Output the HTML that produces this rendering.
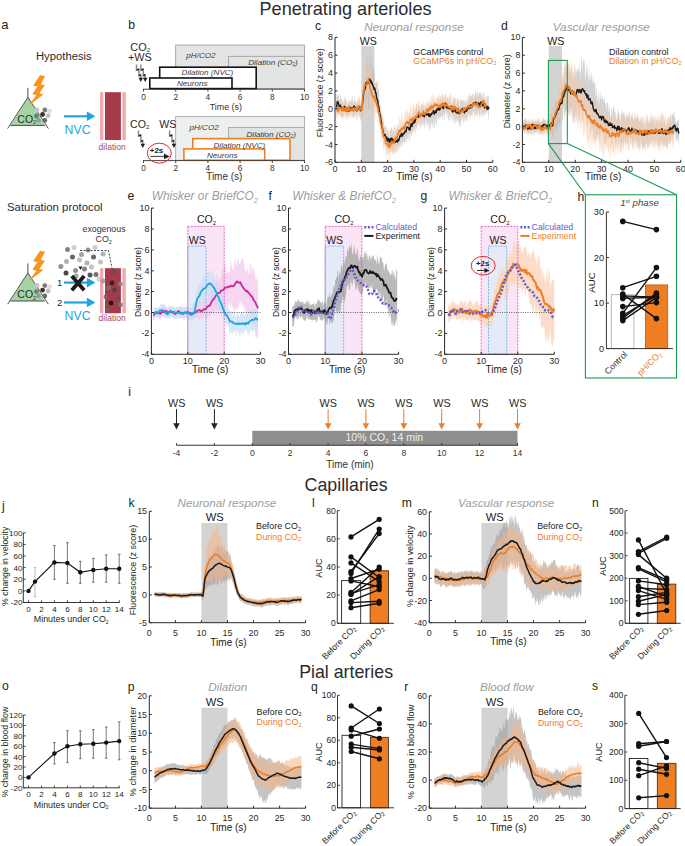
<!DOCTYPE html>
<html><head><meta charset="utf-8"><title>Figure</title>
<style>
html,body{margin:0;padding:0;background:#fff;width:685px;height:846px;overflow:hidden}
svg{display:block}
text{font-family:"Liberation Sans", sans-serif}
</style></head><body>
<svg width="685" height="846" viewBox="0 0 685 846">
<rect width="685" height="846" fill="#fff"/>
<text x="345.5" y="14.6" font-size="18.1" fill="#2b2b2b" text-anchor="middle" >Penetrating arterioles</text>
<text x="346.1" y="491.2" font-size="17.8" fill="#2b2b2b" text-anchor="middle" >Capillaries</text>
<text x="346.1" y="677.5" font-size="17.8" fill="#2b2b2b" text-anchor="middle" >Pial arteries</text>
<text x="1.2" y="29.2" font-size="13" fill="#231f20" text-anchor="start" >a</text>
<text x="36.0" y="59.5" font-size="11.25" fill="#2b2b2b" text-anchor="start" >Hypothesis</text>
<polygon points="27.9,97.3 10.4,125.4 44.9,125.4" fill="#a5d4a6" stroke="none"/>
<path d="M7.6,128.6 L27.9,97.3 L48.4,128.6 M10.4,125.4 H44.9 M27.9,97.3 V87.8" fill="none" stroke="#3d3d3d" stroke-width="0.9"/>
<circle cx="37.1" cy="109.8" r="2.4" fill="#c4c4c4"/>
<circle cx="44.8" cy="110" r="2.4" fill="#7a7a7a"/>
<circle cx="49.5" cy="111.2" r="2.4" fill="#e0e0e0"/>
<circle cx="42.6" cy="114.5" r="2.4" fill="#333"/>
<circle cx="48.1" cy="115.6" r="2.4" fill="#c0c0c0"/>
<circle cx="36.4" cy="116" r="2.4" fill="#6d7f6d"/>
<circle cx="38.6" cy="120.4" r="2.4" fill="#8fa28f"/>
<circle cx="44.8" cy="120.4" r="2.4" fill="#6a6a6a"/>
<text x="17.3" y="122.8" font-size="10.5" fill="#2a2a2a" text-anchor="start" >CO<tspan font-size="5.5" dy="1.5">2</tspan></text>
<polygon points="40.04,75.11 45.00,76.20 40.77,84.23 44.78,85.33 39.31,93.36 43.32,94.45 27.99,106.13 36.39,95.18 32.37,94.09 37.48,86.42 33.10,85.69" fill="#f7941d"/>
<line x1="64" y1="116.3" x2="87.9" y2="116.3" stroke="#1ea4df" stroke-width="2.2"/>
<polygon points="95.4,116.3 86.9,111.5 86.9,121.1" fill="#1ea4df"/>
<text x="64.6" y="133.6" font-size="12.3" fill="#1ea4df" text-anchor="start" >NVC</text>
<rect x="100" y="92.2" width="25.8" height="47.8" fill="#f1a9ae"/>
<rect x="103.4" y="92.2" width="19" height="47.8" fill="#ffffff"/>
<rect x="105" y="92.2" width="15.9" height="47.8" fill="#a53b4a"/>
<text x="98.6" y="149.7" font-size="8.6" fill="#b0485a" text-anchor="start" >dilation</text>
<text x="7.0" y="210.9" font-size="11.4" fill="#2b2b2b" text-anchor="start" >Saturation protocol</text>
<polygon points="27.9,272.9 10.4,301.0 44.9,301.0" fill="#a5d4a6" stroke="none"/>
<path d="M7.6,304.2 L27.9,272.9 L48.4,304.2 M10.4,301.0 H44.9 M27.9,272.9 V263.4" fill="none" stroke="#3d3d3d" stroke-width="0.9"/>
<circle cx="37.1" cy="285.4" r="2.4" fill="#c4c4c4"/>
<circle cx="44.8" cy="285.6" r="2.4" fill="#7a7a7a"/>
<circle cx="49.5" cy="286.8" r="2.4" fill="#e0e0e0"/>
<circle cx="42.6" cy="290.1" r="2.4" fill="#333"/>
<circle cx="48.1" cy="291.2" r="2.4" fill="#c0c0c0"/>
<circle cx="36.4" cy="291.6" r="2.4" fill="#6d7f6d"/>
<circle cx="38.6" cy="296.0" r="2.4" fill="#8fa28f"/>
<circle cx="44.8" cy="296.0" r="2.4" fill="#6a6a6a"/>
<text x="17.3" y="298.4" font-size="10.5" fill="#2a2a2a" text-anchor="start" >CO<tspan font-size="5.5" dy="1.5">2</tspan></text>
<polygon points="40.04,250.71 45.00,251.80 40.77,259.83 44.78,260.93 39.31,268.96 43.32,270.05 27.99,281.73 36.39,270.78 32.37,269.69 37.48,262.02 33.10,261.29" fill="#f7941d"/>
<circle cx="67.5" cy="249.5" r="2.5" fill="#777" fill-opacity="0.9"/>
<circle cx="74" cy="247.5" r="2.5" fill="#c8c8c8" fill-opacity="0.9"/>
<circle cx="88" cy="250" r="2.5" fill="#888" fill-opacity="0.9"/>
<circle cx="95" cy="247.5" r="2.5" fill="#c8c8c8" fill-opacity="0.9"/>
<circle cx="103" cy="254" r="2.5" fill="#aaa" fill-opacity="0.9"/>
<circle cx="72.5" cy="257" r="2.5" fill="#555" fill-opacity="0.9"/>
<circle cx="81.5" cy="254.5" r="2.5" fill="#999" fill-opacity="0.9"/>
<circle cx="93.5" cy="257" r="2.5" fill="#555" fill-opacity="0.9"/>
<circle cx="60.8" cy="266.5" r="2.5" fill="#888" fill-opacity="0.9"/>
<circle cx="66.5" cy="261.5" r="2.5" fill="#aaa" fill-opacity="0.9"/>
<circle cx="79.5" cy="260" r="2.5" fill="#bbb" fill-opacity="0.9"/>
<circle cx="87" cy="263" r="2.5" fill="#aaa" fill-opacity="0.9"/>
<circle cx="91.5" cy="267" r="2.5" fill="#bbb" fill-opacity="0.9"/>
<circle cx="100.5" cy="262" r="2.5" fill="#bbb" fill-opacity="0.9"/>
<circle cx="66" cy="273" r="2.5" fill="#333" fill-opacity="0.9"/>
<circle cx="75.5" cy="270.5" r="2.5" fill="#888" fill-opacity="0.9"/>
<circle cx="84.5" cy="269" r="2.5" fill="#777" fill-opacity="0.9"/>
<circle cx="96" cy="274.5" r="2.5" fill="#666" fill-opacity="0.9"/>
<circle cx="99" cy="279" r="2.5" fill="#ccc" fill-opacity="0.9"/>
<circle cx="90" cy="275" r="2.5" fill="#444" fill-opacity="0.9"/>
<circle cx="76" cy="276" r="2.5" fill="#999" fill-opacity="0.9"/>
<path d="M80,250.5 H108.5 L112,268" fill="none" stroke="#333" stroke-width="0.9" stroke-dasharray="2,1.5"/>
<polygon points="78.5,266.5 82.5,266.5 80.5,270" fill="#222"/>
<text x="82.5" y="232.3" font-size="8.8" fill="#333" text-anchor="start" >exogenous</text>
<text x="95.6" y="242.4" font-size="8.8" fill="#333" text-anchor="start" >CO<tspan font-size="5.5" dy="1.5">2</tspan></text>
<rect x="100" y="268.2" width="25.8" height="45.0" fill="#f1a9ae"/>
<rect x="103.4" y="268.2" width="19" height="45.0" fill="#ffffff"/>
<rect x="105" y="268.2" width="15.9" height="45.0" fill="#a53b4a"/>
<circle cx="113.5" cy="271.5" r="2.4" fill="#555" fill-opacity="0.85"/>
<circle cx="112" cy="283" r="2.4" fill="#222" fill-opacity="0.85"/>
<circle cx="120.5" cy="284" r="2.4" fill="#888" fill-opacity="0.85"/>
<circle cx="108.5" cy="288" r="2.4" fill="#777" fill-opacity="0.85"/>
<circle cx="114.5" cy="290" r="2.4" fill="#444" fill-opacity="0.85"/>
<circle cx="106" cy="297" r="2.4" fill="#666" fill-opacity="0.85"/>
<circle cx="118" cy="298.5" r="2.4" fill="#555" fill-opacity="0.85"/>
<circle cx="111" cy="303" r="2.4" fill="#111" fill-opacity="0.85"/>
<circle cx="120.5" cy="305" r="2.4" fill="#777" fill-opacity="0.85"/>
<circle cx="107.5" cy="310" r="2.4" fill="#666" fill-opacity="0.85"/>
<circle cx="103" cy="281" r="2.4" fill="#999" fill-opacity="0.85"/>
<line x1="64" y1="282.6" x2="87.9" y2="282.6" stroke="#1ea4df" stroke-width="2.2"/>
<polygon points="95.4,282.6 86.9,277.8 86.9,287.40000000000003" fill="#1ea4df"/>
<line x1="64" y1="302.5" x2="87.9" y2="302.5" stroke="#1ea4df" stroke-width="2.2"/>
<polygon points="95.4,302.5 86.9,297.7 86.9,307.3" fill="#1ea4df"/>
<text x="57.0" y="286.2" font-size="9.5" fill="#2b2b2b" text-anchor="start" >1</text>
<text x="57.0" y="306.2" font-size="9.5" fill="#2b2b2b" text-anchor="start" >2</text>
<path d="M71.8,276 L84.2,290.2 M84.2,276 L71.8,290.2" stroke="#1a1a1a" stroke-width="3.8"/>
<text x="64.6" y="320.2" font-size="12.3" fill="#1ea4df" text-anchor="start" >NVC</text>
<text x="98.6" y="321.4" font-size="8.6" fill="#b0485a" text-anchor="start" >dilation</text>
<text x="128.3" y="29.2" font-size="12.2" fill="#231f20" text-anchor="start" >b</text>
<rect x="175.7" y="45" width="128.8" height="43.6" fill="#e3e4e4" stroke="#9a9a9a" stroke-width="0.8"/>
<rect x="228.4" y="56.3" width="76.1" height="32.3" fill="#e3e4e4" stroke="#9a9a9a" stroke-width="0.8"/>
<rect x="159.7" y="67.2" width="96.5" height="21.4" fill="#fff" stroke="#111" stroke-width="1.6"/>
<rect x="149.8" y="78" width="82.2" height="10.6" fill="#fff" stroke="#111" stroke-width="1.6"/>
<text x="186.3" y="57.7" font-size="8.1" fill="#3a3a3a" text-anchor="start" font-style="italic" >pH/CO2</text>
<text x="248.2" y="65.0" font-size="8.1" fill="#3a3a3a" text-anchor="start" font-style="italic" >Dilation (CO<tspan font-size="5" dy="1.2">2</tspan><tspan dy="-1.2">)</tspan></text>
<text x="181.6" y="75.3" font-size="8.1" fill="#3a3a3a" text-anchor="start" font-style="italic" >Dilation (NVC)</text>
<text x="177.0" y="85.9" font-size="8.1" fill="#3a3a3a" text-anchor="start" font-style="italic" >Neurons</text>
<line x1="143.0" y1="89.2" x2="305.0" y2="89.2" stroke="#333" stroke-width="0.9"/>
<line x1="143.5" y1="89.2" x2="143.5" y2="91.6" stroke="#333" stroke-width="0.9"/>
<text x="143.5" y="99.8" font-size="8.3" fill="#333" text-anchor="middle" >0</text>
<line x1="175.7" y1="89.2" x2="175.7" y2="91.6" stroke="#333" stroke-width="0.9"/>
<text x="175.7" y="99.8" font-size="8.3" fill="#333" text-anchor="middle" >2</text>
<line x1="207.9" y1="89.2" x2="207.9" y2="91.6" stroke="#333" stroke-width="0.9"/>
<text x="207.9" y="99.8" font-size="8.3" fill="#333" text-anchor="middle" >4</text>
<line x1="240.1" y1="89.2" x2="240.1" y2="91.6" stroke="#333" stroke-width="0.9"/>
<text x="240.1" y="99.8" font-size="8.3" fill="#333" text-anchor="middle" >6</text>
<line x1="272.3" y1="89.2" x2="272.3" y2="91.6" stroke="#333" stroke-width="0.9"/>
<text x="272.3" y="99.8" font-size="8.3" fill="#333" text-anchor="middle" >8</text>
<line x1="304.5" y1="89.2" x2="304.5" y2="91.6" stroke="#333" stroke-width="0.9"/>
<text x="304.5" y="99.8" font-size="8.3" fill="#333" text-anchor="middle" >10</text>
<text x="225.8" y="109.6" font-size="8.9" fill="#333" text-anchor="middle" >Time (s)</text>
<text x="130.3" y="50.6" font-size="10.9" fill="#2b2b2b" text-anchor="start" >CO<tspan font-size="6" dy="1.5">2</tspan></text>
<text x="127.9" y="60.9" font-size="10.9" fill="#2b2b2b" text-anchor="start" >+WS</text>
<path d="M136.5,64.6 L136.5,70.1 L138.9,69.2 L138.9,75.7 L140.7,74.7 L140.8,79.2" fill="none" stroke="#8a8a8a" stroke-width="1.5"/>
<line x1="136.7" y1="70.2" x2="138.9" y2="69.1" stroke="#222" stroke-width="1.4"/>
<line x1="139.1" y1="75.8" x2="140.8" y2="74.7" stroke="#222" stroke-width="1.4"/>
<polygon points="138.5,77.8 143.1,77.8 140.8,82.1" fill="#222"/>
<path d="M140.9,64.6 L140.9,70.1 L143.3,69.2 L143.3,75.7 L145.1,74.7 L145.2,79.2" fill="none" stroke="#8a8a8a" stroke-width="1.5"/>
<line x1="141.1" y1="70.2" x2="143.3" y2="69.1" stroke="#222" stroke-width="1.4"/>
<line x1="143.5" y1="75.8" x2="145.2" y2="74.7" stroke="#222" stroke-width="1.4"/>
<polygon points="142.9,77.8 147.5,77.8 145.2,82.1" fill="#222"/>
<rect x="175.7" y="116.4" width="128.8" height="43.8" fill="#eef0f0" stroke="#a0a0a0" stroke-width="0.8"/>
<rect x="228.4" y="127.6" width="76.1" height="32.6" fill="#e2e4e4" stroke="#a0a0a0" stroke-width="0.8"/>
<rect x="192.8" y="138.6" width="97.2" height="21.6" fill="#fff" stroke="#ef7d22" stroke-width="1.6"/>
<rect x="183.9" y="148.9" width="80.8" height="11.3" fill="#fff" stroke="#ef7d22" stroke-width="1.6"/>
<text x="189.5" y="129.5" font-size="8.1" fill="#3a3a3a" text-anchor="start" font-style="italic" >pH/CO2</text>
<text x="246.5" y="137.2" font-size="8.1" fill="#3a3a3a" text-anchor="start" font-style="italic" >Dilation (CO<tspan font-size="5" dy="1.2">2</tspan><tspan dy="-1.2">)</tspan></text>
<text x="213.5" y="147.7" font-size="8.1" fill="#3a3a3a" text-anchor="start" font-style="italic" >Dilation (NVC)</text>
<text x="207.0" y="157.9" font-size="8.1" fill="#3a3a3a" text-anchor="start" font-style="italic" >Neurons</text>
<line x1="143.0" y1="160.6" x2="305.0" y2="160.6" stroke="#333" stroke-width="0.9"/>
<line x1="143.5" y1="160.6" x2="143.5" y2="163.0" stroke="#333" stroke-width="0.9"/>
<text x="143.5" y="171.2" font-size="8.3" fill="#333" text-anchor="middle" >0</text>
<line x1="175.7" y1="160.6" x2="175.7" y2="163.0" stroke="#333" stroke-width="0.9"/>
<text x="175.7" y="171.2" font-size="8.3" fill="#333" text-anchor="middle" >2</text>
<line x1="207.9" y1="160.6" x2="207.9" y2="163.0" stroke="#333" stroke-width="0.9"/>
<text x="207.9" y="171.2" font-size="8.3" fill="#333" text-anchor="middle" >4</text>
<line x1="240.1" y1="160.6" x2="240.1" y2="163.0" stroke="#333" stroke-width="0.9"/>
<text x="240.1" y="171.2" font-size="8.3" fill="#333" text-anchor="middle" >6</text>
<line x1="272.3" y1="160.6" x2="272.3" y2="163.0" stroke="#333" stroke-width="0.9"/>
<text x="272.3" y="171.2" font-size="8.3" fill="#333" text-anchor="middle" >8</text>
<line x1="304.5" y1="160.6" x2="304.5" y2="163.0" stroke="#333" stroke-width="0.9"/>
<text x="304.5" y="171.2" font-size="8.3" fill="#333" text-anchor="middle" >10</text>
<text x="224.3" y="180.2" font-size="10" fill="#333" text-anchor="middle" >Time (s)</text>
<text x="130.1" y="127.8" font-size="10.6" fill="#2b2b2b" text-anchor="start" >CO<tspan font-size="6" dy="1.5">2</tspan></text>
<text x="159.3" y="127.8" font-size="10.6" fill="#2b2b2b" text-anchor="start" >WS</text>
<path d="M138.5,130.5 L138.5,136.0 L140.9,135.1 L140.9,141.6 L142.7,140.6 L142.8,145.1" fill="none" stroke="#8a8a8a" stroke-width="1.5"/>
<line x1="138.7" y1="136.1" x2="140.9" y2="135.0" stroke="#222" stroke-width="1.4"/>
<line x1="141.1" y1="141.7" x2="142.8" y2="140.6" stroke="#222" stroke-width="1.4"/>
<polygon points="140.5,143.7 145.1,143.7 142.8,148.0" fill="#222"/>
<path d="M169.6,130.5 L169.6,136.0 L172.0,135.1 L172.0,141.6 L173.8,140.6 L173.9,145.1" fill="none" stroke="#8a8a8a" stroke-width="1.5"/>
<line x1="169.8" y1="136.1" x2="172.0" y2="135.0" stroke="#222" stroke-width="1.4"/>
<line x1="172.2" y1="141.7" x2="173.9" y2="140.6" stroke="#222" stroke-width="1.4"/>
<polygon points="171.6,143.7 176.2,143.7 173.9,148.0" fill="#222"/>
<ellipse cx="159.3" cy="153.2" rx="12" ry="10" fill="none" stroke="#e0282e" stroke-width="1"/>
<text x="149.8" y="153.4" font-size="7.9" fill="#222" text-anchor="start" font-weight="bold" >+2s</text>
<line x1="150.3" y1="156.4" x2="165" y2="156.4" stroke="#222" stroke-width="0.9"/>
<polygon points="169.6,156.4 164,153.6 164,159.2" fill="#222"/>
<text x="315.0" y="29.5" font-size="12.2" fill="#231f20" text-anchor="start" >c</text>
<text x="414.0" y="30.7" font-size="11.8" fill="#9d9d9d" text-anchor="middle" font-style="italic" >Neuronal response</text>
<rect x="361.3" y="46" width="13.1" height="116.3" fill="#d3d3d3"/>
<text x="368.2" y="44.6" font-size="10.6" fill="#1a1a1a" text-anchor="middle" >WS</text>
<polygon points="336.31,97.80 336.79,93.68 337.27,94.62 337.75,96.69 338.23,95.82 338.71,94.45 339.18,99.76 339.66,100.84 340.14,93.91 340.62,94.34 341.10,97.96 341.57,100.15 342.05,98.58 342.53,103.49 343.01,100.07 343.49,104.95 343.97,94.89 344.44,102.83 344.92,95.00 345.40,97.95 345.88,102.12 346.36,99.79 346.83,99.61 347.31,106.17 347.79,105.92 348.27,99.92 348.75,102.50 349.23,102.95 349.70,99.45 350.18,102.72 350.66,101.33 351.14,100.20 351.62,99.78 352.10,95.50 352.57,96.47 353.05,105.13 353.53,101.05 354.01,102.27 354.49,94.83 354.96,98.32 355.44,102.39 355.92,101.12 356.40,102.23 356.88,103.98 357.36,103.91 357.83,104.71 358.31,102.85 358.79,98.21 359.27,103.09 359.75,94.43 360.22,99.68 360.70,107.14 361.18,101.42 361.66,99.07 362.14,96.62 362.62,93.67 363.09,87.11 363.57,78.46 364.05,79.55 364.53,82.73 365.01,73.97 365.48,70.00 365.96,58.75 366.44,71.02 366.92,56.57 367.40,55.67 367.88,62.94 368.35,69.49 368.83,62.68 369.31,71.58 369.79,50.30 370.27,54.36 370.74,63.01 371.22,65.30 371.70,69.63 372.18,75.07 372.66,64.40 373.13,68.17 373.61,65.28 374.09,73.61 374.57,67.43 375.05,82.80 375.53,83.58 376.00,82.62 376.48,82.48 376.96,80.72 377.44,80.06 377.92,86.44 378.39,89.68 378.87,88.78 379.35,99.69 379.83,102.93 380.31,106.48 380.79,111.87 381.26,106.77 381.74,116.70 382.22,116.25 382.70,119.41 383.18,122.47 383.65,117.95 384.13,127.88 384.61,126.74 385.09,126.78 385.57,126.79 386.05,122.80 386.52,130.26 387.00,136.07 387.48,127.93 387.96,132.67 388.44,129.94 388.92,136.66 389.39,137.14 389.87,127.51 390.35,130.83 390.83,127.75 391.31,127.37 391.78,127.85 392.26,134.92 392.74,128.74 393.22,130.44 393.70,130.12 394.18,127.65 394.65,137.33 395.13,133.90 395.61,130.66 396.09,127.55 396.57,131.09 397.04,127.32 397.52,130.08 398.00,125.38 398.48,126.31 398.96,129.75 399.44,132.58 399.91,131.17 400.39,129.53 400.87,126.32 401.35,128.93 401.83,121.84 402.30,123.85 402.78,130.68 403.26,123.25 403.74,129.71 404.22,120.63 404.69,122.98 405.17,122.98 405.65,127.60 406.13,124.40 406.61,118.20 407.09,114.10 407.56,120.11 408.04,123.21 408.52,117.19 409.00,114.91 409.48,117.37 409.95,116.46 410.43,117.67 410.91,117.09 411.39,114.97 411.87,117.06 412.35,119.41 412.82,112.20 413.30,115.98 413.78,110.56 414.26,112.82 414.74,112.33 415.22,108.54 415.69,112.23 416.17,103.23 416.65,104.01 417.13,110.22 417.61,111.03 418.08,104.26 418.56,105.55 419.04,112.15 419.52,105.00 420.00,108.01 420.48,111.59 420.95,101.29 421.43,105.81 421.91,102.11 422.39,106.29 422.87,105.08 423.34,108.46 423.82,104.80 424.30,104.91 424.78,108.46 425.26,108.62 425.74,107.92 426.21,102.78 426.69,109.43 427.17,103.33 427.65,106.89 428.13,105.59 428.60,100.99 429.08,104.82 429.56,107.15 430.04,103.78 430.52,104.11 431.00,100.20 431.47,104.49 431.95,102.22 432.43,107.46 432.91,99.98 433.39,105.20 433.86,99.88 434.34,106.71 434.82,100.13 435.30,101.96 435.78,107.59 436.25,106.99 436.73,97.85 437.21,101.71 437.69,101.87 438.17,93.58 438.65,99.24 439.12,93.89 439.60,101.46 440.08,100.72 440.56,95.06 441.04,100.51 441.51,99.59 441.99,93.18 442.47,96.40 442.95,99.89 443.43,97.23 443.91,100.92 444.38,100.43 444.86,96.05 445.34,96.81 445.82,92.11 446.30,101.84 446.78,98.03 447.25,94.99 447.73,100.91 448.21,97.35 448.69,102.34 449.17,101.07 449.64,95.75 450.12,93.74 450.60,94.28 451.08,101.42 451.56,104.43 452.04,102.81 452.51,108.18 452.99,95.02 453.47,99.07 453.95,99.30 454.43,99.34 454.90,96.89 455.38,97.94 455.86,106.97 456.34,105.36 456.82,96.91 457.30,99.59 457.77,96.84 458.25,102.83 458.73,98.40 459.21,109.98 459.69,100.33 460.16,98.70 460.64,98.63 461.12,100.45 461.60,101.31 462.08,99.82 462.56,100.17 463.03,99.88 463.51,98.21 463.99,108.05 464.47,102.81 464.95,97.66 465.42,103.22 465.90,103.58 466.38,105.14 466.86,101.52 467.34,98.38 467.81,103.67 468.29,102.57 468.77,95.28 469.25,95.83 469.73,91.59 470.21,100.13 470.68,93.79 471.16,95.75 471.64,96.23 472.12,94.73 472.60,91.80 473.07,100.71 473.55,92.89 474.03,98.56 474.51,97.60 474.99,94.00 475.47,89.95 475.94,91.84 476.42,94.36 476.90,96.92 477.38,92.85 477.86,90.16 478.34,97.30 478.81,92.17 479.29,93.84 479.77,91.47 480.25,94.76 480.73,91.34 481.20,97.59 481.68,89.84 482.16,97.23 482.64,98.18 483.12,97.99 483.60,92.26 484.07,91.66 484.55,100.29 485.03,99.02 485.51,99.80 485.99,94.87 486.46,97.96 486.94,101.89 487.42,95.04 487.90,95.74 488.38,94.65 488.86,95.64 488.86,123.17 488.38,117.42 487.90,114.34 487.42,110.53 486.94,113.50 486.46,111.99 485.99,111.57 485.51,115.95 485.03,114.32 484.55,113.63 484.07,112.50 483.60,115.59 483.12,117.50 482.64,113.36 482.16,117.98 481.68,115.85 481.20,107.23 480.73,108.35 480.25,116.38 479.77,118.57 479.29,114.61 478.81,113.06 478.34,111.36 477.86,110.26 477.38,116.35 476.90,117.54 476.42,114.11 475.94,115.74 475.47,114.64 474.99,106.82 474.51,117.58 474.03,117.54 473.55,112.12 473.07,110.67 472.60,112.45 472.12,117.13 471.64,113.00 471.16,116.20 470.68,115.68 470.21,118.55 469.73,113.17 469.25,121.52 468.77,113.95 468.29,112.07 467.81,122.62 467.34,115.38 466.86,119.25 466.38,120.80 465.90,122.14 465.42,118.54 464.95,116.37 464.47,122.49 463.99,117.84 463.51,125.87 463.03,119.64 462.56,117.18 462.08,114.40 461.60,118.17 461.12,123.38 460.64,122.58 460.16,126.49 459.69,126.33 459.21,125.83 458.73,119.92 458.25,124.06 457.77,121.13 457.30,119.52 456.82,117.52 456.34,122.48 455.86,119.43 455.38,123.77 454.90,125.31 454.43,115.67 453.95,123.70 453.47,119.86 452.99,113.74 452.51,123.47 452.04,119.01 451.56,113.36 451.08,111.15 450.60,116.24 450.12,120.75 449.64,119.04 449.17,111.41 448.69,121.71 448.21,120.64 447.73,116.80 447.25,111.91 446.78,119.24 446.30,110.20 445.82,111.29 445.34,110.18 444.86,114.63 444.38,117.42 443.91,122.21 443.43,114.28 442.95,112.79 442.47,121.93 441.99,115.77 441.51,115.38 441.04,117.97 440.56,116.01 440.08,120.65 439.60,117.28 439.12,119.89 438.65,117.91 438.17,116.21 437.69,114.81 437.21,120.58 436.73,124.30 436.25,127.85 435.78,116.90 435.30,122.70 434.82,126.78 434.34,129.54 433.86,127.03 433.39,119.84 432.91,127.31 432.43,127.59 431.95,120.47 431.47,122.74 431.00,126.12 430.52,129.47 430.04,131.61 429.56,128.56 429.08,123.01 428.60,127.75 428.13,119.10 427.65,129.06 427.17,122.38 426.69,128.77 426.21,118.94 425.74,119.45 425.26,123.31 424.78,124.68 424.30,129.88 423.82,126.04 423.34,119.06 422.87,125.98 422.39,126.07 421.91,123.27 421.43,125.07 420.95,120.15 420.48,131.26 420.00,120.09 419.52,127.49 419.04,125.48 418.56,124.57 418.08,122.43 417.61,122.95 417.13,128.50 416.65,130.28 416.17,125.22 415.69,127.58 415.22,135.86 414.74,126.92 414.26,130.15 413.78,134.46 413.30,129.24 412.82,131.92 412.35,132.31 411.87,136.16 411.39,131.32 410.91,139.01 410.43,131.38 409.95,134.13 409.48,141.50 409.00,142.80 408.52,135.54 408.04,133.23 407.56,139.13 407.09,139.34 406.61,140.98 406.13,144.61 405.65,136.14 405.17,143.24 404.69,145.30 404.22,142.96 403.74,141.89 403.26,141.48 402.78,142.30 402.30,148.05 401.83,142.29 401.35,145.49 400.87,143.80 400.39,149.95 399.91,143.59 399.44,150.44 398.96,149.16 398.48,146.12 398.00,147.10 397.52,153.45 397.04,152.13 396.57,149.93 396.09,145.01 395.61,147.68 395.13,154.67 394.65,151.14 394.18,151.60 393.70,147.68 393.22,153.00 392.74,151.90 392.26,151.20 391.78,152.08 391.31,150.49 390.83,153.63 390.35,147.42 389.87,149.28 389.39,151.51 388.92,148.56 388.44,151.90 387.96,152.42 387.48,148.33 387.00,146.95 386.52,151.79 386.05,148.31 385.57,146.14 385.09,143.24 384.61,144.58 384.13,146.54 383.65,142.63 383.18,138.89 382.70,140.29 382.22,136.06 381.74,139.60 381.26,130.40 380.79,133.82 380.31,120.05 379.83,120.03 379.35,124.54 378.87,114.73 378.39,120.80 377.92,108.69 377.44,114.19 376.96,106.70 376.48,106.36 376.00,102.09 375.53,101.14 375.05,105.66 374.57,96.43 374.09,101.17 373.61,110.53 373.13,107.87 372.66,110.28 372.18,106.42 371.70,112.12 371.22,105.49 370.74,92.45 370.27,98.10 369.79,96.49 369.31,108.29 368.83,109.11 368.35,112.14 367.88,100.18 367.40,105.67 366.92,97.88 366.44,100.11 365.96,109.60 365.48,110.15 365.01,102.76 364.53,98.45 364.05,101.62 363.57,98.39 363.09,112.10 362.62,116.43 362.14,118.62 361.66,117.12 361.18,118.87 360.70,120.19 360.22,122.07 359.75,115.52 359.27,117.69 358.79,117.16 358.31,112.09 357.83,112.84 357.36,118.66 356.88,121.84 356.40,113.47 355.92,115.56 355.44,115.02 354.96,111.60 354.49,118.61 354.01,115.39 353.53,119.27 353.05,117.01 352.57,114.26 352.10,119.60 351.62,112.08 351.14,111.70 350.66,114.51 350.18,112.92 349.70,113.45 349.23,120.58 348.75,114.81 348.27,118.95 347.79,114.28 347.31,116.31 346.83,115.31 346.36,123.07 345.88,118.12 345.40,113.56 344.92,111.63 344.44,113.07 343.97,119.85 343.49,114.14 343.01,118.49 342.53,119.63 342.05,115.69 341.57,117.77 341.10,119.04 340.62,115.12 340.14,115.29 339.66,112.12 339.18,116.84 338.71,112.96 338.23,113.73 337.75,112.52 337.27,108.57 336.79,114.07 336.31,119.78" fill="#b4b4b4" fill-opacity="0.55" stroke="none"/>
<polygon points="335.79,102.79 336.26,100.88 336.73,98.46 337.20,106.52 337.68,105.75 338.15,100.55 338.62,104.34 339.09,103.49 339.56,98.07 340.03,101.99 340.50,101.15 340.98,104.81 341.45,105.45 341.92,100.22 342.39,101.35 342.86,104.34 343.33,103.08 343.81,105.18 344.28,103.21 344.75,101.97 345.22,102.85 345.69,101.98 346.16,103.15 346.64,103.91 347.11,107.79 347.58,100.50 348.05,105.34 348.52,103.53 348.99,100.33 349.46,99.88 349.94,103.52 350.41,106.48 350.88,103.10 351.35,100.80 351.82,103.20 352.29,104.13 352.77,99.31 353.24,104.06 353.71,102.93 354.18,104.84 354.65,102.03 355.12,105.12 355.60,103.18 356.07,99.00 356.54,103.55 357.01,102.93 357.48,98.85 357.95,99.59 358.43,96.80 358.90,99.50 359.37,99.93 359.84,100.04 360.31,100.36 360.78,101.88 361.25,102.27 361.73,106.39 362.20,99.14 362.67,90.35 363.14,76.29 363.61,80.26 364.08,75.38 364.56,76.44 365.03,68.83 365.50,61.91 365.97,75.74 366.44,61.54 366.91,56.31 367.39,68.87 367.86,55.63 368.33,60.16 368.80,71.77 369.27,69.39 369.74,63.40 370.21,64.45 370.69,77.37 371.16,61.77 371.63,84.42 372.10,85.94 372.57,79.39 373.04,77.46 373.52,76.60 373.99,86.04 374.46,79.08 374.93,85.97 375.40,95.62 375.87,80.65 376.35,85.45 376.82,100.60 377.29,91.94 377.76,90.02 378.23,107.26 378.70,101.85 379.17,105.92 379.65,110.06 380.12,106.84 380.59,111.14 381.06,116.54 381.53,120.20 382.00,120.74 382.48,113.52 382.95,116.94 383.42,129.48 383.89,128.45 384.36,122.10 384.83,127.30 385.31,127.32 385.78,131.12 386.25,126.55 386.72,138.57 387.19,131.59 387.66,129.41 388.14,127.19 388.61,134.15 389.08,134.05 389.55,141.21 390.02,129.40 390.49,132.33 390.96,138.25 391.44,134.25 391.91,132.58 392.38,137.21 392.85,130.06 393.32,128.15 393.79,131.90 394.27,126.47 394.74,124.21 395.21,128.59 395.68,123.24 396.15,131.77 396.62,128.19 397.10,123.87 397.57,125.67 398.04,122.00 398.51,128.61 398.98,123.77 399.45,116.94 399.92,116.66 400.40,123.75 400.87,121.12 401.34,115.09 401.81,112.12 402.28,116.20 402.75,122.36 403.23,123.16 403.70,120.33 404.17,111.82 404.64,113.76 405.11,117.98 405.58,110.45 406.06,108.38 406.53,113.12 407.00,107.29 407.47,112.91 407.94,110.06 408.41,115.84 408.88,110.45 409.36,109.17 409.83,113.52 410.30,105.70 410.77,105.66 411.24,108.24 411.71,111.74 412.19,111.71 412.66,105.86 413.13,105.16 413.60,104.24 414.07,105.22 414.54,109.95 415.02,108.30 415.49,107.95 415.96,104.15 416.43,104.06 416.90,102.65 417.37,106.27 417.85,104.65 418.32,100.24 418.79,101.50 419.26,101.07 419.73,109.48 420.20,107.45 420.67,108.04 421.15,102.22 421.62,108.27 422.09,103.27 422.56,106.34 423.03,103.74 423.50,98.61 423.98,109.00 424.45,104.86 424.92,102.50 425.39,107.85 425.86,101.12 426.33,100.23 426.81,101.93 427.28,101.22 427.75,103.21 428.22,105.81 428.69,103.23 429.16,98.46 429.63,96.83 430.11,102.13 430.58,105.33 431.05,94.74 431.52,97.05 431.99,101.04 432.46,96.30 432.94,92.77 433.41,98.25 433.88,93.28 434.35,101.98 434.82,92.58 435.29,101.21 435.77,95.89 436.24,102.45 436.71,96.98 437.18,94.92 437.65,99.80 438.12,94.67 438.59,99.37 439.07,95.77 439.54,100.18 440.01,97.77 440.48,96.48 440.95,97.73 441.42,97.53 441.90,95.02 442.37,91.48 442.84,94.85 443.31,96.15 443.78,96.48 444.25,92.71 444.73,95.30 445.20,94.93 445.67,93.34 446.14,100.70 446.61,95.23 447.08,97.43 447.55,97.51 448.03,96.92 448.50,97.24 448.97,104.28 449.44,104.48 449.91,100.46 450.38,97.94 450.86,96.67 451.33,104.36 451.80,102.27 452.27,101.65 452.74,95.08 453.21,99.08 453.69,106.26 454.16,102.72 454.63,94.55 455.10,103.24 455.57,97.42 456.04,104.35 456.52,102.29 456.99,107.38 457.46,103.24 457.93,99.49 458.40,100.26 458.87,105.56 459.34,108.48 459.82,105.44 460.29,109.33 460.76,109.79 461.23,105.92 461.70,105.12 462.17,106.72 462.65,104.53 463.12,100.44 463.59,107.34 464.06,103.19 464.53,98.98 465.00,102.86 465.48,99.89 465.95,101.93 466.42,101.31 466.89,99.40 467.36,99.88 467.83,94.82 468.30,96.00 468.78,100.35 469.25,103.02 469.72,97.70 470.19,96.69 470.66,98.36 471.13,101.97 471.61,101.27 472.08,97.19 472.55,99.64 473.02,100.92 473.49,95.87 473.96,94.09 474.44,95.62 474.91,99.22 475.38,95.09 475.85,100.66 476.32,94.95 476.79,100.89 477.26,93.80 477.74,102.70 478.21,96.76 478.68,98.11 479.15,101.98 479.62,104.68 480.09,103.69 480.57,100.23 481.04,98.91 481.51,96.50 481.98,96.08 482.45,93.75 482.92,94.30 483.40,98.52 483.87,96.50 484.34,98.07 484.81,103.55 485.28,97.82 485.75,95.44 486.23,103.18 486.23,111.36 485.75,112.80 485.28,110.30 484.81,110.48 484.34,110.09 483.87,109.73 483.40,104.54 482.92,105.96 482.45,109.36 481.98,111.77 481.51,112.87 481.04,112.53 480.57,114.34 480.09,115.28 479.62,111.86 479.15,117.69 478.68,110.10 478.21,114.49 477.74,114.91 477.26,111.33 476.79,107.25 476.32,110.99 475.85,109.14 475.38,114.76 474.91,106.66 474.44,106.38 473.96,112.12 473.49,110.33 473.02,109.85 472.55,112.79 472.08,114.58 471.61,111.48 471.13,115.48 470.66,110.58 470.19,113.21 469.72,116.56 469.25,112.85 468.78,115.23 468.30,111.96 467.83,111.01 467.36,110.61 466.89,115.95 466.42,111.34 465.95,114.00 465.48,112.71 465.00,118.13 464.53,115.39 464.06,118.98 463.59,121.75 463.12,115.79 462.65,117.62 462.17,117.72 461.70,119.04 461.23,120.29 460.76,123.36 460.29,121.19 459.82,120.84 459.34,120.40 458.87,114.58 458.40,115.59 457.93,116.59 457.46,115.57 456.99,122.51 456.52,120.24 456.04,111.98 455.57,116.29 455.10,111.73 454.63,116.18 454.16,113.26 453.69,119.89 453.21,113.51 452.74,115.07 452.27,113.25 451.80,121.13 451.33,112.73 450.86,109.35 450.38,120.01 449.91,116.89 449.44,118.18 448.97,116.25 448.50,118.04 448.03,113.17 447.55,112.93 447.08,111.23 446.61,114.17 446.14,111.37 445.67,112.87 445.20,113.89 444.73,109.77 444.25,114.25 443.78,109.92 443.31,112.88 442.84,109.47 442.37,106.98 441.90,113.52 441.42,113.64 440.95,114.47 440.48,116.42 440.01,116.87 439.54,114.92 439.07,112.32 438.59,112.92 438.12,111.34 437.65,117.01 437.18,115.77 436.71,112.38 436.24,113.14 435.77,110.63 435.29,112.66 434.82,110.74 434.35,113.58 433.88,119.05 433.41,114.67 432.94,110.44 432.46,111.23 431.99,121.05 431.52,115.00 431.05,118.29 430.58,118.04 430.11,114.38 429.63,112.11 429.16,116.86 428.69,115.22 428.22,122.42 427.75,113.39 427.28,121.95 426.81,113.11 426.33,119.73 425.86,121.20 425.39,124.49 424.92,119.56 424.45,120.46 423.98,123.79 423.50,122.72 423.03,118.26 422.56,124.74 422.09,127.15 421.62,123.82 421.15,119.15 420.67,125.72 420.20,128.93 419.73,125.73 419.26,119.56 418.79,120.32 418.32,121.27 417.85,122.57 417.37,127.55 416.90,130.03 416.43,126.07 415.96,125.18 415.49,127.55 415.02,130.88 414.54,123.25 414.07,131.75 413.60,129.93 413.13,122.52 412.66,130.00 412.19,131.27 411.71,133.30 411.24,134.15 410.77,134.10 410.30,134.73 409.83,134.40 409.36,128.13 408.88,129.94 408.41,133.93 407.94,131.30 407.47,130.98 407.00,127.59 406.53,135.93 406.06,127.91 405.58,132.71 405.11,137.59 404.64,135.40 404.17,131.97 403.70,138.60 403.23,136.49 402.75,139.26 402.28,141.71 401.81,139.03 401.34,139.73 400.87,138.22 400.40,136.09 399.92,138.54 399.45,134.85 398.98,146.94 398.51,138.08 398.04,143.87 397.57,140.87 397.10,142.81 396.62,153.30 396.15,154.13 395.68,148.50 395.21,152.68 394.74,153.52 394.27,149.25 393.79,153.68 393.32,155.40 392.85,152.59 392.38,158.00 391.91,150.53 391.44,148.54 390.96,151.68 390.49,161.12 390.02,148.68 389.55,163.82 389.08,158.56 388.61,156.96 388.14,149.44 387.66,155.76 387.19,154.51 386.72,159.29 386.25,156.74 385.78,152.26 385.31,149.18 384.83,146.76 384.36,144.10 383.89,152.55 383.42,148.48 382.95,145.90 382.48,131.61 382.00,133.08 381.53,141.59 381.06,141.86 380.59,129.57 380.12,124.70 379.65,123.27 379.17,124.82 378.70,117.95 378.23,117.64 377.76,111.74 377.29,111.29 376.82,110.54 376.35,119.31 375.87,105.81 375.40,119.86 374.93,115.74 374.46,104.22 373.99,116.35 373.52,120.48 373.04,114.46 372.57,116.71 372.10,119.24 371.63,101.34 371.16,118.08 370.69,105.28 370.21,112.10 369.74,104.87 369.27,99.83 368.80,91.51 368.33,91.48 367.86,105.83 367.39,110.65 366.91,95.32 366.44,95.27 365.97,116.88 365.50,108.53 365.03,101.23 364.56,101.81 364.08,107.97 363.61,100.75 363.14,107.96 362.67,114.25 362.20,117.98 361.73,115.15 361.25,117.07 360.78,113.13 360.31,111.32 359.84,113.39 359.37,114.02 358.90,114.61 358.43,108.75 357.95,113.00 357.48,112.20 357.01,119.22 356.54,112.08 356.07,116.14 355.60,118.04 355.12,116.80 354.65,113.16 354.18,115.45 353.71,117.81 353.24,115.11 352.77,117.58 352.29,115.38 351.82,116.14 351.35,117.53 350.88,115.80 350.41,115.61 349.94,118.64 349.46,112.32 348.99,116.13 348.52,116.33 348.05,112.74 347.58,116.29 347.11,118.61 346.64,114.15 346.16,115.27 345.69,112.39 345.22,118.40 344.75,117.09 344.28,117.31 343.81,111.54 343.33,116.95 342.86,115.47 342.39,114.66 341.92,115.15 341.45,115.39 340.98,112.72 340.50,116.30 340.03,115.29 339.56,116.23 339.09,113.17 338.62,117.71 338.15,114.79 337.68,118.72 337.20,118.58 336.73,112.07 336.26,112.77 335.79,113.90" fill="#f7c9a8" fill-opacity="0.55" stroke="none"/>
<path d="M336.31,108.98 L336.79,105.98 L337.27,101.67 L337.75,101.53 L338.23,103.09 L338.71,104.12 L339.18,106.67 L339.66,106.17 L340.14,105.81 L340.62,105.29 L341.10,108.50 L341.57,108.85 L342.05,110.18 L342.53,107.74 L343.01,107.71 L343.49,110.46 L343.97,107.17 L344.44,106.26 L344.92,107.34 L345.40,107.84 L345.88,109.99 L346.36,111.26 L346.83,109.39 L347.31,110.88 L347.79,110.76 L348.27,110.50 L348.75,111.34 L349.23,109.70 L349.70,109.31 L350.18,107.44 L350.66,108.29 L351.14,108.01 L351.62,108.54 L352.10,107.99 L352.57,108.72 L353.05,109.73 L353.53,106.88 L354.01,106.04 L354.49,106.46 L354.96,107.17 L355.44,109.10 L355.92,110.05 L356.40,110.08 L356.88,111.04 L357.36,108.29 L357.83,109.06 L358.31,107.34 L358.79,108.84 L359.27,106.79 L359.75,106.66 L360.22,110.42 L360.70,110.81 L361.18,108.00 L361.66,109.23 L362.14,106.90 L362.62,103.04 L363.09,99.21 L363.57,92.94 L364.05,89.92 L364.53,89.96 L365.01,89.49 L365.48,87.00 L365.96,83.07 L366.44,82.15 L366.92,84.03 L367.40,83.39 L367.88,83.30 L368.35,82.88 L368.83,78.97 L369.31,79.93 L369.79,79.12 L370.27,80.08 L370.74,82.06 L371.22,80.86 L371.70,83.69 L372.18,82.86 L372.66,85.49 L373.13,85.52 L373.61,87.81 L374.09,89.39 L374.57,87.93 L375.05,89.36 L375.53,93.11 L376.00,92.83 L376.48,96.83 L376.96,99.05 L377.44,99.44 L377.92,102.19 L378.39,107.09 L378.87,106.38 L379.35,111.26 L379.83,114.23 L380.31,114.60 L380.79,118.53 L381.26,121.69 L381.74,125.45 L382.22,128.34 L382.70,128.88 L383.18,132.37 L383.65,133.68 L384.13,135.19 L384.61,135.92 L385.09,134.56 L385.57,136.86 L386.05,137.76 L386.52,136.86 L387.00,139.84 L387.48,141.12 L387.96,138.47 L388.44,138.34 L388.92,141.04 L389.39,142.38 L389.87,140.19 L390.35,138.55 L390.83,141.22 L391.31,138.64 L391.78,138.08 L392.26,139.04 L392.74,140.04 L393.22,141.90 L393.70,142.94 L394.18,139.37 L394.65,141.63 L395.13,140.43 L395.61,142.19 L396.09,140.40 L396.57,140.98 L397.04,141.76 L397.52,142.05 L398.00,139.29 L398.48,140.85 L398.96,140.15 L399.44,138.04 L399.91,135.66 L400.39,135.52 L400.87,136.48 L401.35,133.52 L401.83,135.29 L402.30,136.17 L402.78,134.87 L403.26,133.25 L403.74,134.04 L404.22,133.59 L404.69,132.37 L405.17,130.86 L405.65,132.08 L406.13,131.18 L406.61,128.35 L407.09,126.86 L407.56,127.57 L408.04,127.38 L408.52,127.54 L409.00,129.28 L409.48,130.01 L409.95,130.05 L410.43,125.91 L410.91,125.23 L411.39,123.40 L411.87,126.53 L412.35,124.34 L412.82,123.92 L413.30,122.28 L413.78,123.14 L414.26,119.99 L414.74,122.65 L415.22,120.95 L415.69,119.17 L416.17,117.49 L416.65,117.26 L417.13,116.90 L417.61,115.99 L418.08,115.18 L418.56,117.27 L419.04,116.32 L419.52,114.96 L420.00,114.56 L420.48,116.30 L420.95,115.06 L421.43,114.24 L421.91,115.14 L422.39,115.06 L422.87,115.97 L423.34,115.24 L423.82,114.78 L424.30,116.83 L424.78,114.91 L425.26,112.83 L425.74,112.70 L426.21,113.32 L426.69,115.00 L427.17,113.98 L427.65,114.35 L428.13,115.08 L428.60,113.56 L429.08,116.40 L429.56,114.25 L430.04,116.48 L430.52,114.44 L431.00,114.14 L431.47,114.94 L431.95,112.92 L432.43,112.99 L432.91,112.28 L433.39,110.52 L433.86,112.69 L434.34,114.20 L434.82,113.17 L435.30,111.01 L435.78,112.23 L436.25,112.53 L436.73,109.21 L437.21,109.12 L437.69,109.86 L438.17,107.94 L438.65,109.66 L439.12,108.51 L439.60,110.03 L440.08,109.30 L440.56,107.26 L441.04,105.99 L441.51,105.58 L441.99,107.45 L442.47,106.96 L442.95,107.80 L443.43,108.67 L443.91,107.17 L444.38,105.06 L444.86,104.19 L445.34,104.35 L445.82,103.29 L446.30,106.22 L446.78,107.77 L447.25,107.19 L447.73,107.97 L448.21,108.66 L448.69,108.18 L449.17,107.30 L449.64,107.80 L450.12,108.92 L450.60,107.16 L451.08,106.20 L451.56,108.41 L452.04,110.92 L452.51,112.05 L452.99,108.84 L453.47,111.57 L453.95,109.56 L454.43,109.64 L454.90,110.89 L455.38,109.24 L455.86,112.21 L456.34,112.67 L456.82,111.50 L457.30,113.12 L457.77,110.16 L458.25,111.95 L458.73,112.99 L459.21,113.80 L459.69,111.58 L460.16,111.68 L460.64,110.79 L461.12,110.33 L461.60,109.44 L462.08,108.43 L462.56,109.24 L463.03,111.52 L463.51,110.91 L463.99,111.94 L464.47,112.90 L464.95,111.09 L465.42,109.40 L465.90,111.15 L466.38,111.18 L466.86,110.79 L467.34,108.89 L467.81,108.82 L468.29,108.13 L468.77,107.06 L469.25,108.07 L469.73,106.37 L470.21,105.11 L470.68,108.07 L471.16,105.00 L471.64,104.75 L472.12,107.01 L472.60,106.02 L473.07,104.72 L473.55,102.84 L474.03,104.35 L474.51,104.02 L474.99,102.61 L475.47,102.57 L475.94,101.94 L476.42,103.87 L476.90,103.65 L477.38,105.55 L477.86,103.89 L478.34,102.99 L478.81,103.51 L479.29,103.35 L479.77,105.53 L480.25,103.21 L480.73,102.18 L481.20,101.90 L481.68,103.93 L482.16,103.56 L482.64,105.65 L483.12,103.83 L483.60,103.66 L484.07,105.96 L484.55,107.95 L485.03,107.12 L485.51,106.53 L485.99,105.54 L486.46,106.61 L486.94,109.07 L487.42,106.53 L487.90,109.17 L488.38,106.88 L488.86,109.07" fill="none" stroke="#1a1a1a" stroke-width="1.4" stroke-linejoin="round" />
<path d="M335.79,108.90 L336.26,108.02 L336.73,107.72 L337.20,110.24 L337.68,111.66 L338.15,110.26 L338.62,110.35 L339.09,107.69 L339.56,107.50 L340.03,107.88 L340.50,108.21 L340.98,107.80 L341.45,110.25 L341.92,109.51 L342.39,110.68 L342.86,107.32 L343.33,110.54 L343.81,107.71 L344.28,110.58 L344.75,108.38 L345.22,109.47 L345.69,109.46 L346.16,107.27 L346.64,110.72 L347.11,111.55 L347.58,107.53 L348.05,108.36 L348.52,110.69 L348.99,106.91 L349.46,105.98 L349.94,109.87 L350.41,109.48 L350.88,110.81 L351.35,110.32 L351.82,108.63 L352.29,110.41 L352.77,108.28 L353.24,110.87 L353.71,111.04 L354.18,107.88 L354.65,109.00 L355.12,109.25 L355.60,108.43 L356.07,108.79 L356.54,109.35 L357.01,111.29 L357.48,108.40 L357.95,106.32 L358.43,105.66 L358.90,107.02 L359.37,108.96 L359.84,109.51 L360.31,108.04 L360.78,107.69 L361.25,110.37 L361.73,110.58 L362.20,108.52 L362.67,101.21 L363.14,93.04 L363.61,89.50 L364.08,89.92 L364.56,84.52 L365.03,84.63 L365.50,84.31 L365.97,85.58 L366.44,84.81 L366.91,84.65 L367.39,81.45 L367.86,82.30 L368.33,78.98 L368.80,81.93 L369.27,81.90 L369.74,86.68 L370.21,88.41 L370.69,90.08 L371.16,90.03 L371.63,93.89 L372.10,94.01 L372.57,96.30 L373.04,97.61 L373.52,97.68 L373.99,95.95 L374.46,98.51 L374.93,97.59 L375.40,101.94 L375.87,100.16 L376.35,103.11 L376.82,106.03 L377.29,105.50 L377.76,105.81 L378.23,111.70 L378.70,113.44 L379.17,112.73 L379.65,115.94 L380.12,118.69 L380.59,122.58 L381.06,125.52 L381.53,125.38 L382.00,125.38 L382.48,127.17 L382.95,131.32 L383.42,136.04 L383.89,137.12 L384.36,136.29 L384.83,136.98 L385.31,139.31 L385.78,143.22 L386.25,143.48 L386.72,143.92 L387.19,143.60 L387.66,145.63 L388.14,143.12 L388.61,142.93 L389.08,146.83 L389.55,147.45 L390.02,144.17 L390.49,145.81 L390.96,142.63 L391.44,143.48 L391.91,142.48 L392.38,141.80 L392.85,143.70 L393.32,143.38 L393.79,142.95 L394.27,140.20 L394.74,138.85 L395.21,140.77 L395.68,137.10 L396.15,137.84 L396.62,138.49 L397.10,137.26 L397.57,133.72 L398.04,134.30 L398.51,133.69 L398.98,131.58 L399.45,130.28 L399.92,130.44 L400.40,131.74 L400.87,130.82 L401.34,128.53 L401.81,127.95 L402.28,128.36 L402.75,129.19 L403.23,128.88 L403.70,126.51 L404.17,126.41 L404.64,128.80 L405.11,125.74 L405.58,123.55 L406.06,123.11 L406.53,122.17 L407.00,121.51 L407.47,122.87 L407.94,121.70 L408.41,123.09 L408.88,124.60 L409.36,123.47 L409.83,123.02 L410.30,119.47 L410.77,119.32 L411.24,119.74 L411.71,119.19 L412.19,121.23 L412.66,119.51 L413.13,117.89 L413.60,118.65 L414.07,119.34 L414.54,118.46 L415.02,118.34 L415.49,116.21 L415.96,118.01 L416.43,118.52 L416.90,117.29 L417.37,114.72 L417.85,113.48 L418.32,113.51 L418.79,112.02 L419.26,114.29 L419.73,116.53 L420.20,114.79 L420.67,114.36 L421.15,115.43 L421.62,113.19 L422.09,114.02 L422.56,114.66 L423.03,114.28 L423.50,110.96 L423.98,114.52 L424.45,113.70 L424.92,113.67 L425.39,113.83 L425.86,112.52 L426.33,112.98 L426.81,109.42 L427.28,110.23 L427.75,109.28 L428.22,111.46 L428.69,110.40 L429.16,109.17 L429.63,107.41 L430.11,109.64 L430.58,109.05 L431.05,106.69 L431.52,105.89 L431.99,108.49 L432.46,107.56 L432.94,106.00 L433.41,107.20 L433.88,106.00 L434.35,105.53 L434.82,103.67 L435.29,105.04 L435.77,104.65 L436.24,106.02 L436.71,104.36 L437.18,105.74 L437.65,105.10 L438.12,105.44 L438.59,105.64 L439.07,106.52 L439.54,106.46 L440.01,104.92 L440.48,105.98 L440.95,107.39 L441.42,104.09 L441.90,105.76 L442.37,103.07 L442.84,104.01 L443.31,105.41 L443.78,103.48 L444.25,102.84 L444.73,105.59 L445.20,107.46 L445.67,105.51 L446.14,104.03 L446.61,104.86 L447.08,104.34 L447.55,106.14 L448.03,105.76 L448.50,107.52 L448.97,107.43 L449.44,107.65 L449.91,107.79 L450.38,107.86 L450.86,105.95 L451.33,108.67 L451.80,109.41 L452.27,109.49 L452.74,106.03 L453.21,107.37 L453.69,110.24 L454.16,107.32 L454.63,106.37 L455.10,106.48 L455.57,108.94 L456.04,107.93 L456.52,109.89 L456.99,111.45 L457.46,108.40 L457.93,107.77 L458.40,110.81 L458.87,108.51 L459.34,112.22 L459.82,112.04 L460.29,113.31 L460.76,112.75 L461.23,112.50 L461.70,109.54 L462.17,110.62 L462.65,111.35 L463.12,111.48 L463.59,110.75 L464.06,107.66 L464.53,107.88 L465.00,110.35 L465.48,108.05 L465.95,107.98 L466.42,108.27 L466.89,107.84 L467.36,106.99 L467.83,105.89 L468.30,106.93 L468.78,106.49 L469.25,107.09 L469.72,106.34 L470.19,107.23 L470.66,107.27 L471.13,106.66 L471.61,105.39 L472.08,107.08 L472.55,104.26 L473.02,105.47 L473.49,103.92 L473.96,104.17 L474.44,102.84 L474.91,103.73 L475.38,105.20 L475.85,105.67 L476.32,104.72 L476.79,103.63 L477.26,102.80 L477.74,106.02 L478.21,107.24 L478.68,107.30 L479.15,107.36 L479.62,107.44 L480.09,107.62 L480.57,106.40 L481.04,106.63 L481.51,103.77 L481.98,103.18 L482.45,101.17 L482.92,100.52 L483.40,101.32 L483.87,100.80 L484.34,105.67 L484.81,106.46 L485.28,103.55 L485.75,105.26 L486.23,107.45" fill="none" stroke="#ef7d22" stroke-width="1.5" stroke-linejoin="round" />
<path d="M335.0,37.4 V162.3 H492.8" fill="none" stroke="#2a2a2a" stroke-width="1.0"/>
<line x1="335.0" y1="162.3" x2="337.5" y2="162.3" stroke="#2a2a2a" stroke-width="1.0"/>
<text x="333.0" y="165.3" font-size="8.9" fill="#2a2a2a" text-anchor="end" >-6</text>
<line x1="335.0" y1="144.5" x2="337.5" y2="144.5" stroke="#2a2a2a" stroke-width="1.0"/>
<text x="333.0" y="147.5" font-size="8.9" fill="#2a2a2a" text-anchor="end" >-4</text>
<line x1="335.0" y1="126.6" x2="337.5" y2="126.6" stroke="#2a2a2a" stroke-width="1.0"/>
<text x="333.0" y="129.6" font-size="8.9" fill="#2a2a2a" text-anchor="end" >-2</text>
<line x1="335.0" y1="108.8" x2="337.5" y2="108.8" stroke="#2a2a2a" stroke-width="1.0"/>
<text x="333.0" y="111.8" font-size="8.9" fill="#2a2a2a" text-anchor="end" >0</text>
<line x1="335.0" y1="90.9" x2="337.5" y2="90.9" stroke="#2a2a2a" stroke-width="1.0"/>
<text x="333.0" y="93.9" font-size="8.9" fill="#2a2a2a" text-anchor="end" >2</text>
<line x1="335.0" y1="73.1" x2="337.5" y2="73.1" stroke="#2a2a2a" stroke-width="1.0"/>
<text x="333.0" y="76.1" font-size="8.9" fill="#2a2a2a" text-anchor="end" >4</text>
<line x1="335.0" y1="55.2" x2="337.5" y2="55.2" stroke="#2a2a2a" stroke-width="1.0"/>
<text x="333.0" y="58.2" font-size="8.9" fill="#2a2a2a" text-anchor="end" >6</text>
<line x1="335.0" y1="37.4" x2="337.5" y2="37.4" stroke="#2a2a2a" stroke-width="1.0"/>
<text x="333.0" y="40.4" font-size="8.9" fill="#2a2a2a" text-anchor="end" >8</text>
<line x1="335.0" y1="162.3" x2="335.0" y2="159.8" stroke="#2a2a2a" stroke-width="1.0"/>
<text x="335.0" y="171.5" font-size="8.9" fill="#2a2a2a" text-anchor="middle" >0</text>
<line x1="361.3" y1="162.3" x2="361.3" y2="159.8" stroke="#2a2a2a" stroke-width="1.0"/>
<text x="361.3" y="171.5" font-size="8.9" fill="#2a2a2a" text-anchor="middle" >10</text>
<line x1="387.6" y1="162.3" x2="387.6" y2="159.8" stroke="#2a2a2a" stroke-width="1.0"/>
<text x="387.6" y="171.5" font-size="8.9" fill="#2a2a2a" text-anchor="middle" >20</text>
<line x1="413.9" y1="162.3" x2="413.9" y2="159.8" stroke="#2a2a2a" stroke-width="1.0"/>
<text x="413.9" y="171.5" font-size="8.9" fill="#2a2a2a" text-anchor="middle" >30</text>
<line x1="440.2" y1="162.3" x2="440.2" y2="159.8" stroke="#2a2a2a" stroke-width="1.0"/>
<text x="440.2" y="171.5" font-size="8.9" fill="#2a2a2a" text-anchor="middle" >40</text>
<line x1="466.5" y1="162.3" x2="466.5" y2="159.8" stroke="#2a2a2a" stroke-width="1.0"/>
<text x="466.5" y="171.5" font-size="8.9" fill="#2a2a2a" text-anchor="middle" >50</text>
<line x1="492.8" y1="162.3" x2="492.8" y2="159.8" stroke="#2a2a2a" stroke-width="1.0"/>
<text x="492.8" y="171.5" font-size="8.9" fill="#2a2a2a" text-anchor="middle" >60</text>
<text x="414.4" y="179.5" font-size="10" fill="#1a1a1a" text-anchor="middle" >Time (s)</text>
<text x="323.4" y="92.7" font-size="8.75" fill="#231f20" text-anchor="middle" transform="rotate(-90 323.4 92.7)">Fluorescence (z score)</text>
<text x="413.3" y="54.9" font-size="8.9" fill="#1a1a1a" text-anchor="start" >GCaMP6s control</text>
<text x="413.3" y="63.6" font-size="8.9" fill="#ef7d22" text-anchor="start" >GCaMP6s in pH/CO<tspan font-size="5.5" dy="1.5">2</tspan></text>
<text x="501.0" y="29.5" font-size="12.2" fill="#231f20" text-anchor="start" >d</text>
<text x="601.3" y="30.7" font-size="11.8" fill="#9d9d9d" text-anchor="middle" font-style="italic" >Vascular response</text>
<rect x="548.8" y="46" width="13.2" height="116.3" fill="#d3d3d3"/>
<text x="555.7" y="44.6" font-size="10.6" fill="#1a1a1a" text-anchor="middle" >WS</text>
<polygon points="522.93,125.06 523.42,121.39 523.91,119.88 524.40,118.78 524.88,120.70 525.37,119.32 525.86,117.86 526.35,119.04 526.84,121.44 527.33,121.10 527.82,125.43 528.31,123.06 528.80,118.95 529.29,123.15 529.78,121.43 530.26,124.20 530.75,123.56 531.24,121.73 531.73,121.64 532.22,122.28 532.71,118.66 533.20,121.55 533.69,121.97 534.18,121.49 534.67,121.72 535.16,122.40 535.64,121.41 536.13,123.00 536.62,121.40 537.11,120.99 537.60,121.18 538.09,118.23 538.58,119.41 539.07,120.43 539.56,122.42 540.05,121.54 540.54,123.16 541.02,121.74 541.51,122.19 542.00,120.87 542.49,118.28 542.98,121.40 543.47,116.91 543.96,119.84 544.45,120.51 544.94,119.01 545.43,122.04 545.92,122.20 546.40,123.94 546.89,120.53 547.38,118.42 547.87,120.87 548.36,118.01 548.85,121.30 549.34,121.94 549.83,122.98 550.32,118.12 550.81,117.27 551.30,113.23 551.79,114.52 552.27,114.19 552.76,119.61 553.25,112.08 553.74,104.80 554.23,108.85 554.72,110.88 555.21,99.66 555.70,101.05 556.19,98.65 556.68,100.30 557.17,102.41 557.65,94.80 558.14,97.25 558.63,101.87 559.12,100.25 559.61,85.72 560.10,94.93 560.59,93.29 561.08,83.57 561.57,86.83 562.06,87.84 562.55,74.04 563.03,72.43 563.52,80.65 564.01,78.32 564.50,72.48 564.99,64.49 565.48,67.66 565.97,63.74 566.46,75.15 566.95,64.00 567.44,66.65 567.93,63.18 568.41,73.61 568.90,70.57 569.39,67.09 569.88,67.98 570.37,74.66 570.86,71.28 571.35,70.03 571.84,63.34 572.33,79.85 572.82,76.25 573.31,76.34 573.79,70.80 574.28,79.38 574.77,68.63 575.26,64.75 575.75,77.27 576.24,68.01 576.73,74.94 577.22,69.63 577.71,68.99 578.20,69.43 578.69,73.40 579.17,59.42 579.66,70.22 580.15,72.69 580.64,80.65 581.13,60.89 581.62,56.86 582.11,62.76 582.60,72.38 583.09,62.03 583.58,59.32 584.07,60.88 584.56,59.91 585.04,74.74 585.53,81.20 586.02,71.07 586.51,62.55 587.00,77.34 587.49,70.86 587.98,63.50 588.47,87.52 588.96,75.42 589.45,79.86 589.94,66.21 590.42,81.85 590.91,79.61 591.40,76.18 591.89,71.20 592.38,85.55 592.87,76.87 593.36,81.94 593.85,82.92 594.34,85.22 594.83,78.71 595.32,87.94 595.80,98.30 596.29,80.22 596.78,96.51 597.27,101.87 597.76,97.09 598.25,90.93 598.74,105.79 599.23,103.68 599.72,95.57 600.21,90.73 600.70,98.08 601.18,99.65 601.67,98.42 602.16,95.38 602.65,95.41 603.14,104.34 603.63,98.89 604.12,98.57 604.61,98.00 605.10,105.70 605.59,102.18 606.08,104.78 606.56,110.83 607.05,101.27 607.54,103.10 608.03,103.15 608.52,110.65 609.01,112.43 609.50,104.45 609.99,114.35 610.48,117.70 610.97,116.07 611.46,108.42 611.94,108.86 612.43,119.07 612.92,107.90 613.41,106.19 613.90,106.13 614.39,112.60 614.88,109.22 615.37,115.85 615.86,118.82 616.35,119.85 616.84,120.41 617.32,115.87 617.81,106.15 618.30,112.66 618.79,111.40 619.28,117.91 619.77,115.39 620.26,122.16 620.75,123.63 621.24,110.13 621.73,111.54 622.22,116.29 622.71,113.41 623.19,113.55 623.68,112.75 624.17,118.83 624.66,113.66 625.15,111.83 625.64,122.49 626.13,118.20 626.62,116.01 627.11,112.82 627.60,116.81 628.09,114.62 628.57,117.46 629.06,110.71 629.55,111.45 630.04,123.75 630.53,117.21 631.02,117.32 631.51,114.87 632.00,114.84 632.49,115.85 632.98,118.86 633.47,122.14 633.95,119.43 634.44,119.39 634.93,113.93 635.42,118.49 635.91,117.74 636.40,117.64 636.89,120.47 637.38,113.55 637.87,116.15 638.36,122.73 638.85,116.77 639.33,122.44 639.82,120.23 640.31,121.05 640.80,116.30 641.29,121.84 641.78,123.97 642.27,118.07 642.76,118.28 643.25,123.11 643.74,123.58 644.23,125.41 644.71,123.56 645.20,127.84 645.69,123.10 646.18,116.33 646.67,119.89 647.16,122.06 647.65,115.10 648.14,118.02 648.63,122.78 649.12,123.69 649.61,123.98 650.09,118.71 650.58,119.17 651.07,114.54 651.56,120.92 652.05,121.93 652.54,118.36 653.03,123.66 653.52,117.16 654.01,123.55 654.50,120.08 654.99,125.28 655.48,126.16 655.96,116.90 656.45,121.40 656.94,120.29 657.43,124.15 657.92,119.44 658.41,121.30 658.90,120.13 659.39,119.96 659.88,127.07 660.37,114.09 660.86,123.10 661.34,123.22 661.83,112.12 662.32,116.07 662.81,120.68 663.30,123.90 663.79,124.18 664.28,116.67 664.77,122.02 665.26,123.63 665.75,128.09 666.24,125.86 666.72,124.21 667.21,127.07 667.70,115.94 668.19,119.54 668.68,118.21 669.17,124.26 669.66,119.17 670.15,114.24 670.64,115.07 671.13,117.23 671.62,123.94 672.10,113.60 672.59,114.74 673.08,112.06 673.57,118.34 674.06,109.37 674.55,117.73 675.04,115.53 675.53,122.05 676.02,121.54 676.51,124.37 677.00,122.40 677.48,120.02 677.97,120.49 678.46,118.80 678.95,122.55 678.95,140.47 678.46,146.30 677.97,137.17 677.48,138.49 677.00,140.10 676.51,140.04 676.02,143.06 675.53,135.78 675.04,131.68 674.55,135.24 674.06,131.82 673.57,141.36 673.08,140.89 672.59,132.52 672.10,144.17 671.62,136.58 671.13,138.34 670.64,142.59 670.15,143.95 669.66,140.77 669.17,144.99 668.68,142.51 668.19,139.38 667.70,148.50 667.21,145.93 666.72,149.95 666.24,142.96 665.75,148.04 665.26,141.39 664.77,144.19 664.28,146.91 663.79,144.69 663.30,141.41 662.81,144.74 662.32,146.26 661.83,138.14 661.34,141.79 660.86,144.88 660.37,141.72 659.88,146.97 659.39,140.19 658.90,143.17 658.41,150.37 657.92,147.87 657.43,140.76 656.94,146.98 656.45,139.85 655.96,137.20 655.48,149.99 654.99,139.22 654.50,140.89 654.01,141.30 653.52,147.04 653.03,140.76 652.54,136.91 652.05,146.76 651.56,145.93 651.07,138.04 650.58,145.03 650.09,141.79 649.61,144.54 649.12,143.88 648.63,144.93 648.14,147.11 647.65,145.91 647.16,150.84 646.67,138.27 646.18,144.98 645.69,143.28 645.20,144.28 644.71,151.59 644.23,145.62 643.74,145.78 643.25,147.74 642.76,150.72 642.27,142.77 641.78,148.39 641.29,140.43 640.80,137.38 640.31,146.78 639.82,145.94 639.33,147.39 638.85,140.45 638.36,150.89 637.87,147.29 637.38,148.46 636.89,140.67 636.40,143.54 635.91,136.50 635.42,139.24 634.93,142.34 634.44,142.41 633.95,142.03 633.47,137.48 632.98,147.29 632.49,148.41 632.00,139.73 631.51,136.48 631.02,143.45 630.53,143.61 630.04,137.41 629.55,140.58 629.06,134.78 628.57,139.72 628.09,145.32 627.60,143.32 627.11,144.95 626.62,138.32 626.13,141.87 625.64,147.50 625.15,138.59 624.66,144.22 624.17,136.72 623.68,140.88 623.19,150.19 622.71,146.53 622.22,141.24 621.73,141.82 621.24,146.08 620.75,150.05 620.26,142.01 619.77,145.16 619.28,135.49 618.79,142.37 618.30,146.50 617.81,136.66 617.32,135.00 616.84,146.09 616.35,142.43 615.86,145.24 615.37,147.02 614.88,136.49 614.39,132.75 613.90,147.21 613.41,134.82 612.92,134.92 612.43,147.17 611.94,139.68 611.46,144.87 610.97,146.72 610.48,134.75 609.99,133.47 609.50,136.36 609.01,139.00 608.52,142.21 608.03,137.06 607.54,131.36 607.05,142.68 606.56,139.35 606.08,144.62 605.59,143.56 605.10,137.73 604.61,142.42 604.12,145.30 603.63,136.80 603.14,128.62 602.65,137.07 602.16,130.20 601.67,130.48 601.18,129.89 600.70,141.29 600.21,127.53 599.72,145.49 599.23,136.93 598.74,132.61 598.25,135.36 597.76,136.01 597.27,134.95 596.78,136.55 596.29,140.48 595.80,123.12 595.32,141.95 594.83,139.50 594.34,140.29 593.85,138.62 593.36,132.04 592.87,129.67 592.38,130.30 591.89,125.81 591.40,131.56 590.91,134.63 590.42,132.63 589.94,129.90 589.45,111.03 588.96,112.89 588.47,113.59 587.98,128.40 587.49,128.78 587.00,121.20 586.51,126.43 586.02,109.26 585.53,109.57 585.04,107.26 584.56,114.45 584.07,115.04 583.58,110.22 583.09,123.05 582.60,121.48 582.11,118.34 581.62,103.96 581.13,114.11 580.64,106.48 580.15,121.83 579.66,113.27 579.17,119.37 578.69,123.62 578.20,115.20 577.71,102.43 577.22,122.04 576.73,108.02 576.24,121.90 575.75,110.20 575.26,123.12 574.77,114.94 574.28,124.92 573.79,116.85 573.31,125.67 572.82,105.03 572.33,121.01 571.84,108.15 571.35,110.89 570.86,117.31 570.37,105.70 569.88,114.74 569.39,110.06 568.90,115.53 568.41,115.45 567.93,98.98 567.44,98.53 566.95,107.09 566.46,110.77 565.97,113.49 565.48,110.61 564.99,117.40 564.50,117.32 564.01,104.83 563.52,106.53 563.03,116.64 562.55,122.88 562.06,118.79 561.57,113.44 561.08,111.73 560.59,117.48 560.10,127.44 559.61,126.35 559.12,124.05 558.63,118.89 558.14,123.23 557.65,125.51 557.17,126.14 556.68,130.44 556.19,131.87 555.70,125.29 555.21,131.90 554.72,133.11 554.23,130.96 553.74,127.48 553.25,134.65 552.76,139.21 552.27,136.94 551.79,132.01 551.30,134.65 550.81,131.51 550.32,133.17 549.83,133.18 549.34,130.93 548.85,132.25 548.36,130.16 547.87,130.46 547.38,133.20 546.89,130.06 546.40,131.93 545.92,128.16 545.43,129.07 544.94,131.32 544.45,131.00 543.96,131.24 543.47,130.76 542.98,132.69 542.49,133.35 542.00,135.17 541.51,131.60 541.02,133.51 540.54,133.55 540.05,134.90 539.56,133.26 539.07,132.87 538.58,132.65 538.09,129.94 537.60,131.51 537.11,129.96 536.62,131.73 536.13,133.82 535.64,132.06 535.16,132.30 534.67,131.98 534.18,133.99 533.69,136.46 533.20,129.38 532.71,129.53 532.22,131.66 531.73,128.50 531.24,137.24 530.75,132.28 530.26,133.89 529.78,131.66 529.29,135.72 528.80,131.20 528.31,135.45 527.82,135.50 527.33,133.42 526.84,129.84 526.35,133.93 525.86,129.65 525.37,128.46 524.88,133.69 524.40,132.98 523.91,131.08 523.42,129.32 522.93,133.11" fill="#b4b4b4" fill-opacity="0.6" stroke="none"/>
<polygon points="522.93,119.05 523.40,123.41 523.87,122.64 524.35,119.95 524.82,121.09 525.29,125.60 525.76,118.71 526.24,122.75 526.71,121.72 527.18,120.65 527.65,120.10 528.13,121.59 528.60,123.38 529.07,119.33 529.54,117.53 530.02,118.80 530.49,120.36 530.96,122.10 531.43,120.47 531.91,120.12 532.38,120.21 532.85,124.39 533.32,122.13 533.80,120.19 534.27,119.43 534.74,118.54 535.21,121.47 535.69,118.74 536.16,118.78 536.63,119.97 537.10,121.19 537.58,118.55 538.05,121.87 538.52,117.90 538.99,117.55 539.47,122.27 539.94,123.77 540.41,119.18 540.88,117.73 541.36,123.61 541.83,124.33 542.30,120.37 542.78,126.27 543.25,117.69 543.72,121.38 544.19,121.69 544.67,124.36 545.14,120.21 545.61,117.76 546.08,120.10 546.56,122.53 547.03,119.41 547.50,123.24 547.97,123.56 548.45,124.81 548.92,119.19 549.39,122.97 549.86,118.55 550.34,118.84 550.81,116.51 551.28,116.43 551.75,117.29 552.23,116.87 552.70,110.10 553.17,111.18 553.64,102.75 554.12,111.57 554.59,102.93 555.06,102.28 555.53,107.82 556.01,100.68 556.48,94.84 556.95,90.47 557.42,92.10 557.90,95.63 558.37,97.89 558.84,89.38 559.31,87.97 559.79,89.88 560.26,89.15 560.73,77.70 561.20,79.42 561.68,86.96 562.15,79.13 562.62,81.10 563.09,81.38 563.57,65.90 564.04,67.44 564.51,60.17 564.99,63.59 565.46,60.59 565.93,68.44 566.40,63.96 566.88,62.24 567.35,74.56 567.82,64.64 568.29,61.30 568.77,64.49 569.24,56.22 569.71,65.93 570.18,76.12 570.66,58.40 571.13,75.25 571.60,59.69 572.07,62.86 572.55,73.25 573.02,69.82 573.49,74.98 573.96,68.05 574.44,60.74 574.91,80.73 575.38,81.32 575.85,82.56 576.33,83.70 576.80,69.58 577.27,78.33 577.74,78.81 578.22,79.43 578.69,74.17 579.16,89.62 579.63,84.37 580.11,68.23 580.58,83.02 581.05,77.11 581.52,87.95 582.00,84.96 582.47,90.18 582.94,80.30 583.41,89.95 583.89,77.81 584.36,90.05 584.83,94.97 585.30,96.44 585.78,86.62 586.25,96.37 586.72,90.93 587.20,89.58 587.67,92.00 588.14,102.85 588.61,99.91 589.09,84.03 589.56,95.11 590.03,87.49 590.50,106.40 590.98,97.97 591.45,110.08 591.92,99.87 592.39,110.51 592.87,105.41 593.34,98.43 593.81,107.15 594.28,108.97 594.76,95.05 595.23,95.24 595.70,99.92 596.17,110.04 596.65,101.55 597.12,112.97 597.59,96.68 598.06,100.21 598.54,117.08 599.01,110.10 599.48,116.92 599.95,114.75 600.43,114.68 600.90,101.32 601.37,110.01 601.84,109.78 602.32,114.42 602.79,117.58 603.26,113.14 603.73,120.77 604.21,117.92 604.68,108.34 605.15,120.57 605.62,102.40 606.10,118.23 606.57,106.23 607.04,123.13 607.51,104.49 607.99,111.23 608.46,120.33 608.93,109.34 609.40,110.86 609.88,117.81 610.35,120.49 610.82,113.68 611.30,113.61 611.77,119.52 612.24,113.35 612.71,124.26 613.19,111.17 613.66,118.22 614.13,120.04 614.60,120.15 615.08,111.72 615.55,115.16 616.02,111.30 616.49,120.41 616.97,116.86 617.44,123.69 617.91,112.11 618.38,119.04 618.86,121.48 619.33,120.70 619.80,112.46 620.27,113.50 620.75,121.86 621.22,117.27 621.69,108.24 622.16,116.88 622.64,114.34 623.11,111.41 623.58,113.13 624.05,108.00 624.53,115.13 625.00,121.93 625.47,121.51 625.94,114.83 626.42,119.61 626.89,126.90 627.36,121.23 627.83,122.26 628.31,119.79 628.78,116.62 629.25,123.24 629.72,112.86 630.20,112.23 630.67,120.38 631.14,123.07 631.61,123.92 632.09,116.97 632.56,110.86 633.03,115.65 633.51,122.60 633.98,119.59 634.45,113.62 634.92,112.12 635.40,125.03 635.87,113.76 636.34,113.16 636.81,123.64 637.29,119.16 637.76,119.16 638.23,119.82 638.70,113.20 639.18,120.86 639.65,122.16 640.12,114.89 640.59,126.02 641.07,114.64 641.54,121.38 642.01,110.93 642.48,126.16 642.96,116.60 643.43,112.29 643.90,122.49 644.37,115.91 644.85,121.32 645.32,123.55 645.79,113.88 646.26,123.72 646.74,114.01 647.21,115.35 647.68,113.13 648.15,124.82 648.63,124.09 649.10,116.46 649.57,126.39 650.04,115.84 650.52,110.35 650.99,125.20 651.46,123.45 651.93,113.29 652.41,116.03 652.88,116.19 653.35,114.32 653.82,119.14 654.30,115.84 654.77,119.53 655.24,118.40 655.72,114.99 656.19,120.69 656.66,116.35 657.13,121.59 657.61,113.47 658.08,116.09 658.55,119.61 659.02,118.25 659.50,114.39 659.97,123.69 660.44,116.86 660.91,112.33 661.39,114.83 661.86,113.05 662.33,120.40 662.80,114.41 663.28,115.19 663.75,112.43 664.22,122.11 664.69,116.32 665.17,112.73 665.64,122.11 666.11,118.29 666.58,120.28 667.06,117.85 667.53,125.40 668.00,120.81 668.47,112.60 668.95,121.59 669.42,116.18 669.89,120.26 670.36,113.39 670.84,121.19 671.31,112.54 671.78,123.14 672.25,120.65 672.73,125.54 673.20,116.39 673.67,114.30 673.67,139.90 673.20,145.71 672.73,147.60 672.25,144.09 671.78,139.72 671.31,138.73 670.84,142.65 670.36,148.33 669.89,141.83 669.42,143.82 668.95,143.89 668.47,144.03 668.00,145.28 667.53,148.24 667.06,149.26 666.58,149.12 666.11,138.08 665.64,144.54 665.17,143.18 664.69,145.77 664.22,146.97 663.75,151.61 663.28,146.94 662.80,143.02 662.33,138.58 661.86,144.55 661.39,150.73 660.91,138.71 660.44,148.93 659.97,151.76 659.50,149.05 659.02,144.75 658.55,147.55 658.08,144.36 657.61,144.00 657.13,151.07 656.66,141.80 656.19,140.94 655.72,139.60 655.24,145.57 654.77,153.07 654.30,141.59 653.82,145.71 653.35,145.55 652.88,147.80 652.41,142.77 651.93,140.44 651.46,140.78 650.99,142.56 650.52,140.50 650.04,149.71 649.57,147.54 649.10,144.07 648.63,148.68 648.15,147.62 647.68,147.93 647.21,142.79 646.74,138.43 646.26,147.01 645.79,151.36 645.32,148.19 644.85,150.36 644.37,146.95 643.90,142.33 643.43,146.52 642.96,153.64 642.48,146.12 642.01,144.35 641.54,138.04 641.07,147.61 640.59,151.26 640.12,140.26 639.65,149.24 639.18,153.31 638.70,149.34 638.23,146.67 637.76,141.08 637.29,144.87 636.81,140.66 636.34,143.48 635.87,151.36 635.40,147.34 634.92,143.38 634.45,146.88 633.98,146.17 633.51,151.09 633.03,152.95 632.56,139.18 632.09,142.95 631.61,143.42 631.14,145.72 630.67,146.12 630.20,142.42 629.72,146.30 629.25,149.88 628.78,150.57 628.31,149.76 627.83,150.02 627.36,142.45 626.89,146.17 626.42,141.05 625.94,144.04 625.47,152.05 625.00,142.85 624.53,141.93 624.05,143.90 623.58,144.13 623.11,151.03 622.64,139.68 622.16,152.33 621.69,153.11 621.22,150.88 620.75,154.04 620.27,153.67 619.80,145.98 619.33,147.30 618.86,155.92 618.38,144.34 617.91,155.43 617.44,145.35 616.97,156.38 616.49,146.45 616.02,149.20 615.55,155.63 615.08,143.66 614.60,148.76 614.13,159.09 613.66,152.85 613.19,151.53 612.71,149.04 612.24,156.59 611.77,143.62 611.30,148.77 610.82,157.24 610.35,160.74 609.88,147.57 609.40,146.97 608.93,151.99 608.46,156.25 607.99,150.25 607.51,148.43 607.04,149.90 606.57,144.91 606.10,147.21 605.62,151.98 605.15,142.00 604.68,146.96 604.21,151.23 603.73,156.71 603.26,154.40 602.79,157.57 602.32,141.99 601.84,151.65 601.37,151.69 600.90,144.55 600.43,146.28 599.95,153.26 599.48,148.22 599.01,145.32 598.54,136.58 598.06,137.62 597.59,140.04 597.12,141.63 596.65,137.52 596.17,145.99 595.70,151.75 595.23,137.76 594.76,144.32 594.28,138.05 593.81,133.58 593.34,150.10 592.87,137.40 592.39,152.01 591.92,131.48 591.45,145.11 590.98,150.53 590.50,138.28 590.03,142.83 589.56,135.29 589.09,148.22 588.61,144.50 588.14,142.32 587.67,137.61 587.20,144.84 586.72,137.75 586.25,132.81 585.78,127.28 585.30,122.80 584.83,136.51 584.36,129.15 583.89,137.55 583.41,138.09 582.94,121.78 582.47,123.73 582.00,136.17 581.52,123.35 581.05,122.35 580.58,130.31 580.11,125.31 579.63,116.51 579.16,134.04 578.69,124.90 578.22,113.90 577.74,118.76 577.27,132.70 576.80,116.45 576.33,123.28 575.85,111.17 575.38,111.97 574.91,117.36 574.44,114.55 573.96,109.95 573.49,120.82 573.02,111.03 572.55,122.98 572.07,123.06 571.60,111.67 571.13,106.46 570.66,103.94 570.18,118.20 569.71,106.70 569.24,118.82 568.77,112.53 568.29,99.28 567.82,108.82 567.35,100.52 566.88,111.71 566.40,111.68 565.93,110.71 565.46,107.36 564.99,104.15 564.51,101.01 564.04,117.98 563.57,100.94 563.09,103.43 562.62,105.86 562.15,104.23 561.68,116.97 561.20,122.72 560.73,118.65 560.26,110.72 559.79,123.57 559.31,116.12 558.84,123.67 558.37,116.17 557.90,114.72 557.42,119.12 556.95,121.94 556.48,121.75 556.01,122.63 555.53,131.15 555.06,127.62 554.59,132.63 554.12,130.22 553.64,132.70 553.17,125.80 552.70,133.83 552.23,128.15 551.75,129.65 551.28,131.90 550.81,132.88 550.34,136.46 549.86,132.96 549.39,135.86 548.92,137.74 548.45,132.77 547.97,132.21 547.50,136.65 547.03,133.95 546.56,133.99 546.08,137.19 545.61,129.20 545.14,132.89 544.67,133.43 544.19,134.79 543.72,136.01 543.25,133.25 542.78,139.08 542.30,133.70 541.83,135.33 541.36,132.73 540.88,135.30 540.41,133.17 539.94,135.90 539.47,134.04 538.99,132.59 538.52,130.49 538.05,135.36 537.58,130.85 537.10,135.74 536.63,130.42 536.16,129.40 535.69,129.27 535.21,129.68 534.74,129.26 534.27,131.79 533.80,132.57 533.32,130.93 532.85,134.75 532.38,134.09 531.91,134.84 531.43,128.88 530.96,135.09 530.49,128.35 530.02,128.22 529.54,130.45 529.07,131.67 528.60,131.64 528.13,133.07 527.65,127.92 527.18,133.38 526.71,131.70 526.24,132.35 525.76,131.89 525.29,134.63 524.82,132.72 524.35,128.75 523.87,133.28 523.40,130.80 522.93,129.32" fill="#f7c9a8" fill-opacity="0.55" stroke="none"/>
<path d="M522.93,128.20 L523.42,126.19 L523.91,125.85 L524.40,126.48 L524.88,127.92 L525.37,125.62 L525.86,124.85 L526.35,126.03 L526.84,126.41 L527.33,127.81 L527.82,129.33 L528.31,128.04 L528.80,126.64 L529.29,128.67 L529.78,125.84 L530.26,127.65 L530.75,128.19 L531.24,129.26 L531.73,125.05 L532.22,125.01 L532.71,124.35 L533.20,125.39 L533.69,128.46 L534.18,127.98 L534.67,127.04 L535.16,128.56 L535.64,125.05 L536.13,126.77 L536.62,128.30 L537.11,125.61 L537.60,128.09 L538.09,125.03 L538.58,126.36 L539.07,126.29 L539.56,127.26 L540.05,126.88 L540.54,128.18 L541.02,129.28 L541.51,125.68 L542.00,127.59 L542.49,125.58 L542.98,127.69 L543.47,124.71 L543.96,124.17 L544.45,124.67 L544.94,124.78 L545.43,125.68 L545.92,125.24 L546.40,128.00 L546.89,127.14 L547.38,125.22 L547.87,127.61 L548.36,124.91 L548.85,124.26 L549.34,126.34 L549.83,127.17 L550.32,126.74 L550.81,126.35 L551.30,122.87 L551.79,124.26 L552.27,125.92 L552.76,125.63 L553.25,121.46 L553.74,117.98 L554.23,118.36 L554.72,117.58 L555.21,116.13 L555.70,113.84 L556.19,114.72 L556.68,112.22 L557.17,110.80 L557.65,109.13 L558.14,109.87 L558.63,109.53 L559.12,107.89 L559.61,103.95 L560.10,104.83 L560.59,103.21 L561.08,103.28 L561.57,103.44 L562.06,102.86 L562.55,98.33 L563.03,96.33 L563.52,96.83 L564.01,94.71 L564.50,93.29 L564.99,91.00 L565.48,89.22 L565.97,90.50 L566.46,87.76 L566.95,86.58 L567.44,87.48 L567.93,86.19 L568.41,88.40 L568.90,90.05 L569.39,91.58 L569.88,89.49 L570.37,92.42 L570.86,93.96 L571.35,91.17 L571.84,90.71 L572.33,92.18 L572.82,91.09 L573.31,94.58 L573.79,94.76 L574.28,94.78 L574.77,94.29 L575.26,95.37 L575.75,95.82 L576.24,94.45 L576.73,91.14 L577.22,89.52 L577.71,89.93 L578.20,91.20 L578.69,92.56 L579.17,89.50 L579.66,90.52 L580.15,89.75 L580.64,92.78 L581.13,92.85 L581.62,89.90 L582.11,89.22 L582.60,88.61 L583.09,89.75 L583.58,91.39 L584.07,91.50 L584.56,90.61 L585.04,93.26 L585.53,93.33 L586.02,95.10 L586.51,93.92 L587.00,97.74 L587.49,96.26 L587.98,95.12 L588.47,99.77 L588.96,99.04 L589.45,99.16 L589.94,98.79 L590.42,100.52 L590.91,103.18 L591.40,103.85 L591.89,102.00 L592.38,102.28 L592.87,106.60 L593.36,108.66 L593.85,109.86 L594.34,111.13 L594.83,110.09 L595.32,111.80 L595.80,109.45 L596.29,110.33 L596.78,113.52 L597.27,112.99 L597.76,114.30 L598.25,114.36 L598.74,116.14 L599.23,117.30 L599.72,117.89 L600.21,117.49 L600.70,116.14 L601.18,116.84 L601.67,119.77 L602.16,117.68 L602.65,116.51 L603.14,116.86 L603.63,117.12 L604.12,121.15 L604.61,120.49 L605.10,122.48 L605.59,120.05 L606.08,122.40 L606.56,120.85 L607.05,122.85 L607.54,121.63 L608.03,123.37 L608.52,125.48 L609.01,124.75 L609.50,125.20 L609.99,122.81 L610.48,125.26 L610.97,125.30 L611.46,125.38 L611.94,123.80 L612.43,127.65 L612.92,126.71 L613.41,127.16 L613.90,126.50 L614.39,125.50 L614.88,128.54 L615.37,127.56 L615.86,128.12 L616.35,128.17 L616.84,130.58 L617.32,127.77 L617.81,126.20 L618.30,128.72 L618.79,129.69 L619.28,126.81 L619.77,130.19 L620.26,131.40 L620.75,131.81 L621.24,128.45 L621.73,127.74 L622.22,129.05 L622.71,128.66 L623.19,131.38 L623.68,129.23 L624.17,129.55 L624.66,129.28 L625.15,129.81 L625.64,129.92 L626.13,130.78 L626.62,131.88 L627.11,130.38 L627.60,130.82 L628.09,128.81 L628.57,127.83 L629.06,128.09 L629.55,129.56 L630.04,131.15 L630.53,131.04 L631.02,130.64 L631.51,129.95 L632.00,128.29 L632.49,132.07 L632.98,131.45 L633.47,131.32 L633.95,130.33 L634.44,129.32 L634.93,129.66 L635.42,130.61 L635.91,130.38 L636.40,130.86 L636.89,130.21 L637.38,130.89 L637.87,131.29 L638.36,133.60 L638.85,131.22 L639.33,133.14 L639.82,132.75 L640.31,131.75 L640.80,130.91 L641.29,130.60 L641.78,135.02 L642.27,134.82 L642.76,134.69 L643.25,134.19 L643.74,135.13 L644.23,133.40 L644.71,135.06 L645.20,134.42 L645.69,131.10 L646.18,130.99 L646.67,132.21 L647.16,134.17 L647.65,130.66 L648.14,130.73 L648.63,133.04 L649.12,133.04 L649.61,131.62 L650.09,131.00 L650.58,132.81 L651.07,130.08 L651.56,132.24 L652.05,133.22 L652.54,130.70 L653.03,133.23 L653.52,131.49 L654.01,133.25 L654.50,131.88 L654.99,132.93 L655.48,132.73 L655.96,129.96 L656.45,131.34 L656.94,131.86 L657.43,131.12 L657.92,132.46 L658.41,133.33 L658.90,132.55 L659.39,132.81 L659.88,133.25 L660.37,129.68 L660.86,132.96 L661.34,130.23 L661.83,128.78 L662.32,129.40 L662.81,132.94 L663.30,131.77 L663.79,133.67 L664.28,131.60 L664.77,130.59 L665.26,132.54 L665.75,134.28 L666.24,132.31 L666.72,133.92 L667.21,133.44 L667.70,132.54 L668.19,129.70 L668.68,130.99 L669.17,132.14 L669.66,129.03 L670.15,127.60 L670.64,128.21 L671.13,130.33 L671.62,129.96 L672.10,128.48 L672.59,126.98 L673.08,128.08 L673.57,126.05 L674.06,125.47 L674.55,125.14 L675.04,125.47 L675.53,129.91 L676.02,128.85 L676.51,131.18 L677.00,128.26 L677.48,128.37 L677.97,128.61 L678.46,131.66 L678.95,133.46" fill="none" stroke="#1a1a1a" stroke-width="1.4" stroke-linejoin="round" />
<path d="M522.93,124.47 L523.40,127.73 L523.87,129.29 L524.35,125.15 L524.82,127.79 L525.29,128.91 L525.76,126.74 L526.24,127.57 L526.71,125.25 L527.18,127.70 L527.65,125.01 L528.13,127.26 L528.60,126.62 L529.07,124.87 L529.54,125.54 L530.02,124.63 L530.49,125.41 L530.96,128.79 L531.43,125.87 L531.91,126.40 L532.38,127.91 L532.85,128.95 L533.32,126.16 L533.80,126.61 L534.27,125.08 L534.74,125.42 L535.21,124.65 L535.69,126.32 L536.16,126.21 L536.63,126.61 L537.10,128.43 L537.58,125.68 L538.05,127.94 L538.52,126.41 L538.99,125.15 L539.47,126.24 L539.94,129.00 L540.41,126.61 L540.88,126.66 L541.36,128.99 L541.83,130.35 L542.30,128.49 L542.78,130.32 L543.25,126.66 L543.72,127.57 L544.19,127.81 L544.67,128.41 L545.14,127.42 L545.61,125.94 L546.08,128.40 L546.56,128.85 L547.03,128.01 L547.50,129.14 L547.97,128.08 L548.45,128.03 L548.92,128.56 L549.39,127.60 L549.86,128.02 L550.34,129.66 L550.81,124.73 L551.28,125.40 L551.75,124.35 L552.23,123.28 L552.70,119.56 L553.17,117.30 L553.64,117.70 L554.12,117.35 L554.59,117.68 L555.06,112.98 L555.53,114.00 L556.01,111.52 L556.48,110.71 L556.95,109.55 L557.42,108.07 L557.90,107.40 L558.37,107.26 L558.84,104.23 L559.31,101.41 L559.79,100.60 L560.26,101.80 L560.73,99.12 L561.20,100.38 L561.68,98.16 L562.15,94.62 L562.62,92.22 L563.09,92.80 L563.57,90.33 L564.04,90.48 L564.51,89.62 L564.99,88.29 L565.46,85.18 L565.93,84.64 L566.40,86.42 L566.88,86.08 L567.35,86.68 L567.82,88.53 L568.29,87.34 L568.77,87.11 L569.24,88.34 L569.71,87.42 L570.18,91.77 L570.66,91.00 L571.13,90.35 L571.60,91.78 L572.07,93.23 L572.55,91.42 L573.02,92.33 L573.49,93.60 L573.96,95.29 L574.44,91.63 L574.91,93.67 L575.38,95.80 L575.85,96.62 L576.33,97.25 L576.80,95.09 L577.27,98.26 L577.74,99.31 L578.22,101.03 L578.69,100.34 L579.16,101.94 L579.63,102.33 L580.11,101.15 L580.58,100.47 L581.05,101.33 L581.52,105.98 L582.00,106.38 L582.47,104.88 L582.94,108.92 L583.41,109.93 L583.89,109.49 L584.36,110.49 L584.83,109.65 L585.30,110.17 L585.78,112.13 L586.25,114.12 L586.72,115.26 L587.20,115.87 L587.67,117.46 L588.14,115.53 L588.61,117.81 L589.09,115.47 L589.56,116.37 L590.03,119.89 L590.50,119.29 L590.98,119.06 L591.45,121.90 L591.92,120.91 L592.39,123.06 L592.87,120.49 L593.34,123.61 L593.81,121.85 L594.28,119.92 L594.76,120.28 L595.23,123.58 L595.70,123.42 L596.17,125.53 L596.65,125.48 L597.12,123.26 L597.59,123.10 L598.06,127.17 L598.54,126.91 L599.01,125.87 L599.48,128.05 L599.95,126.00 L600.43,125.24 L600.90,126.91 L601.37,128.59 L601.84,127.03 L602.32,128.36 L602.79,130.52 L603.26,130.97 L603.73,131.89 L604.21,129.17 L604.68,130.14 L605.15,129.76 L605.62,129.30 L606.10,128.64 L606.57,132.39 L607.04,132.71 L607.51,130.81 L607.99,131.00 L608.46,133.06 L608.93,132.62 L609.40,134.90 L609.88,135.85 L610.35,136.76 L610.82,135.58 L611.30,136.02 L611.77,134.93 L612.24,132.57 L612.71,135.85 L613.19,135.02 L613.66,133.43 L614.13,134.33 L614.60,135.05 L615.08,134.01 L615.55,137.05 L616.02,133.41 L616.49,133.42 L616.97,132.70 L617.44,132.24 L617.91,135.41 L618.38,136.36 L618.86,135.97 L619.33,134.15 L619.80,131.40 L620.27,130.56 L620.75,132.52 L621.22,131.96 L621.69,131.09 L622.16,132.61 L622.64,129.89 L623.11,129.24 L623.58,130.07 L624.05,129.49 L624.53,129.80 L625.00,130.59 L625.47,132.40 L625.94,133.14 L626.42,133.56 L626.89,134.55 L627.36,130.72 L627.83,132.55 L628.31,134.40 L628.78,133.57 L629.25,134.33 L629.72,132.94 L630.20,133.05 L630.67,133.83 L631.14,132.64 L631.61,132.57 L632.09,132.84 L632.56,130.74 L633.03,132.52 L633.51,131.94 L633.98,130.16 L634.45,129.25 L634.92,131.75 L635.40,134.08 L635.87,130.46 L636.34,131.45 L636.81,133.15 L637.29,134.09 L637.76,133.84 L638.23,133.43 L638.70,134.12 L639.18,134.75 L639.65,130.46 L640.12,129.99 L640.59,133.21 L641.07,132.43 L641.54,130.68 L642.01,131.56 L642.48,133.89 L642.96,133.30 L643.43,132.93 L643.90,130.28 L644.37,131.03 L644.85,131.81 L645.32,131.20 L645.79,133.75 L646.26,131.46 L646.74,130.17 L647.21,130.41 L647.68,131.92 L648.15,132.70 L648.63,134.22 L649.10,134.30 L649.57,133.96 L650.04,132.41 L650.52,130.37 L650.99,132.40 L651.46,131.76 L651.93,130.77 L652.41,130.48 L652.88,133.25 L653.35,129.78 L653.82,130.30 L654.30,131.77 L654.77,132.54 L655.24,130.67 L655.72,128.97 L656.19,131.31 L656.66,131.75 L657.13,131.14 L657.61,132.80 L658.08,132.22 L658.55,129.64 L659.02,130.61 L659.50,129.65 L659.97,132.05 L660.44,129.91 L660.91,129.70 L661.39,132.31 L661.86,131.66 L662.33,130.77 L662.80,131.05 L663.28,131.01 L663.75,132.74 L664.22,131.79 L664.69,132.48 L665.17,130.60 L665.64,132.08 L666.11,129.66 L666.58,130.86 L667.06,132.91 L667.53,132.66 L668.00,133.88 L668.47,131.31 L668.95,133.77 L669.42,131.80 L669.89,132.57 L670.36,130.53 L670.84,132.95 L671.31,131.00 L671.78,130.21 L672.25,132.21 L672.73,133.25 L673.20,132.36 L673.67,130.73" fill="none" stroke="#ef7d22" stroke-width="1.5" stroke-linejoin="round" />
<path d="M522.4,37.4 V162.3 H680.8" fill="none" stroke="#2a2a2a" stroke-width="1.0"/>
<line x1="522.4" y1="162.3" x2="524.9" y2="162.3" stroke="#2a2a2a" stroke-width="1.0"/>
<text x="520.4" y="165.3" font-size="8.9" fill="#2a2a2a" text-anchor="end" >-4</text>
<line x1="522.4" y1="144.5" x2="524.9" y2="144.5" stroke="#2a2a2a" stroke-width="1.0"/>
<text x="520.4" y="147.5" font-size="8.9" fill="#2a2a2a" text-anchor="end" >-2</text>
<line x1="522.4" y1="126.6" x2="524.9" y2="126.6" stroke="#2a2a2a" stroke-width="1.0"/>
<text x="520.4" y="129.6" font-size="8.9" fill="#2a2a2a" text-anchor="end" >0</text>
<line x1="522.4" y1="108.8" x2="524.9" y2="108.8" stroke="#2a2a2a" stroke-width="1.0"/>
<text x="520.4" y="111.8" font-size="8.9" fill="#2a2a2a" text-anchor="end" >2</text>
<line x1="522.4" y1="90.9" x2="524.9" y2="90.9" stroke="#2a2a2a" stroke-width="1.0"/>
<text x="520.4" y="93.9" font-size="8.9" fill="#2a2a2a" text-anchor="end" >4</text>
<line x1="522.4" y1="73.1" x2="524.9" y2="73.1" stroke="#2a2a2a" stroke-width="1.0"/>
<text x="520.4" y="76.1" font-size="8.9" fill="#2a2a2a" text-anchor="end" >6</text>
<line x1="522.4" y1="55.2" x2="524.9" y2="55.2" stroke="#2a2a2a" stroke-width="1.0"/>
<text x="520.4" y="58.2" font-size="8.9" fill="#2a2a2a" text-anchor="end" >8</text>
<line x1="522.4" y1="37.4" x2="524.9" y2="37.4" stroke="#2a2a2a" stroke-width="1.0"/>
<text x="520.4" y="40.4" font-size="8.9" fill="#2a2a2a" text-anchor="end" >10</text>
<line x1="522.4" y1="162.3" x2="522.4" y2="159.8" stroke="#2a2a2a" stroke-width="1.0"/>
<text x="522.4" y="171.5" font-size="8.9" fill="#2a2a2a" text-anchor="middle" >0</text>
<line x1="548.8" y1="162.3" x2="548.8" y2="159.8" stroke="#2a2a2a" stroke-width="1.0"/>
<text x="548.8" y="171.5" font-size="8.9" fill="#2a2a2a" text-anchor="middle" >10</text>
<line x1="575.2" y1="162.3" x2="575.2" y2="159.8" stroke="#2a2a2a" stroke-width="1.0"/>
<text x="575.2" y="171.5" font-size="8.9" fill="#2a2a2a" text-anchor="middle" >20</text>
<line x1="601.6" y1="162.3" x2="601.6" y2="159.8" stroke="#2a2a2a" stroke-width="1.0"/>
<text x="601.6" y="171.5" font-size="8.9" fill="#2a2a2a" text-anchor="middle" >30</text>
<line x1="628.0" y1="162.3" x2="628.0" y2="159.8" stroke="#2a2a2a" stroke-width="1.0"/>
<text x="628.0" y="171.5" font-size="8.9" fill="#2a2a2a" text-anchor="middle" >40</text>
<line x1="654.4" y1="162.3" x2="654.4" y2="159.8" stroke="#2a2a2a" stroke-width="1.0"/>
<text x="654.4" y="171.5" font-size="8.9" fill="#2a2a2a" text-anchor="middle" >50</text>
<line x1="680.8" y1="162.3" x2="680.8" y2="159.8" stroke="#2a2a2a" stroke-width="1.0"/>
<text x="680.8" y="171.5" font-size="8.9" fill="#2a2a2a" text-anchor="middle" >60</text>
<text x="603.1" y="179.5" font-size="10" fill="#1a1a1a" text-anchor="middle" >Time (s)</text>
<text x="509.6" y="91.3" font-size="9" fill="#231f20" text-anchor="middle" transform="rotate(-90 509.6 91.3)">Diameter (z score)</text>
<text x="609.0" y="54.9" font-size="9" fill="#1a1a1a" text-anchor="start" >Dilation control</text>
<text x="609.0" y="63.6" font-size="9" fill="#ef7d22" text-anchor="start" >Dilation in pH/CO<tspan font-size="5.5" dy="1.5">2</tspan></text>
<rect x="548.4" y="60.4" width="18.9" height="83.2" fill="none" stroke="#1d9a52" stroke-width="1.1"/>
<line x1="548.4" y1="143.6" x2="585.4" y2="194.8" stroke="#1d9a52" stroke-width="1.1"/>
<line x1="567.3" y1="143.6" x2="676.5" y2="194.8" stroke="#1d9a52" stroke-width="1.1"/>
<text x="127.5" y="200.3" font-size="12.2" fill="#231f20" text-anchor="start" >e</text>
<text x="151.8" y="200.3" font-size="11.85" fill="#9d9d9d" text-anchor="start" font-style="italic" >Whisker or BriefCO<tspan font-size="7.5" dy="2.5">2</tspan></text>
<rect x="187.8" y="226.4" width="36.4" height="127.9" fill="#fae4f5"/>
<rect x="187.8" y="246.1" width="18.2" height="108.2" fill="#e6eaf7"/>
<text x="206.5" y="222.8" font-size="10.6" fill="#1a1a1a" text-anchor="middle" >CO<tspan font-size="6" dy="2">2</tspan></text>
<text x="188.8" y="244.4" font-size="10.5" fill="#1a1a1a" text-anchor="start" >WS</text>
<polygon points="153.22,310.93 154.10,311.08 154.98,308.75 155.86,307.49 156.74,308.40 157.62,306.83 158.51,307.13 159.39,307.52 160.27,309.78 161.15,308.75 162.03,306.34 162.91,306.28 163.79,304.75 164.67,304.23 165.55,306.45 166.43,306.99 167.32,309.00 168.20,308.63 169.08,304.69 169.96,307.79 170.84,305.27 171.72,307.49 172.60,308.52 173.48,308.55 174.36,308.85 175.24,309.03 176.12,306.80 177.01,306.23 177.89,307.90 178.77,306.31 179.65,306.03 180.53,306.31 181.41,306.97 182.29,306.31 183.17,307.39 184.05,306.71 184.93,307.30 185.81,308.07 186.70,306.04 187.58,306.39 188.46,307.35 189.34,308.84 190.22,306.66 191.10,309.24 191.98,307.19 192.86,306.53 193.74,304.83 194.62,304.86 195.51,306.94 196.39,303.99 197.27,302.73 198.15,304.84 199.03,303.34 199.91,301.34 200.79,302.28 201.67,301.59 202.55,301.68 203.43,298.35 204.31,299.64 205.20,297.49 206.08,299.57 206.96,299.66 207.84,299.04 208.72,297.00 209.60,295.71 210.48,287.94 211.36,292.85 212.24,286.26 213.12,282.64 214.00,283.93 214.89,284.40 215.77,283.31 216.65,276.40 217.53,274.18 218.41,280.19 219.29,280.75 220.17,277.91 221.05,278.41 221.93,268.71 222.81,268.55 223.70,276.61 224.58,264.45 225.46,266.83 226.34,271.87 227.22,272.81 228.10,272.65 228.98,271.14 229.86,272.28 230.74,259.10 231.62,266.34 232.50,269.63 233.39,270.08 234.27,264.10 235.15,256.42 236.03,267.42 236.91,263.24 237.79,256.80 238.67,260.88 239.55,264.38 240.43,262.24 241.31,261.20 242.20,256.85 243.08,259.87 243.96,261.60 244.84,269.41 245.72,270.87 246.60,271.60 247.48,266.59 248.36,274.53 249.24,272.55 250.12,261.87 251.00,263.92 251.89,273.69 252.77,267.29 253.65,268.49 254.53,272.06 255.41,276.73 256.29,281.50 257.17,275.59 258.05,282.99 258.05,338.02 257.17,336.22 256.29,337.24 255.41,337.94 254.53,319.63 253.65,330.31 252.77,325.17 251.89,323.63 251.00,317.34 250.12,311.52 249.24,317.57 248.36,310.07 247.48,318.04 246.60,321.65 245.72,314.64 244.84,304.60 243.96,312.40 243.08,305.04 242.20,304.83 241.31,304.31 240.43,301.44 239.55,302.52 238.67,304.89 237.79,307.97 236.91,309.61 236.03,310.28 235.15,306.09 234.27,313.57 233.39,309.06 232.50,307.20 231.62,302.43 230.74,310.24 229.86,304.14 228.98,302.53 228.10,306.00 227.22,310.64 226.34,303.67 225.46,312.36 224.58,303.26 223.70,310.10 222.81,304.34 221.93,311.42 221.05,307.84 220.17,314.46 219.29,306.96 218.41,311.81 217.53,310.40 216.65,311.84 215.77,307.17 214.89,312.35 214.00,316.42 213.12,314.08 212.24,310.18 211.36,313.67 210.48,317.94 209.60,320.37 208.72,315.54 207.84,316.16 206.96,321.06 206.08,321.32 205.20,318.58 204.31,315.91 203.43,317.84 202.55,320.61 201.67,317.76 200.79,318.32 199.91,320.03 199.03,319.78 198.15,319.62 197.27,316.77 196.39,318.60 195.51,316.98 194.62,319.07 193.74,318.53 192.86,320.85 191.98,319.55 191.10,320.39 190.22,317.23 189.34,320.67 188.46,317.78 187.58,319.19 186.70,319.57 185.81,316.02 184.93,318.90 184.05,319.30 183.17,319.88 182.29,317.03 181.41,318.84 180.53,317.40 179.65,318.95 178.77,316.81 177.89,318.08 177.01,316.72 176.12,317.90 175.24,319.06 174.36,316.97 173.48,317.43 172.60,316.38 171.72,315.67 170.84,317.44 169.96,318.40 169.08,316.45 168.20,317.59 167.32,316.90 166.43,317.75 165.55,318.17 164.67,316.10 163.79,317.85 162.91,316.10 162.03,316.25 161.15,318.16 160.27,320.85 159.39,319.02 158.51,318.59 157.62,317.80 156.74,318.58 155.86,317.04 154.98,317.34 154.10,320.80 153.22,319.71" fill="#f4c6ea" fill-opacity="0.7" stroke="none"/>
<polygon points="153.22,308.37 154.10,306.83 154.98,309.08 155.86,305.86 156.74,309.90 157.62,308.14 158.51,308.71 159.39,306.69 160.27,303.88 161.15,303.99 162.03,304.38 162.91,303.96 163.79,305.03 164.67,305.76 165.55,308.00 166.43,308.00 167.32,308.02 168.20,307.40 169.08,308.25 169.96,307.10 170.84,306.91 171.72,306.63 172.60,306.39 173.48,306.40 174.36,306.25 175.24,308.43 176.12,309.28 177.01,307.46 177.89,308.44 178.77,307.81 179.65,308.66 180.53,307.03 181.41,309.81 182.29,306.75 183.17,307.70 184.05,308.02 184.93,308.17 185.81,306.49 186.70,306.43 187.58,308.23 188.46,307.50 189.34,309.62 190.22,307.98 191.10,306.94 191.98,306.17 192.86,302.81 193.74,302.37 194.62,304.67 195.51,296.18 196.39,289.97 197.27,289.64 198.15,286.86 199.03,283.37 199.91,285.93 200.79,282.57 201.67,279.85 202.55,278.64 203.43,276.15 204.31,275.11 205.20,278.00 206.08,275.86 206.96,271.36 207.84,272.82 208.72,270.80 209.60,271.55 210.48,274.95 211.36,268.23 212.24,275.16 213.12,271.39 214.00,276.20 214.89,274.31 215.77,282.51 216.65,278.39 217.53,287.98 218.41,288.12 219.29,284.60 220.17,291.48 221.05,289.17 221.93,293.80 222.81,294.45 223.70,298.36 224.58,302.23 225.46,306.78 226.34,307.57 227.22,304.10 228.10,307.10 228.98,309.76 229.86,309.69 230.74,312.82 231.62,310.27 232.50,315.63 233.39,312.96 234.27,310.06 235.15,316.34 236.03,316.81 236.91,312.60 237.79,312.10 238.67,316.23 239.55,317.09 240.43,311.85 241.31,313.87 242.20,311.63 243.08,310.75 243.96,316.57 244.84,314.26 245.72,313.98 246.60,315.01 247.48,314.87 248.36,312.22 249.24,310.19 250.12,309.70 251.00,313.61 251.89,307.63 252.77,310.41 253.65,309.25 254.53,313.03 255.41,308.98 256.29,307.52 257.17,307.01 258.05,309.79 258.05,330.30 257.17,326.40 256.29,329.54 255.41,328.77 254.53,328.89 253.65,332.11 252.77,332.11 251.89,329.63 251.00,331.11 250.12,330.80 249.24,334.13 248.36,335.08 247.48,333.62 246.60,329.29 245.72,330.89 244.84,330.13 243.96,332.14 243.08,335.95 242.20,332.81 241.31,331.79 240.43,335.32 239.55,336.70 238.67,332.13 237.79,330.29 236.91,331.82 236.03,336.77 235.15,331.22 234.27,329.97 233.39,333.09 232.50,334.08 231.62,332.23 230.74,332.35 229.86,334.89 228.98,328.61 228.10,324.45 227.22,326.39 226.34,323.05 225.46,325.34 224.58,320.11 223.70,318.93 222.81,316.59 221.93,313.51 221.05,317.66 220.17,310.01 219.29,309.06 218.41,312.10 217.53,303.81 216.65,308.02 215.77,306.18 214.89,304.87 214.00,298.25 213.12,297.65 212.24,300.05 211.36,294.91 210.48,299.38 209.60,294.53 208.72,300.05 207.84,295.17 206.96,294.37 206.08,297.65 205.20,302.54 204.31,301.00 203.43,303.29 202.55,303.14 201.67,298.75 200.79,300.50 199.91,304.29 199.03,309.71 198.15,306.35 197.27,305.76 196.39,311.14 195.51,314.76 194.62,319.07 193.74,318.59 192.86,322.26 191.98,321.99 191.10,321.76 190.22,318.63 189.34,319.36 188.46,316.71 187.58,315.77 186.70,317.07 185.81,316.56 184.93,317.59 184.05,317.63 183.17,317.96 182.29,317.24 181.41,318.38 180.53,317.57 179.65,318.93 178.77,317.33 177.89,317.05 177.01,319.78 176.12,318.69 175.24,318.64 174.36,318.59 173.48,317.88 172.60,318.00 171.72,315.69 170.84,317.68 169.96,317.28 169.08,319.00 168.20,317.07 167.32,318.93 166.43,318.24 165.55,316.25 164.67,316.44 163.79,316.99 162.91,314.99 162.03,315.14 161.15,314.28 160.27,314.05 159.39,316.08 158.51,317.67 157.62,316.61 156.74,316.85 155.86,316.75 154.98,317.54 154.10,317.27 153.22,318.83" fill="#c7def4" fill-opacity="0.7" stroke="none"/>
<rect x="187.8" y="226.4" width="36.4" height="127.9" fill="none" stroke="#dd4aae" stroke-width="0.8" stroke-dasharray="2,1.2"/>
<rect x="187.8" y="246.1" width="18.2" height="108.2" fill="none" stroke="#52b4e6" stroke-width="0.8" stroke-dasharray="2,1.2"/>
<line x1="151.4" y1="312.5" x2="260.6" y2="312.5" stroke="#333" stroke-width="0.8" stroke-dasharray="0.9,1.4"/>
<path d="M153.22,315.47 L154.10,314.80 L154.98,313.57 L155.86,312.16 L156.74,312.16 L157.62,312.78 L158.51,313.16 L159.39,312.70 L160.27,313.99 L161.15,312.76 L162.03,311.89 L162.91,312.03 L163.79,310.84 L164.67,310.87 L165.55,311.44 L166.43,310.94 L167.32,312.73 L168.20,313.39 L169.08,311.68 L169.96,311.93 L170.84,312.19 L171.72,312.12 L172.60,312.54 L173.48,311.98 L174.36,313.48 L175.24,314.08 L176.12,313.14 L177.01,312.66 L177.89,311.54 L178.77,311.20 L179.65,312.42 L180.53,313.31 L181.41,312.74 L182.29,312.56 L183.17,313.94 L184.05,312.99 L184.93,312.35 L185.81,312.43 L186.70,313.09 L187.58,312.16 L188.46,312.19 L189.34,313.35 L190.22,313.09 L191.10,313.93 L191.98,314.36 L192.86,313.73 L193.74,313.37 L194.62,312.98 L195.51,312.25 L196.39,311.52 L197.27,310.90 L198.15,310.51 L199.03,310.19 L199.91,310.27 L200.79,310.97 L201.67,311.23 L202.55,310.29 L203.43,309.73 L204.31,308.98 L205.20,309.43 L206.08,309.01 L206.96,307.01 L207.84,306.43 L208.72,305.57 L209.60,305.83 L210.48,304.36 L211.36,302.13 L212.24,301.04 L213.12,299.22 L214.00,298.98 L214.89,297.38 L215.77,295.62 L216.65,295.04 L217.53,293.56 L218.41,292.80 L219.29,292.86 L220.17,292.47 L221.05,290.33 L221.93,290.74 L222.81,290.25 L223.70,289.39 L224.58,288.14 L225.46,287.34 L226.34,287.53 L227.22,287.31 L228.10,286.50 L228.98,286.91 L229.86,286.66 L230.74,286.00 L231.62,285.59 L232.50,286.33 L233.39,286.20 L234.27,285.45 L235.15,283.66 L236.03,282.65 L236.91,281.33 L237.79,281.74 L238.67,282.95 L239.55,282.59 L240.43,282.27 L241.31,284.32 L242.20,286.46 L243.08,287.34 L243.96,288.66 L244.84,289.77 L245.72,290.82 L246.60,291.52 L247.48,290.96 L248.36,292.90 L249.24,293.23 L250.12,294.76 L251.00,295.94 L251.89,296.13 L252.77,298.25 L253.65,300.14 L254.53,301.30 L255.41,302.49 L256.29,304.79 L257.17,306.41 L258.05,308.32" fill="none" stroke="#c42a9e" stroke-width="1.8" stroke-linejoin="round" />
<path d="M153.22,313.27 L154.10,313.51 L154.98,313.60 L155.86,312.75 L156.74,313.39 L157.62,312.48 L158.51,312.73 L159.39,311.55 L160.27,310.08 L161.15,310.42 L162.03,310.04 L162.91,310.21 L163.79,311.33 L164.67,312.65 L165.55,312.11 L166.43,313.40 L167.32,314.35 L168.20,313.24 L169.08,312.20 L169.96,311.54 L170.84,310.79 L171.72,311.78 L172.60,312.62 L173.48,312.98 L174.36,311.76 L175.24,312.99 L176.12,312.97 L177.01,313.04 L177.89,312.83 L178.77,312.67 L179.65,312.63 L180.53,313.30 L181.41,313.60 L182.29,312.96 L183.17,313.82 L184.05,312.82 L184.93,312.53 L185.81,312.62 L186.70,312.52 L187.58,312.03 L188.46,312.59 L189.34,313.79 L190.22,314.33 L191.10,315.00 L191.98,314.58 L192.86,312.85 L193.74,312.87 L194.62,311.92 L195.51,307.12 L196.39,302.05 L197.27,299.20 L198.15,297.07 L199.03,296.24 L199.91,294.78 L200.79,292.03 L201.67,291.01 L202.55,289.70 L203.43,288.81 L204.31,288.39 L205.20,288.06 L206.08,287.53 L206.96,285.29 L207.84,284.64 L208.72,283.54 L209.60,283.57 L210.48,283.71 L211.36,284.50 L212.24,285.73 L213.12,286.84 L214.00,287.76 L214.89,289.34 L215.77,291.40 L216.65,292.93 L217.53,295.83 L218.41,297.06 L219.29,299.55 L220.17,301.58 L221.05,303.16 L221.93,305.33 L222.81,308.27 L223.70,310.34 L224.58,312.79 L225.46,314.65 L226.34,314.68 L227.22,316.46 L228.10,317.47 L228.98,319.24 L229.86,321.72 L230.74,321.28 L231.62,321.28 L232.50,322.22 L233.39,323.28 L234.27,323.31 L235.15,323.72 L236.03,323.69 L236.91,324.35 L237.79,323.62 L238.67,323.11 L239.55,324.26 L240.43,323.60 L241.31,323.74 L242.20,323.96 L243.08,323.29 L243.96,324.01 L244.84,323.45 L245.72,324.39 L246.60,322.80 L247.48,323.48 L248.36,323.62 L249.24,321.68 L250.12,320.97 L251.00,320.43 L251.89,319.70 L252.77,319.80 L253.65,320.09 L254.53,319.57 L255.41,318.24 L256.29,318.12 L257.17,319.60 L258.05,319.87" fill="none" stroke="#22a3dc" stroke-width="1.8" stroke-linejoin="round" />
<path d="M151.4,208.1 V354.3 H260.6" fill="none" stroke="#2a2a2a" stroke-width="1.0"/>
<line x1="151.4" y1="354.3" x2="153.9" y2="354.3" stroke="#2a2a2a" stroke-width="1.0"/>
<text x="149.4" y="357.3" font-size="9.0" fill="#2a2a2a" text-anchor="end" >-4</text>
<line x1="151.4" y1="333.4" x2="153.9" y2="333.4" stroke="#2a2a2a" stroke-width="1.0"/>
<text x="149.4" y="336.4" font-size="9.0" fill="#2a2a2a" text-anchor="end" >-2</text>
<line x1="151.4" y1="312.5" x2="153.9" y2="312.5" stroke="#2a2a2a" stroke-width="1.0"/>
<text x="149.4" y="315.5" font-size="9.0" fill="#2a2a2a" text-anchor="end" >0</text>
<line x1="151.4" y1="291.6" x2="153.9" y2="291.6" stroke="#2a2a2a" stroke-width="1.0"/>
<text x="149.4" y="294.6" font-size="9.0" fill="#2a2a2a" text-anchor="end" >2</text>
<line x1="151.4" y1="270.8" x2="153.9" y2="270.8" stroke="#2a2a2a" stroke-width="1.0"/>
<text x="149.4" y="273.8" font-size="9.0" fill="#2a2a2a" text-anchor="end" >4</text>
<line x1="151.4" y1="249.9" x2="153.9" y2="249.9" stroke="#2a2a2a" stroke-width="1.0"/>
<text x="149.4" y="252.9" font-size="9.0" fill="#2a2a2a" text-anchor="end" >6</text>
<line x1="151.4" y1="229.0" x2="153.9" y2="229.0" stroke="#2a2a2a" stroke-width="1.0"/>
<text x="149.4" y="232.0" font-size="9.0" fill="#2a2a2a" text-anchor="end" >8</text>
<line x1="151.4" y1="208.1" x2="153.9" y2="208.1" stroke="#2a2a2a" stroke-width="1.0"/>
<text x="149.4" y="211.1" font-size="9.0" fill="#2a2a2a" text-anchor="end" >10</text>
<line x1="151.4" y1="354.3" x2="151.4" y2="351.8" stroke="#2a2a2a" stroke-width="1.0"/>
<text x="151.4" y="364.1" font-size="9.0" fill="#2a2a2a" text-anchor="middle" >0</text>
<line x1="187.8" y1="354.3" x2="187.8" y2="351.8" stroke="#2a2a2a" stroke-width="1.0"/>
<text x="187.8" y="364.1" font-size="9.0" fill="#2a2a2a" text-anchor="middle" >10</text>
<line x1="224.2" y1="354.3" x2="224.2" y2="351.8" stroke="#2a2a2a" stroke-width="1.0"/>
<text x="224.2" y="364.1" font-size="9.0" fill="#2a2a2a" text-anchor="middle" >20</text>
<line x1="260.6" y1="354.3" x2="260.6" y2="351.8" stroke="#2a2a2a" stroke-width="1.0"/>
<text x="260.6" y="364.1" font-size="9.0" fill="#2a2a2a" text-anchor="middle" >30</text>
<text x="210.1" y="372.6" font-size="10" fill="#1a1a1a" text-anchor="middle" >Time (s)</text>
<text x="141.2" y="282.0" font-size="8.5" fill="#231f20" text-anchor="middle" transform="rotate(-90 141.2 282.0)">Diameter (z score)</text>
<text x="268.5" y="200.3" font-size="12.2" fill="#231f20" text-anchor="start" >f</text>
<text x="292.3" y="200.3" font-size="11.85" fill="#9d9d9d" text-anchor="start" font-style="italic" >Whisker &amp; BriefCO<tspan font-size="7.5" dy="2.5">2</tspan></text>
<rect x="325.2" y="226.4" width="36.7" height="127.9" fill="#fae4f5"/>
<rect x="325.2" y="246.1" width="18.4" height="108.2" fill="#e6eaf7"/>
<text x="344.1" y="222.8" font-size="10.6" fill="#1a1a1a" text-anchor="middle" >CO<tspan font-size="6" dy="2">2</tspan></text>
<text x="326.2" y="244.4" font-size="10.5" fill="#1a1a1a" text-anchor="start" >WS</text>
<polygon points="292.17,307.73 292.98,305.83 293.80,305.70 294.61,303.93 295.42,300.87 296.24,301.44 297.05,302.08 297.87,300.02 298.68,299.01 299.49,302.05 300.31,301.52 301.12,302.22 301.93,302.55 302.75,300.86 303.56,303.37 304.37,304.21 305.19,301.96 306.00,304.13 306.82,300.05 307.63,301.07 308.44,304.52 309.26,300.59 310.07,306.07 310.88,304.84 311.70,304.49 312.51,303.73 313.33,304.21 314.14,302.28 314.95,307.70 315.77,303.08 316.58,304.20 317.39,300.65 318.21,299.83 319.02,299.20 319.83,302.01 320.65,302.19 321.46,303.85 322.28,300.06 323.09,306.01 323.90,303.35 324.72,301.22 325.53,302.72 326.34,307.34 327.16,299.82 327.97,296.44 328.78,297.94 329.60,291.57 330.41,298.37 331.23,296.01 332.04,294.09 332.85,292.00 333.67,284.95 334.48,288.54 335.29,280.22 336.11,278.35 336.92,276.74 337.73,268.99 338.55,278.97 339.36,270.71 340.18,276.37 340.99,266.51 341.80,265.12 342.62,268.95 343.43,261.03 344.24,264.79 345.06,259.77 345.87,255.63 346.69,257.55 347.50,247.52 348.31,252.25 349.13,245.16 349.94,247.12 350.75,249.03 351.57,242.06 352.38,254.21 353.19,254.38 354.01,244.57 354.82,249.22 355.64,254.59 356.45,255.24 357.26,247.25 358.08,252.48 358.89,261.40 359.70,259.22 360.52,255.53 361.33,255.27 362.14,259.85 362.96,257.67 363.77,256.48 364.59,251.17 365.40,254.44 366.21,250.82 367.03,260.38 367.84,253.52 368.65,261.47 369.47,254.21 370.28,256.98 371.09,260.68 371.91,254.16 372.72,258.12 373.54,254.65 374.35,258.93 375.16,261.02 375.98,258.74 376.79,265.33 377.60,253.14 378.42,263.73 379.23,263.34 380.05,256.63 380.86,257.62 381.67,258.10 382.49,262.16 383.30,262.96 384.11,272.07 384.93,264.79 385.74,264.29 386.55,262.51 387.37,269.68 388.18,270.44 389.00,272.00 389.81,273.69 390.62,275.52 391.44,273.82 392.25,269.09 393.06,277.04 393.88,270.21 394.69,275.99 395.50,281.11 396.32,268.03 397.13,272.36 397.13,327.75 396.32,318.21 395.50,322.26 394.69,325.49 393.88,326.94 393.06,319.71 392.25,326.56 391.44,322.96 390.62,315.47 389.81,311.06 389.00,319.44 388.18,310.85 387.37,306.77 386.55,299.01 385.74,305.74 384.93,305.30 384.11,301.67 383.30,294.06 382.49,301.71 381.67,300.52 380.86,298.92 380.05,290.41 379.23,296.87 378.42,295.71 377.60,290.52 376.79,289.09 375.98,289.29 375.16,293.03 374.35,292.81 373.54,293.91 372.72,288.66 371.91,287.88 371.09,284.12 370.28,288.90 369.47,286.99 368.65,288.85 367.84,286.62 367.03,284.91 366.21,289.18 365.40,281.38 364.59,285.73 363.77,284.43 362.96,292.24 362.14,293.44 361.33,295.68 360.52,293.28 359.70,293.17 358.89,290.68 358.08,289.58 357.26,284.05 356.45,290.05 355.64,290.31 354.82,282.58 354.01,277.98 353.19,280.30 352.38,285.88 351.57,282.91 350.75,280.12 349.94,290.31 349.13,289.79 348.31,282.56 347.50,286.57 346.69,286.82 345.87,294.97 345.06,299.43 344.24,303.56 343.43,297.23 342.62,296.48 341.80,303.57 340.99,302.81 340.18,314.72 339.36,312.36 338.55,309.91 337.73,311.89 336.92,313.29 336.11,310.20 335.29,307.71 334.48,311.74 333.67,319.71 332.85,321.97 332.04,323.93 331.23,321.94 330.41,319.93 329.60,325.19 328.78,316.87 327.97,319.57 327.16,325.62 326.34,323.18 325.53,320.56 324.72,320.53 323.90,316.38 323.09,320.25 322.28,320.18 321.46,320.80 320.65,319.97 319.83,318.17 319.02,317.34 318.21,314.95 317.39,319.83 316.58,322.93 315.77,320.01 314.95,320.53 314.14,318.49 313.33,320.85 312.51,320.22 311.70,319.72 310.88,319.96 310.07,319.47 309.26,318.24 308.44,319.96 307.63,318.17 306.82,315.49 306.00,320.60 305.19,320.64 304.37,320.33 303.56,320.74 302.75,317.83 301.93,315.29 301.12,318.88 300.31,316.55 299.49,315.70 298.68,317.89 297.87,320.41 297.05,316.49 296.24,318.99 295.42,316.33 294.61,318.93 293.80,326.48 292.98,326.08 292.17,327.29" fill="#a0a0a0" fill-opacity="0.72" stroke="none"/>
<rect x="325.2" y="226.4" width="36.7" height="127.9" fill="none" stroke="#dd4aae" stroke-width="0.8" stroke-dasharray="2,1.2"/>
<rect x="325.2" y="246.1" width="18.4" height="108.2" fill="none" stroke="#52b4e6" stroke-width="0.8" stroke-dasharray="2,1.2"/>
<line x1="288.5" y1="312.5" x2="398.6" y2="312.5" stroke="#333" stroke-width="0.8" stroke-dasharray="0.9,1.4"/>
<path d="M292.17,316.18 L292.98,315.84 L293.80,315.21 L294.61,310.93 L295.42,310.31 L296.24,309.28 L297.05,309.55 L297.87,310.21 L298.68,308.72 L299.49,308.79 L300.31,308.43 L301.12,309.18 L301.93,308.95 L302.75,310.96 L303.56,312.70 L304.37,312.77 L305.19,309.95 L306.00,311.22 L306.82,309.14 L307.63,309.23 L308.44,312.05 L309.26,310.04 L310.07,313.06 L310.88,310.53 L311.70,310.01 L312.51,312.75 L313.33,311.50 L314.14,311.26 L314.95,313.36 L315.77,311.27 L316.58,312.71 L317.39,309.36 L318.21,309.31 L319.02,308.29 L319.83,312.22 L320.65,312.40 L321.46,311.29 L322.28,311.10 L323.09,313.02 L323.90,310.60 L324.72,310.17 L325.53,312.54 L326.34,314.04 L327.16,312.09 L327.97,311.34 L328.78,309.07 L329.60,308.21 L330.41,307.45 L331.23,307.94 L332.04,306.66 L332.85,303.62 L333.67,300.33 L334.48,299.48 L335.29,296.64 L336.11,295.51 L336.92,292.49 L337.73,291.82 L338.55,292.22 L339.36,292.28 L340.18,291.74 L340.99,290.83 L341.80,286.08 L342.62,282.80 L343.43,280.34 L344.24,280.56 L345.06,276.34 L345.87,275.74 L346.69,271.57 L347.50,270.37 L348.31,268.63 L349.13,267.75 L349.94,268.10 L350.75,266.31 L351.57,265.13 L352.38,267.79 L353.19,267.59 L354.01,266.09 L354.82,265.73 L355.64,266.66 L356.45,267.78 L357.26,266.55 L358.08,269.91 L358.89,272.41 L359.70,272.25 L360.52,275.13 L361.33,274.40 L362.14,276.84 L362.96,273.10 L363.77,273.22 L364.59,270.09 L365.40,269.99 L366.21,269.92 L367.03,272.04 L367.84,272.78 L368.65,273.46 L369.47,272.98 L370.28,270.89 L371.09,273.02 L371.91,273.02 L372.72,271.69 L373.54,273.21 L374.35,273.02 L375.16,274.39 L375.98,273.60 L376.79,276.55 L377.60,274.33 L378.42,276.16 L379.23,276.95 L380.05,278.56 L380.86,279.98 L381.67,279.03 L382.49,279.78 L383.30,281.01 L384.11,285.55 L384.93,285.35 L385.74,284.63 L386.55,286.62 L387.37,288.64 L388.18,289.52 L389.00,292.73 L389.81,292.30 L390.62,292.91 L391.44,297.20 L392.25,297.55 L393.06,298.26 L393.88,300.53 L394.69,301.06 L395.50,300.67 L396.32,298.66 L397.13,299.53" fill="none" stroke="#1a1a1a" stroke-width="1.8" stroke-linejoin="round" />
<path d="M292.17,317.34 L293.71,316.82 L295.25,314.40 L296.80,312.01 L298.34,307.91 L299.88,306.06 L301.42,307.11 L302.97,311.01 L304.51,310.53 L306.05,311.14 L307.59,311.52 L309.14,312.37 L310.68,314.93 L312.22,313.45 L313.76,310.76 L315.31,311.25 L316.85,313.48 L318.39,313.24 L319.93,311.48 L321.48,312.68 L323.02,312.21 L324.56,313.33 L326.10,313.15 L327.65,312.80 L329.19,318.75 L330.73,317.98 L332.27,313.40 L333.82,308.07 L335.36,300.82 L336.90,296.52 L338.44,291.56 L339.99,287.22 L341.53,283.42 L343.07,279.66 L344.61,279.38 L346.16,277.60 L347.70,274.80 L349.24,272.97 L350.78,270.18 L352.33,269.72 L353.87,272.37 L355.41,277.06 L356.95,279.91 L358.50,280.96 L360.04,282.54 L361.58,283.27 L363.12,284.78 L364.67,285.60 L366.21,285.68 L367.75,288.97 L369.29,293.79 L370.84,294.58 L372.38,293.72 L373.92,290.91 L375.46,292.46 L377.01,294.84 L378.55,298.38 L380.09,299.15 L381.63,302.12 L383.18,303.57 L384.72,303.10 L386.26,304.19 L387.80,305.20 L389.35,305.57 L390.89,306.98 L392.43,309.04 L393.97,312.68 L395.52,312.90 L397.06,311.08 L398.60,310.37" fill="none" stroke="#6359d0" stroke-width="2.5" stroke-linejoin="round" stroke-dasharray="2,1.7" />
<path d="M288.5,208.1 V354.3 H398.6" fill="none" stroke="#2a2a2a" stroke-width="1.0"/>
<line x1="288.5" y1="354.3" x2="291.0" y2="354.3" stroke="#2a2a2a" stroke-width="1.0"/>
<text x="286.5" y="357.3" font-size="9.0" fill="#2a2a2a" text-anchor="end" >-4</text>
<line x1="288.5" y1="333.4" x2="291.0" y2="333.4" stroke="#2a2a2a" stroke-width="1.0"/>
<text x="286.5" y="336.4" font-size="9.0" fill="#2a2a2a" text-anchor="end" >-2</text>
<line x1="288.5" y1="312.5" x2="291.0" y2="312.5" stroke="#2a2a2a" stroke-width="1.0"/>
<text x="286.5" y="315.5" font-size="9.0" fill="#2a2a2a" text-anchor="end" >0</text>
<line x1="288.5" y1="291.6" x2="291.0" y2="291.6" stroke="#2a2a2a" stroke-width="1.0"/>
<text x="286.5" y="294.6" font-size="9.0" fill="#2a2a2a" text-anchor="end" >2</text>
<line x1="288.5" y1="270.8" x2="291.0" y2="270.8" stroke="#2a2a2a" stroke-width="1.0"/>
<text x="286.5" y="273.8" font-size="9.0" fill="#2a2a2a" text-anchor="end" >4</text>
<line x1="288.5" y1="249.9" x2="291.0" y2="249.9" stroke="#2a2a2a" stroke-width="1.0"/>
<text x="286.5" y="252.9" font-size="9.0" fill="#2a2a2a" text-anchor="end" >6</text>
<line x1="288.5" y1="229.0" x2="291.0" y2="229.0" stroke="#2a2a2a" stroke-width="1.0"/>
<text x="286.5" y="232.0" font-size="9.0" fill="#2a2a2a" text-anchor="end" >8</text>
<line x1="288.5" y1="208.1" x2="291.0" y2="208.1" stroke="#2a2a2a" stroke-width="1.0"/>
<text x="286.5" y="211.1" font-size="9.0" fill="#2a2a2a" text-anchor="end" >10</text>
<line x1="288.5" y1="354.3" x2="288.5" y2="351.8" stroke="#2a2a2a" stroke-width="1.0"/>
<text x="288.5" y="364.1" font-size="9.0" fill="#2a2a2a" text-anchor="middle" >0</text>
<line x1="325.2" y1="354.3" x2="325.2" y2="351.8" stroke="#2a2a2a" stroke-width="1.0"/>
<text x="325.2" y="364.1" font-size="9.0" fill="#2a2a2a" text-anchor="middle" >10</text>
<line x1="361.9" y1="354.3" x2="361.9" y2="351.8" stroke="#2a2a2a" stroke-width="1.0"/>
<text x="361.9" y="364.1" font-size="9.0" fill="#2a2a2a" text-anchor="middle" >20</text>
<line x1="398.6" y1="354.3" x2="398.6" y2="351.8" stroke="#2a2a2a" stroke-width="1.0"/>
<text x="398.6" y="364.1" font-size="9.0" fill="#2a2a2a" text-anchor="middle" >30</text>
<text x="347.2" y="373.0" font-size="10" fill="#1a1a1a" text-anchor="middle" >Time (s)</text>
<text x="278.6" y="282.0" font-size="8.5" fill="#231f20" text-anchor="middle" transform="rotate(-90 278.6 282.0)">Diameter (z score)</text>
<line x1="364.3" y1="227.2" x2="373.5" y2="227.2" stroke="#6359d0" stroke-width="2.4" stroke-dasharray="2,1.6"/>
<text x="375.5" y="229.9" font-size="8.8" fill="#6359d0" text-anchor="start" >Calculated</text>
<line x1="364.3" y1="235.9" x2="373.5" y2="235.9" stroke="#1a1a1a" stroke-width="2"/>
<text x="375.5" y="238.6" font-size="8.8" fill="#1a1a1a" text-anchor="start" >Experiment</text>
<text x="420.5" y="200.3" font-size="12.2" fill="#231f20" text-anchor="start" >g</text>
<text x="448.5" y="200.3" font-size="11.85" fill="#9d9d9d" text-anchor="start" font-style="italic" >Whisker &amp; BriefCO<tspan font-size="7.5" dy="2.5">2</tspan></text>
<rect x="481.2" y="226.4" width="36.6" height="127.9" fill="#fae4f5"/>
<rect x="488.5" y="246.1" width="18.3" height="108.2" fill="#e6eaf7"/>
<text x="499.9" y="222.8" font-size="10.6" fill="#1a1a1a" text-anchor="middle" >CO<tspan font-size="6" dy="2">2</tspan></text>
<text x="489.5" y="244.4" font-size="10.5" fill="#1a1a1a" text-anchor="start" >WS</text>
<polygon points="448.26,306.18 449.08,303.02 449.90,307.69 450.72,300.07 451.54,303.63 452.37,302.50 453.19,299.27 454.01,302.11 454.83,302.98 455.66,303.41 456.48,304.56 457.30,303.79 458.12,304.49 458.94,306.45 459.77,298.93 460.59,304.84 461.41,299.14 462.23,300.17 463.05,302.60 463.88,304.18 464.70,302.16 465.52,299.59 466.34,307.40 467.16,301.84 467.99,303.94 468.81,301.58 469.63,299.88 470.45,299.62 471.27,302.73 472.10,301.24 472.92,306.45 473.74,302.19 474.56,306.34 475.38,302.12 476.21,301.45 477.03,300.22 477.85,302.21 478.67,303.66 479.49,305.63 480.32,306.30 481.14,302.54 481.96,304.14 482.78,310.67 483.60,303.91 484.43,305.12 485.25,309.70 486.07,304.92 486.89,306.84 487.71,306.66 488.54,301.10 489.36,308.86 490.18,305.15 491.00,301.78 491.82,304.89 492.65,298.69 493.47,299.62 494.29,289.23 495.11,288.37 495.94,288.48 496.76,279.71 497.58,284.09 498.40,275.35 499.22,275.60 500.05,272.77 500.87,273.16 501.69,265.86 502.51,267.96 503.33,270.55 504.16,272.19 504.98,266.06 505.80,260.46 506.62,257.43 507.44,259.49 508.27,258.54 509.09,254.52 509.91,258.53 510.73,253.92 511.55,254.27 512.38,253.54 513.20,243.73 514.02,241.46 514.84,244.14 515.66,249.60 516.49,240.84 517.31,247.87 518.13,241.69 518.95,242.15 519.77,247.26 520.60,245.69 521.42,253.33 522.24,249.71 523.06,254.03 523.88,244.94 524.71,247.92 525.53,247.24 526.35,247.75 527.17,257.58 527.99,249.40 528.82,254.23 529.64,253.98 530.46,258.41 531.28,252.73 532.10,251.16 532.93,253.93 533.75,247.43 534.57,255.89 535.39,260.19 536.22,258.23 537.04,268.49 537.86,252.93 538.68,259.50 539.50,253.68 540.33,269.64 541.15,265.62 541.97,276.74 542.79,267.91 543.61,276.17 544.44,275.21 545.26,284.24 546.08,277.34 546.90,269.06 547.72,282.19 548.55,271.00 549.37,267.64 550.19,286.99 551.01,282.19 551.83,282.09 552.66,279.05 553.48,280.41 554.30,279.22 554.30,341.09 553.48,339.94 552.66,347.81 551.83,344.01 551.01,339.94 550.19,329.67 549.37,337.59 548.55,342.05 547.72,334.05 546.90,345.01 546.08,333.43 545.26,342.61 544.44,325.94 543.61,328.92 542.79,325.91 541.97,325.38 541.15,329.25 540.33,310.98 539.50,322.68 538.68,311.68 537.86,310.21 537.04,307.11 536.22,319.44 535.39,311.05 534.57,299.38 533.75,311.38 532.93,312.90 532.10,308.49 531.28,305.80 530.46,304.13 529.64,303.77 528.82,296.94 527.99,289.94 527.17,290.70 526.35,286.91 525.53,298.20 524.71,291.06 523.88,289.21 523.06,288.28 522.24,295.38 521.42,290.69 520.60,287.50 519.77,287.25 518.95,288.27 518.13,280.51 517.31,277.69 516.49,285.32 515.66,281.62 514.84,286.48 514.02,281.97 513.20,284.32 512.38,284.03 511.55,287.28 510.73,280.43 509.91,283.07 509.09,291.64 508.27,292.09 507.44,293.78 506.62,294.80 505.80,298.13 504.98,299.07 504.16,301.95 503.33,292.15 502.51,293.53 501.69,293.83 500.87,303.90 500.05,300.58 499.22,301.82 498.40,309.42 497.58,310.95 496.76,310.83 495.94,310.52 495.11,316.37 494.29,315.82 493.47,318.53 492.65,320.62 491.82,328.88 491.00,328.21 490.18,323.79 489.36,330.72 488.54,323.48 487.71,328.13 486.89,326.18 486.07,326.14 485.25,326.24 484.43,326.12 483.60,322.42 482.78,322.82 481.96,322.61 481.14,320.36 480.32,325.80 479.49,319.95 478.67,322.70 477.85,320.82 477.03,319.63 476.21,321.13 475.38,318.81 474.56,320.50 473.74,320.49 472.92,320.98 472.10,318.38 471.27,323.68 470.45,317.97 469.63,319.48 468.81,319.31 467.99,322.14 467.16,319.78 466.34,319.04 465.52,320.68 464.70,317.62 463.88,322.64 463.05,318.81 462.23,317.57 461.41,317.44 460.59,322.23 459.77,317.54 458.94,319.97 458.12,318.56 457.30,319.88 456.48,319.87 455.66,316.07 454.83,318.69 454.01,318.94 453.19,316.32 452.37,317.17 451.54,319.69 450.72,318.79 449.90,319.91 449.08,321.58 448.26,322.07" fill="#fcd6bd" fill-opacity="0.85" stroke="none"/>
<rect x="481.2" y="226.4" width="36.6" height="127.9" fill="none" stroke="#dd4aae" stroke-width="0.8" stroke-dasharray="2,1.2"/>
<rect x="488.5" y="246.1" width="18.3" height="108.2" fill="none" stroke="#52b4e6" stroke-width="0.8" stroke-dasharray="2,1.2"/>
<line x1="444.6" y1="312.5" x2="554.3" y2="312.5" stroke="#333" stroke-width="0.8" stroke-dasharray="0.9,1.4"/>
<path d="M448.26,315.74 L449.08,314.01 L449.90,314.32 L450.72,310.87 L451.54,311.76 L452.37,310.61 L453.19,308.95 L454.01,310.93 L454.83,309.19 L455.66,309.87 L456.48,311.04 L457.30,311.20 L458.12,311.60 L458.94,312.88 L459.77,310.17 L460.59,311.56 L461.41,309.10 L462.23,308.61 L463.05,311.95 L463.88,312.49 L464.70,312.02 L465.52,310.73 L466.34,313.46 L467.16,312.16 L467.99,312.64 L468.81,310.79 L469.63,309.45 L470.45,309.75 L471.27,312.59 L472.10,311.13 L472.92,312.26 L473.74,311.02 L474.56,312.42 L475.38,311.09 L476.21,310.50 L477.03,311.20 L477.85,311.51 L478.67,311.68 L479.49,312.80 L480.32,315.03 L481.14,312.21 L481.96,313.75 L482.78,316.55 L483.60,315.85 L484.43,316.02 L485.25,317.31 L486.07,314.65 L486.89,317.87 L487.71,314.84 L488.54,315.07 L489.36,316.38 L490.18,315.61 L491.00,314.59 L491.82,315.25 L492.65,310.47 L493.47,307.88 L494.29,304.01 L495.11,301.87 L495.94,299.78 L496.76,296.58 L497.58,294.42 L498.40,293.52 L499.22,292.20 L500.05,290.35 L500.87,287.01 L501.69,284.03 L502.51,282.69 L503.33,281.19 L504.16,283.24 L504.98,281.08 L505.80,280.84 L506.62,277.52 L507.44,275.38 L508.27,273.67 L509.09,270.70 L509.91,271.44 L510.73,268.43 L511.55,267.33 L512.38,267.74 L513.20,263.61 L514.02,265.53 L514.84,264.37 L515.66,264.51 L516.49,264.78 L517.31,263.66 L518.13,265.71 L518.95,265.35 L519.77,268.33 L520.60,268.89 L521.42,271.03 L522.24,269.79 L523.06,270.59 L523.88,269.49 L524.71,272.36 L525.53,271.93 L526.35,269.89 L527.17,274.07 L527.99,273.09 L528.82,273.31 L529.64,273.75 L530.46,275.21 L531.28,276.48 L532.10,275.79 L532.93,279.63 L533.75,279.95 L534.57,281.22 L535.39,282.34 L536.22,284.79 L537.04,288.54 L537.86,287.34 L538.68,290.15 L539.50,289.79 L540.33,289.78 L541.15,291.70 L541.97,295.37 L542.79,296.14 L543.61,300.00 L544.44,303.01 L545.26,304.16 L546.08,304.05 L546.90,304.24 L547.72,305.23 L548.55,306.52 L549.37,305.83 L550.19,307.90 L551.01,307.72 L551.83,310.72 L552.66,311.50 L553.48,308.91 L554.30,311.41" fill="none" stroke="#ef7d22" stroke-width="2.0" stroke-linejoin="round" />
<path d="M448.26,315.31 L449.79,314.52 L451.33,310.17 L452.87,310.69 L454.40,311.64 L455.94,313.97 L457.48,310.63 L459.01,310.32 L460.55,309.27 L462.09,311.72 L463.63,312.78 L465.16,311.29 L466.70,309.41 L468.24,312.64 L469.77,313.81 L471.31,314.58 L472.85,313.81 L474.38,313.13 L475.92,313.31 L477.46,313.54 L478.99,312.45 L480.53,313.49 L482.07,312.04 L483.60,310.71 L485.14,310.08 L486.68,310.81 L488.22,312.77 L489.75,313.72 L491.29,314.04 L492.83,312.34 L494.36,309.68 L495.90,304.92 L497.44,300.62 L498.97,297.52 L500.51,294.01 L502.05,289.73 L503.58,283.65 L505.12,278.31 L506.66,273.98 L508.19,272.21 L509.73,271.25 L511.27,269.38 L512.80,266.16 L514.34,265.12 L515.88,265.22 L517.42,268.89 L518.95,272.09 L520.49,275.19 L522.03,278.71 L523.56,280.75 L525.10,284.06 L526.64,285.84 L528.17,288.39 L529.71,290.11 L531.25,290.97 L532.78,292.19 L534.32,295.73 L535.86,296.24 L537.39,298.35 L538.93,300.72 L540.47,304.17 L542.01,305.39 L543.54,307.83 L545.08,310.29 L546.62,310.07 L548.15,309.94 L549.69,311.27 L551.23,313.50 L552.76,317.09 L554.30,316.05" fill="none" stroke="#6359d0" stroke-width="2.5" stroke-linejoin="round" stroke-dasharray="2,1.7" />
<path d="M444.6,208.1 V354.3 H554.3" fill="none" stroke="#2a2a2a" stroke-width="1.0"/>
<line x1="444.6" y1="354.3" x2="447.1" y2="354.3" stroke="#2a2a2a" stroke-width="1.0"/>
<text x="442.6" y="357.3" font-size="9.0" fill="#2a2a2a" text-anchor="end" >-4</text>
<line x1="444.6" y1="333.4" x2="447.1" y2="333.4" stroke="#2a2a2a" stroke-width="1.0"/>
<text x="442.6" y="336.4" font-size="9.0" fill="#2a2a2a" text-anchor="end" >-2</text>
<line x1="444.6" y1="312.5" x2="447.1" y2="312.5" stroke="#2a2a2a" stroke-width="1.0"/>
<text x="442.6" y="315.5" font-size="9.0" fill="#2a2a2a" text-anchor="end" >0</text>
<line x1="444.6" y1="291.6" x2="447.1" y2="291.6" stroke="#2a2a2a" stroke-width="1.0"/>
<text x="442.6" y="294.6" font-size="9.0" fill="#2a2a2a" text-anchor="end" >2</text>
<line x1="444.6" y1="270.8" x2="447.1" y2="270.8" stroke="#2a2a2a" stroke-width="1.0"/>
<text x="442.6" y="273.8" font-size="9.0" fill="#2a2a2a" text-anchor="end" >4</text>
<line x1="444.6" y1="249.9" x2="447.1" y2="249.9" stroke="#2a2a2a" stroke-width="1.0"/>
<text x="442.6" y="252.9" font-size="9.0" fill="#2a2a2a" text-anchor="end" >6</text>
<line x1="444.6" y1="229.0" x2="447.1" y2="229.0" stroke="#2a2a2a" stroke-width="1.0"/>
<text x="442.6" y="232.0" font-size="9.0" fill="#2a2a2a" text-anchor="end" >8</text>
<line x1="444.6" y1="208.1" x2="447.1" y2="208.1" stroke="#2a2a2a" stroke-width="1.0"/>
<text x="442.6" y="211.1" font-size="9.0" fill="#2a2a2a" text-anchor="end" >10</text>
<line x1="444.6" y1="354.3" x2="444.6" y2="351.8" stroke="#2a2a2a" stroke-width="1.0"/>
<text x="444.6" y="364.1" font-size="9.0" fill="#2a2a2a" text-anchor="middle" >0</text>
<line x1="481.2" y1="354.3" x2="481.2" y2="351.8" stroke="#2a2a2a" stroke-width="1.0"/>
<text x="481.2" y="364.1" font-size="9.0" fill="#2a2a2a" text-anchor="middle" >10</text>
<line x1="517.7" y1="354.3" x2="517.7" y2="351.8" stroke="#2a2a2a" stroke-width="1.0"/>
<text x="517.7" y="364.1" font-size="9.0" fill="#2a2a2a" text-anchor="middle" >20</text>
<line x1="554.3" y1="354.3" x2="554.3" y2="351.8" stroke="#2a2a2a" stroke-width="1.0"/>
<text x="554.3" y="364.1" font-size="9.0" fill="#2a2a2a" text-anchor="middle" >30</text>
<text x="503.7" y="373.0" font-size="10" fill="#1a1a1a" text-anchor="middle" >Time (s)</text>
<text x="434.4" y="282.0" font-size="8.5" fill="#231f20" text-anchor="middle" transform="rotate(-90 434.4 282.0)">Diameter (z score)</text>
<line x1="520.4" y1="227.2" x2="529.6" y2="227.2" stroke="#6359d0" stroke-width="2.4" stroke-dasharray="2,1.6"/>
<text x="531.6" y="229.9" font-size="8.8" fill="#6359d0" text-anchor="start" >Calculated</text>
<line x1="520.4" y1="235.9" x2="529.6" y2="235.9" stroke="#ef7d22" stroke-width="2"/>
<text x="531.6" y="238.6" font-size="8.8" fill="#ef7d22" text-anchor="start" >Experiment</text>
<ellipse cx="483.2" cy="265.7" rx="12" ry="9.3" fill="none" stroke="#e0282e" stroke-width="1"/>
<text x="476.0" y="266.0" font-size="7.9" fill="#222" text-anchor="start" font-weight="bold" >+2s</text>
<line x1="477" y1="270.5" x2="486" y2="270.5" stroke="#222" stroke-width="0.9"/>
<polygon points="489.5,270.5 484.5,268 484.5,273" fill="#222"/>
<rect x="585.4" y="194.8" width="91.1" height="183.2" fill="none" stroke="#1d9a52" stroke-width="1.1"/>
<text x="577.5" y="201.3" font-size="12.2" fill="#231f20" text-anchor="start" >h</text>
<text x="620.2" y="206.4" font-size="9.7" fill="#444" text-anchor="start" font-style="italic" >1<tspan font-size="5.5" dy="-3">st</tspan><tspan dy="3"> phase</tspan></text>
<rect x="611.3" y="294.7" width="22.6" height="53.9" fill="#fff" stroke="#b0b0b0" stroke-width="0.9"/>
<rect x="645.3" y="284.9" width="22.5" height="63.7" fill="#ef7d22" stroke="#9a4a10" stroke-width="0.6"/>
<line x1="622.8" y1="221.4" x2="656.4" y2="229.6" stroke="#111" stroke-width="1.4"/>
<line x1="622.8" y1="287.7" x2="656.4" y2="276.3" stroke="#111" stroke-width="1.4"/>
<line x1="622.8" y1="294.1" x2="656.4" y2="318.6" stroke="#111" stroke-width="1.4"/>
<line x1="622.8" y1="295.9" x2="656.4" y2="297.3" stroke="#111" stroke-width="1.4"/>
<line x1="622.8" y1="298.4" x2="656.4" y2="297.3" stroke="#111" stroke-width="1.4"/>
<line x1="622.8" y1="306.6" x2="656.4" y2="302.6" stroke="#111" stroke-width="1.4"/>
<line x1="622.8" y1="313.4" x2="656.4" y2="267.6" stroke="#111" stroke-width="1.4"/>
<line x1="622.8" y1="315.7" x2="656.4" y2="295.3" stroke="#111" stroke-width="1.4"/>
<line x1="622.8" y1="318.1" x2="656.4" y2="293.0" stroke="#111" stroke-width="1.4"/>
<line x1="622.8" y1="320.6" x2="656.4" y2="297.3" stroke="#111" stroke-width="1.4"/>
<circle cx="622.8" cy="221.4" r="2.8" fill="#111"/>
<circle cx="656.4" cy="229.6" r="2.8" fill="#111"/>
<circle cx="622.8" cy="287.7" r="2.8" fill="#111"/>
<circle cx="656.4" cy="276.3" r="2.8" fill="#111"/>
<circle cx="622.8" cy="294.1" r="2.8" fill="#111"/>
<circle cx="656.4" cy="318.6" r="2.8" fill="#111"/>
<circle cx="622.8" cy="295.9" r="2.8" fill="#111"/>
<circle cx="656.4" cy="297.3" r="2.8" fill="#111"/>
<circle cx="622.8" cy="298.4" r="2.8" fill="#111"/>
<circle cx="656.4" cy="297.3" r="2.8" fill="#111"/>
<circle cx="622.8" cy="306.6" r="2.8" fill="#111"/>
<circle cx="656.4" cy="302.6" r="2.8" fill="#111"/>
<circle cx="622.8" cy="313.4" r="2.8" fill="#111"/>
<circle cx="656.4" cy="267.6" r="2.8" fill="#111"/>
<circle cx="622.8" cy="315.7" r="2.8" fill="#111"/>
<circle cx="656.4" cy="295.3" r="2.8" fill="#111"/>
<circle cx="622.8" cy="318.1" r="2.8" fill="#111"/>
<circle cx="656.4" cy="293.0" r="2.8" fill="#111"/>
<circle cx="622.8" cy="320.6" r="2.8" fill="#111"/>
<circle cx="656.4" cy="297.3" r="2.8" fill="#111"/>
<path d="M606.4,212.1 V348.6 H673" fill="none" stroke="#231f20" stroke-width="0.9"/>
<line x1="606.4" y1="348.6" x2="609" y2="348.6" stroke="#231f20" stroke-width="0.9"/>
<text x="604.0" y="351.8" font-size="9.2" fill="#231f20" text-anchor="end" >0</text>
<line x1="606.4" y1="303.1" x2="609" y2="303.1" stroke="#231f20" stroke-width="0.9"/>
<text x="604.0" y="306.3" font-size="9.2" fill="#231f20" text-anchor="end" >10</text>
<line x1="606.4" y1="257.6" x2="609" y2="257.6" stroke="#231f20" stroke-width="0.9"/>
<text x="604.0" y="260.8" font-size="9.2" fill="#231f20" text-anchor="end" >20</text>
<line x1="606.4" y1="212.1" x2="609" y2="212.1" stroke="#231f20" stroke-width="0.9"/>
<text x="604.0" y="215.3" font-size="9.2" fill="#231f20" text-anchor="end" >30</text>
<text x="595.0" y="282.4" font-size="9.7" fill="#231f20" text-anchor="middle" transform="rotate(-90 595.0 282.4)">AUC</text>
<text x="628" y="355" font-size="8.8" fill="#333" text-anchor="end" transform="rotate(-45 628 355)">Control</text>
<text x="662" y="355" font-size="8.8" fill="#ef7d22" text-anchor="end" transform="rotate(-45 662 355)">pH/CO<tspan font-size="5.5" dy="1.5">2</tspan></text>
<text x="128.2" y="395.7" font-size="12.2" fill="#231f20" text-anchor="start" >i</text>
<rect x="252.3" y="430.8" width="265.2" height="14.5" fill="#8e8e8e"/>
<line x1="176.5" y1="445.3" x2="517.9" y2="445.3" stroke="#333" stroke-width="1.1"/>
<line x1="176.5" y1="443" x2="176.5" y2="445.3" stroke="#333" stroke-width="0.9"/>
<text x="176.5" y="456.2" font-size="8.5" fill="#333" text-anchor="middle" >-4</text>
<line x1="214.4" y1="443" x2="214.4" y2="445.3" stroke="#333" stroke-width="0.9"/>
<text x="214.4" y="456.2" font-size="8.5" fill="#333" text-anchor="middle" >-2</text>
<line x1="252.3" y1="443" x2="252.3" y2="445.3" stroke="#333" stroke-width="0.9"/>
<text x="252.3" y="456.2" font-size="8.5" fill="#333" text-anchor="middle" >0</text>
<line x1="290.2" y1="443" x2="290.2" y2="445.3" stroke="#333" stroke-width="0.9"/>
<text x="290.2" y="456.2" font-size="8.5" fill="#333" text-anchor="middle" >2</text>
<line x1="328.1" y1="443" x2="328.1" y2="445.3" stroke="#333" stroke-width="0.9"/>
<text x="328.1" y="456.2" font-size="8.5" fill="#333" text-anchor="middle" >4</text>
<line x1="365.9" y1="443" x2="365.9" y2="445.3" stroke="#333" stroke-width="0.9"/>
<text x="365.9" y="456.2" font-size="8.5" fill="#333" text-anchor="middle" >6</text>
<line x1="403.8" y1="443" x2="403.8" y2="445.3" stroke="#333" stroke-width="0.9"/>
<text x="403.8" y="456.2" font-size="8.5" fill="#333" text-anchor="middle" >8</text>
<line x1="441.7" y1="443" x2="441.7" y2="445.3" stroke="#333" stroke-width="0.9"/>
<text x="441.7" y="456.2" font-size="8.5" fill="#333" text-anchor="middle" >10</text>
<line x1="479.6" y1="443" x2="479.6" y2="445.3" stroke="#333" stroke-width="0.9"/>
<text x="479.6" y="456.2" font-size="8.5" fill="#333" text-anchor="middle" >12</text>
<line x1="517.5" y1="443" x2="517.5" y2="445.3" stroke="#333" stroke-width="0.9"/>
<text x="517.5" y="456.2" font-size="8.5" fill="#333" text-anchor="middle" >14</text>
<text x="350.0" y="467.8" font-size="10" fill="#333" text-anchor="middle" >Time (min)</text>
<text x="345.5" y="441.0" font-size="10.5" fill="#f0f0f0" text-anchor="start" >10% CO<tspan font-size="6.2" dy="1.5">2</tspan><tspan dy="-1.5"> 14 min</tspan></text>
<text x="176.7" y="406.7" font-size="10.8" fill="#2b2b2b" text-anchor="middle" >WS</text>
<line x1="176.5" y1="409.1" x2="176.5" y2="424" stroke="#222" stroke-width="1"/>
<polygon points="173.2,423.3 179.8,423.3 176.5,429.4" fill="#222"/>
<text x="214.6" y="406.7" font-size="10.8" fill="#2b2b2b" text-anchor="middle" >WS</text>
<line x1="214.4" y1="409.1" x2="214.4" y2="424" stroke="#222" stroke-width="1"/>
<polygon points="211.1,423.3 217.7,423.3 214.4,429.4" fill="#222"/>
<text x="328.3" y="406.7" font-size="10.8" fill="#2b2b2b" text-anchor="middle" >WS</text>
<line x1="328.1" y1="409.1" x2="328.1" y2="424" stroke="#ef7d22" stroke-width="1"/>
<polygon points="324.8,423.3 331.4,423.3 328.1,429.4" fill="#ef7d22"/>
<text x="366.1" y="406.7" font-size="10.8" fill="#2b2b2b" text-anchor="middle" >WS</text>
<line x1="365.9" y1="409.1" x2="365.9" y2="424" stroke="#ef7d22" stroke-width="1"/>
<polygon points="362.6,423.3 369.2,423.3 365.9,429.4" fill="#ef7d22"/>
<text x="404.0" y="406.7" font-size="10.8" fill="#2b2b2b" text-anchor="middle" >WS</text>
<line x1="403.8" y1="409.1" x2="403.8" y2="424" stroke="#ef7d22" stroke-width="1"/>
<polygon points="400.5,423.3 407.1,423.3 403.8,429.4" fill="#ef7d22"/>
<text x="441.9" y="406.7" font-size="10.8" fill="#2b2b2b" text-anchor="middle" >WS</text>
<line x1="441.7" y1="409.1" x2="441.7" y2="424" stroke="#ef7d22" stroke-width="1"/>
<polygon points="438.4,423.3 445.0,423.3 441.7,429.4" fill="#ef7d22"/>
<text x="479.8" y="406.7" font-size="10.8" fill="#2b2b2b" text-anchor="middle" >WS</text>
<line x1="479.6" y1="409.1" x2="479.6" y2="424" stroke="#ef7d22" stroke-width="1"/>
<polygon points="476.3,423.3 482.9,423.3 479.6,429.4" fill="#ef7d22"/>
<text x="517.7" y="406.7" font-size="10.8" fill="#2b2b2b" text-anchor="middle" >WS</text>
<line x1="517.5" y1="409.1" x2="517.5" y2="424" stroke="#ef7d22" stroke-width="1"/>
<polygon points="514.2,423.3 520.8,423.3 517.5,429.4" fill="#ef7d22"/>
<text x="2.0" y="509.5" font-size="12.2" fill="#231f20" text-anchor="start" >j</text>
<line x1="35.0" y1="596.7" x2="35.0" y2="567.6" stroke="#aaa" stroke-width="0.8"/>
<line x1="33.7" y1="596.7" x2="36.3" y2="596.7" stroke="#aaa" stroke-width="0.8"/>
<line x1="33.7" y1="567.6" x2="36.3" y2="567.6" stroke="#aaa" stroke-width="0.8"/>
<line x1="54.4" y1="579.3" x2="54.4" y2="545.6" stroke="#555" stroke-width="0.8"/>
<line x1="53.1" y1="579.3" x2="55.7" y2="579.3" stroke="#555" stroke-width="0.8"/>
<line x1="53.1" y1="545.6" x2="55.7" y2="545.6" stroke="#555" stroke-width="0.8"/>
<line x1="67.4" y1="583.3" x2="67.4" y2="542.7" stroke="#555" stroke-width="0.8"/>
<line x1="66.1" y1="583.3" x2="68.7" y2="583.3" stroke="#555" stroke-width="0.8"/>
<line x1="66.1" y1="542.7" x2="68.7" y2="542.7" stroke="#555" stroke-width="0.8"/>
<line x1="80.3" y1="583.3" x2="80.3" y2="561.3" stroke="#555" stroke-width="0.8"/>
<line x1="79.0" y1="583.3" x2="81.6" y2="583.3" stroke="#555" stroke-width="0.8"/>
<line x1="79.0" y1="561.3" x2="81.6" y2="561.3" stroke="#555" stroke-width="0.8"/>
<line x1="93.3" y1="582.2" x2="93.3" y2="558.4" stroke="#555" stroke-width="0.8"/>
<line x1="92.0" y1="582.2" x2="94.6" y2="582.2" stroke="#555" stroke-width="0.8"/>
<line x1="92.0" y1="558.4" x2="94.6" y2="558.4" stroke="#555" stroke-width="0.8"/>
<line x1="106.2" y1="582.2" x2="106.2" y2="554.9" stroke="#555" stroke-width="0.8"/>
<line x1="104.9" y1="582.2" x2="107.5" y2="582.2" stroke="#555" stroke-width="0.8"/>
<line x1="104.9" y1="554.9" x2="107.5" y2="554.9" stroke="#555" stroke-width="0.8"/>
<line x1="119.2" y1="583.3" x2="119.2" y2="554.3" stroke="#555" stroke-width="0.8"/>
<line x1="117.9" y1="583.3" x2="120.5" y2="583.3" stroke="#555" stroke-width="0.8"/>
<line x1="117.9" y1="554.3" x2="120.5" y2="554.3" stroke="#555" stroke-width="0.8"/>
<path d="M28.5,590.9 L35.0,581.6 L54.4,562.4 L67.4,563.0 L80.3,572.3 L93.3,570.0 L106.2,568.8 L119.2,568.8" fill="none" stroke="#111" stroke-width="1.1"/>
<circle cx="28.5" cy="590.9" r="2.2" fill="#111"/>
<circle cx="35.0" cy="581.6" r="2.2" fill="#111"/>
<circle cx="54.4" cy="562.4" r="2.2" fill="#111"/>
<circle cx="67.4" cy="563.0" r="2.2" fill="#111"/>
<circle cx="80.3" cy="572.3" r="2.2" fill="#111"/>
<circle cx="93.3" cy="570.0" r="2.2" fill="#111"/>
<circle cx="106.2" cy="568.8" r="2.2" fill="#111"/>
<circle cx="119.2" cy="568.8" r="2.2" fill="#111"/>
<path d="M23.3,532.8 V602.5 H119.7" fill="none" stroke="#231f20" stroke-width="0.9"/>
<line x1="23.3" y1="602.5" x2="25.8" y2="602.5" stroke="#231f20" stroke-width="0.8"/>
<text x="22.4" y="605.4" font-size="8.1" fill="#231f20" text-anchor="end" >-20</text>
<line x1="23.3" y1="590.9" x2="25.8" y2="590.9" stroke="#231f20" stroke-width="0.8"/>
<text x="22.4" y="593.8" font-size="8.1" fill="#231f20" text-anchor="end" >0</text>
<line x1="23.3" y1="579.3" x2="25.8" y2="579.3" stroke="#231f20" stroke-width="0.8"/>
<text x="22.4" y="582.2" font-size="8.1" fill="#231f20" text-anchor="end" >20</text>
<line x1="23.3" y1="567.6" x2="25.8" y2="567.6" stroke="#231f20" stroke-width="0.8"/>
<text x="22.4" y="570.5" font-size="8.1" fill="#231f20" text-anchor="end" >40</text>
<line x1="23.3" y1="556.0" x2="25.8" y2="556.0" stroke="#231f20" stroke-width="0.8"/>
<text x="22.4" y="558.9" font-size="8.1" fill="#231f20" text-anchor="end" >60</text>
<line x1="23.3" y1="544.4" x2="25.8" y2="544.4" stroke="#231f20" stroke-width="0.8"/>
<text x="22.4" y="547.3" font-size="8.1" fill="#231f20" text-anchor="end" >80</text>
<line x1="23.3" y1="532.8" x2="25.8" y2="532.8" stroke="#231f20" stroke-width="0.8"/>
<text x="22.4" y="535.7" font-size="8.1" fill="#231f20" text-anchor="end" >100</text>
<line x1="28.5" y1="602.5" x2="28.5" y2="600.2" stroke="#231f20" stroke-width="0.8"/>
<text x="28.5" y="612.0" font-size="8.1" fill="#231f20" text-anchor="middle" >0</text>
<line x1="41.5" y1="602.5" x2="41.5" y2="600.2" stroke="#231f20" stroke-width="0.8"/>
<text x="41.5" y="612.0" font-size="8.1" fill="#231f20" text-anchor="middle" >2</text>
<line x1="54.4" y1="602.5" x2="54.4" y2="600.2" stroke="#231f20" stroke-width="0.8"/>
<text x="54.4" y="612.0" font-size="8.1" fill="#231f20" text-anchor="middle" >4</text>
<line x1="67.4" y1="602.5" x2="67.4" y2="600.2" stroke="#231f20" stroke-width="0.8"/>
<text x="67.4" y="612.0" font-size="8.1" fill="#231f20" text-anchor="middle" >6</text>
<line x1="80.3" y1="602.5" x2="80.3" y2="600.2" stroke="#231f20" stroke-width="0.8"/>
<text x="80.3" y="612.0" font-size="8.1" fill="#231f20" text-anchor="middle" >8</text>
<line x1="93.3" y1="602.5" x2="93.3" y2="600.2" stroke="#231f20" stroke-width="0.8"/>
<text x="93.3" y="612.0" font-size="8.1" fill="#231f20" text-anchor="middle" >10</text>
<line x1="106.2" y1="602.5" x2="106.2" y2="600.2" stroke="#231f20" stroke-width="0.8"/>
<text x="106.2" y="612.0" font-size="8.1" fill="#231f20" text-anchor="middle" >12</text>
<line x1="119.2" y1="602.5" x2="119.2" y2="600.2" stroke="#231f20" stroke-width="0.8"/>
<text x="119.2" y="612.0" font-size="8.1" fill="#231f20" text-anchor="middle" >14</text>
<text x="33.8" y="622.2" font-size="8.9" fill="#231f20" text-anchor="start" >Minutes under CO<tspan font-size="5" dy="1.5">2</tspan></text>
<text x="7.8" y="566.3" font-size="8.7" fill="#231f20" text-anchor="middle" transform="rotate(-90 7.8 566.3)">% change in velocity</text>
<text x="2.0" y="690.4" font-size="12.2" fill="#231f20" text-anchor="start" >o</text>
<line x1="54.4" y1="763.9" x2="54.4" y2="742.6" stroke="#555" stroke-width="0.8"/>
<line x1="53.1" y1="763.9" x2="55.7" y2="763.9" stroke="#555" stroke-width="0.8"/>
<line x1="53.1" y1="742.6" x2="55.7" y2="742.6" stroke="#555" stroke-width="0.8"/>
<line x1="67.4" y1="762.4" x2="67.4" y2="730.7" stroke="#555" stroke-width="0.8"/>
<line x1="66.1" y1="762.4" x2="68.7" y2="762.4" stroke="#555" stroke-width="0.8"/>
<line x1="66.1" y1="730.7" x2="68.7" y2="730.7" stroke="#555" stroke-width="0.8"/>
<line x1="80.3" y1="758.7" x2="80.3" y2="730.7" stroke="#555" stroke-width="0.8"/>
<line x1="79.0" y1="758.7" x2="81.6" y2="758.7" stroke="#555" stroke-width="0.8"/>
<line x1="79.0" y1="730.7" x2="81.6" y2="730.7" stroke="#555" stroke-width="0.8"/>
<line x1="93.3" y1="758.2" x2="93.3" y2="729.6" stroke="#555" stroke-width="0.8"/>
<line x1="92.0" y1="758.2" x2="94.6" y2="758.2" stroke="#555" stroke-width="0.8"/>
<line x1="92.0" y1="729.6" x2="94.6" y2="729.6" stroke="#555" stroke-width="0.8"/>
<line x1="106.2" y1="758.2" x2="106.2" y2="727.0" stroke="#555" stroke-width="0.8"/>
<line x1="104.9" y1="758.2" x2="107.5" y2="758.2" stroke="#555" stroke-width="0.8"/>
<line x1="104.9" y1="727.0" x2="107.5" y2="727.0" stroke="#555" stroke-width="0.8"/>
<line x1="119.2" y1="759.8" x2="119.2" y2="721.9" stroke="#555" stroke-width="0.8"/>
<line x1="117.9" y1="759.8" x2="120.5" y2="759.8" stroke="#555" stroke-width="0.8"/>
<line x1="117.9" y1="721.9" x2="120.5" y2="721.9" stroke="#555" stroke-width="0.8"/>
<path d="M28.5,777.4 L54.4,753.5 L67.4,746.3 L80.3,744.2 L93.3,743.7 L106.2,742.6 L119.2,741.1" fill="none" stroke="#111" stroke-width="1.1"/>
<circle cx="28.5" cy="777.4" r="2.2" fill="#111"/>
<circle cx="54.4" cy="753.5" r="2.2" fill="#111"/>
<circle cx="67.4" cy="746.3" r="2.2" fill="#111"/>
<circle cx="80.3" cy="744.2" r="2.2" fill="#111"/>
<circle cx="93.3" cy="743.7" r="2.2" fill="#111"/>
<circle cx="106.2" cy="742.6" r="2.2" fill="#111"/>
<circle cx="119.2" cy="741.1" r="2.2" fill="#111"/>
<path d="M23.3,715.1 V787.8 H119.7" fill="none" stroke="#231f20" stroke-width="0.9"/>
<line x1="23.3" y1="787.8" x2="25.8" y2="787.8" stroke="#231f20" stroke-width="0.8"/>
<text x="22.4" y="790.7" font-size="8.1" fill="#231f20" text-anchor="end" >-20</text>
<line x1="23.3" y1="777.4" x2="25.8" y2="777.4" stroke="#231f20" stroke-width="0.8"/>
<text x="22.4" y="780.3" font-size="8.1" fill="#231f20" text-anchor="end" >0</text>
<line x1="23.3" y1="767.0" x2="25.8" y2="767.0" stroke="#231f20" stroke-width="0.8"/>
<text x="22.4" y="769.9" font-size="8.1" fill="#231f20" text-anchor="end" >20</text>
<line x1="23.3" y1="756.6" x2="25.8" y2="756.6" stroke="#231f20" stroke-width="0.8"/>
<text x="22.4" y="759.5" font-size="8.1" fill="#231f20" text-anchor="end" >40</text>
<line x1="23.3" y1="746.3" x2="25.8" y2="746.3" stroke="#231f20" stroke-width="0.8"/>
<text x="22.4" y="749.2" font-size="8.1" fill="#231f20" text-anchor="end" >60</text>
<line x1="23.3" y1="735.9" x2="25.8" y2="735.9" stroke="#231f20" stroke-width="0.8"/>
<text x="22.4" y="738.8" font-size="8.1" fill="#231f20" text-anchor="end" >80</text>
<line x1="23.3" y1="725.5" x2="25.8" y2="725.5" stroke="#231f20" stroke-width="0.8"/>
<text x="22.4" y="728.4" font-size="8.1" fill="#231f20" text-anchor="end" >100</text>
<line x1="23.3" y1="715.1" x2="25.8" y2="715.1" stroke="#231f20" stroke-width="0.8"/>
<text x="22.4" y="718.0" font-size="8.1" fill="#231f20" text-anchor="end" >120</text>
<line x1="28.5" y1="787.8" x2="28.5" y2="785.5" stroke="#231f20" stroke-width="0.8"/>
<text x="28.5" y="797.1" font-size="8.1" fill="#231f20" text-anchor="middle" >0</text>
<line x1="41.5" y1="787.8" x2="41.5" y2="785.5" stroke="#231f20" stroke-width="0.8"/>
<text x="41.5" y="797.1" font-size="8.1" fill="#231f20" text-anchor="middle" >2</text>
<line x1="54.4" y1="787.8" x2="54.4" y2="785.5" stroke="#231f20" stroke-width="0.8"/>
<text x="54.4" y="797.1" font-size="8.1" fill="#231f20" text-anchor="middle" >4</text>
<line x1="67.4" y1="787.8" x2="67.4" y2="785.5" stroke="#231f20" stroke-width="0.8"/>
<text x="67.4" y="797.1" font-size="8.1" fill="#231f20" text-anchor="middle" >6</text>
<line x1="80.3" y1="787.8" x2="80.3" y2="785.5" stroke="#231f20" stroke-width="0.8"/>
<text x="80.3" y="797.1" font-size="8.1" fill="#231f20" text-anchor="middle" >8</text>
<line x1="93.3" y1="787.8" x2="93.3" y2="785.5" stroke="#231f20" stroke-width="0.8"/>
<text x="93.3" y="797.1" font-size="8.1" fill="#231f20" text-anchor="middle" >10</text>
<line x1="106.2" y1="787.8" x2="106.2" y2="785.5" stroke="#231f20" stroke-width="0.8"/>
<text x="106.2" y="797.1" font-size="8.1" fill="#231f20" text-anchor="middle" >12</text>
<line x1="119.2" y1="787.8" x2="119.2" y2="785.5" stroke="#231f20" stroke-width="0.8"/>
<text x="119.2" y="797.1" font-size="8.1" fill="#231f20" text-anchor="middle" >14</text>
<text x="33.8" y="807.6" font-size="8.9" fill="#231f20" text-anchor="start" >Minutes under CO<tspan font-size="5" dy="1.5">2</tspan></text>
<text x="7.8" y="752.1" font-size="8.85" fill="#231f20" text-anchor="middle" transform="rotate(-90 7.8 752.1)">% change in blood flow</text>
<text x="128.5" y="507.4" font-size="12.2" fill="#231f20" text-anchor="start" >k</text>
<text x="177.5" y="507.4" font-size="11.7" fill="#9d9d9d" text-anchor="start" font-style="italic" >Neuronal response</text>
<rect x="201.4" y="523.0" width="26.1" height="99.7" fill="#d3d3d3"/>
<text x="214.7" y="521.2" font-size="11.2" fill="#1a1a1a" text-anchor="middle" >WS</text>
<polygon points="154.51,592.05 155.18,592.40 155.85,591.85 156.52,592.05 157.19,592.05 157.86,592.84 158.54,592.50 159.21,593.12 159.88,592.37 160.55,592.30 161.22,592.68 161.89,591.92 162.56,592.18 163.23,592.22 163.90,592.00 164.57,592.23 165.24,592.60 165.91,592.31 166.59,593.04 167.26,592.43 167.93,593.50 168.60,592.61 169.27,593.16 169.94,593.37 170.61,593.76 171.28,592.76 171.95,593.15 172.62,593.25 173.29,592.92 173.97,593.40 174.64,593.02 175.31,592.84 175.98,593.13 176.65,593.40 177.32,593.35 177.99,592.93 178.66,593.01 179.33,593.43 180.00,593.81 180.67,594.11 181.35,593.70 182.02,593.82 182.69,594.26 183.36,592.90 184.03,593.06 184.70,594.07 185.37,592.93 186.04,593.41 186.71,592.98 187.38,592.89 188.05,592.86 188.72,593.26 189.40,592.88 190.07,592.91 190.74,592.12 191.41,592.12 192.08,592.01 192.75,592.73 193.42,592.59 194.09,592.59 194.76,591.87 195.43,593.31 196.10,592.60 196.78,592.33 197.45,592.80 198.12,592.59 198.79,592.87 199.46,592.13 200.13,592.27 200.80,592.03 201.47,592.54 202.14,590.93 202.81,591.61 203.48,585.75 204.15,576.19 204.83,569.95 205.50,568.46 206.17,562.31 206.84,562.18 207.51,561.24 208.18,556.71 208.85,556.44 209.52,558.03 210.19,559.17 210.86,552.09 211.53,556.70 212.21,556.60 212.88,553.50 213.55,550.37 214.22,548.48 214.89,547.82 215.56,552.44 216.23,547.32 216.90,546.77 217.57,543.91 218.24,544.60 218.91,547.16 219.59,545.27 220.26,548.66 220.93,548.79 221.60,545.76 222.27,546.32 222.94,548.38 223.61,553.07 224.28,547.99 224.95,553.41 225.62,553.83 226.29,552.21 226.96,549.78 227.64,550.99 228.31,552.53 228.98,557.75 229.65,554.78 230.32,554.74 230.99,557.58 231.66,562.70 232.33,563.17 233.00,566.83 233.67,570.12 234.34,572.22 235.02,575.43 235.69,578.71 236.36,583.18 237.03,585.30 237.70,588.72 238.37,590.34 239.04,591.17 239.71,592.88 240.38,594.40 241.05,593.58 241.72,593.89 242.39,594.81 243.07,595.32 243.74,595.81 244.41,596.17 245.08,597.63 245.75,597.30 246.42,597.47 247.09,598.48 247.76,598.31 248.43,598.41 249.10,598.35 249.77,598.31 250.45,598.36 251.12,598.94 251.79,598.45 252.46,598.74 253.13,599.92 253.80,598.73 254.47,600.15 255.14,598.95 255.81,599.98 256.48,600.80 257.15,600.89 257.83,599.58 258.50,599.93 259.17,600.24 259.84,600.38 260.51,599.49 261.18,601.02 261.85,600.30 262.52,600.06 263.19,599.59 263.86,599.12 264.53,600.17 265.20,598.53 265.88,599.18 266.55,598.83 267.22,598.20 267.89,598.17 268.56,597.76 269.23,599.11 269.90,598.85 270.57,598.50 271.24,597.40 271.91,598.93 272.58,598.14 273.26,599.06 273.93,598.46 274.60,598.62 275.27,597.80 275.94,598.67 276.61,599.39 277.28,599.13 277.95,598.57 278.62,598.45 279.29,598.30 279.96,597.45 280.63,597.85 281.31,598.05 281.98,597.90 282.65,596.93 283.32,596.97 283.99,597.62 284.66,598.20 285.33,597.55 286.00,597.67 286.67,598.00 287.34,597.85 288.01,598.57 288.69,598.58 289.36,598.03 290.03,597.43 290.70,597.98 291.37,597.78 292.04,597.64 292.71,596.17 293.38,597.13 294.05,597.18 294.72,596.20 295.39,596.93 296.06,596.39 296.74,596.98 297.41,595.77 298.08,595.66 298.75,596.20 299.42,597.27 300.09,596.69 300.76,596.63 301.43,595.39 301.43,602.29 300.76,603.52 300.09,603.43 299.42,603.00 298.75,603.02 298.08,602.27 297.41,602.59 296.74,602.84 296.06,603.94 295.39,603.21 294.72,603.18 294.05,603.09 293.38,603.37 292.71,604.11 292.04,604.07 291.37,604.37 290.70,603.79 290.03,604.07 289.36,604.45 288.69,604.71 288.01,605.17 287.34,604.86 286.67,604.34 286.00,603.96 285.33,604.23 284.66,605.45 283.99,603.52 283.32,604.26 282.65,604.58 281.98,604.15 281.31,604.69 280.63,604.83 279.96,604.70 279.29,605.53 278.62,604.56 277.95,605.89 277.28,606.26 276.61,605.75 275.94,606.30 275.27,604.30 274.60,606.18 273.93,604.58 273.26,605.38 272.58,604.40 271.91,604.78 271.24,605.46 270.57,605.25 269.90,605.69 269.23,604.94 268.56,605.52 267.89,604.88 267.22,605.12 266.55,606.29 265.88,604.77 265.20,606.24 264.53,606.10 263.86,606.54 263.19,606.13 262.52,607.64 261.85,607.23 261.18,606.90 260.51,607.41 259.84,606.73 259.17,606.52 258.50,606.19 257.83,606.62 257.15,606.46 256.48,606.22 255.81,606.00 255.14,606.71 254.47,606.93 253.80,605.43 253.13,606.42 252.46,605.99 251.79,605.50 251.12,604.75 250.45,604.85 249.77,605.57 249.10,604.69 248.43,604.84 247.76,604.69 247.09,604.17 246.42,604.20 245.75,603.57 245.08,604.53 244.41,603.76 243.74,602.84 243.07,601.86 242.39,601.75 241.72,601.16 241.05,602.26 240.38,600.99 239.71,600.14 239.04,599.36 238.37,596.99 237.70,596.41 237.03,595.73 236.36,593.89 235.69,589.81 235.02,590.26 234.34,587.70 233.67,585.81 233.00,580.84 232.33,583.37 231.66,578.67 230.99,578.82 230.32,576.87 229.65,582.41 228.98,579.31 228.31,578.33 227.64,580.38 226.96,579.26 226.29,581.33 225.62,579.77 224.95,583.04 224.28,579.61 223.61,581.88 222.94,580.73 222.27,578.84 221.60,583.81 220.93,583.52 220.26,580.93 219.59,577.53 218.91,582.61 218.24,584.33 217.57,585.09 216.90,584.25 216.23,582.51 215.56,581.03 214.89,585.16 214.22,583.49 213.55,585.51 212.88,581.69 212.21,585.82 211.53,583.69 210.86,584.60 210.19,586.58 209.52,584.76 208.85,586.18 208.18,585.25 207.51,585.99 206.84,588.23 206.17,589.84 205.50,587.26 204.83,589.60 204.15,596.26 203.48,597.53 202.81,601.08 202.14,599.86 201.47,597.17 200.80,596.79 200.13,596.65 199.46,596.98 198.79,597.33 198.12,596.75 197.45,596.69 196.78,596.31 196.10,596.88 195.43,597.29 194.76,596.96 194.09,596.72 193.42,597.76 192.75,596.53 192.08,596.47 191.41,597.11 190.74,596.54 190.07,597.41 189.40,597.63 188.72,597.61 188.05,597.09 187.38,597.58 186.71,598.02 186.04,597.98 185.37,597.93 184.70,598.10 184.03,597.87 183.36,597.38 182.69,598.24 182.02,598.55 181.35,598.68 180.67,598.30 180.00,598.12 179.33,597.63 178.66,597.13 177.99,598.24 177.32,597.51 176.65,597.64 175.98,597.20 175.31,596.98 174.64,597.27 173.97,597.26 173.29,597.97 172.62,597.30 171.95,597.18 171.28,598.13 170.61,598.13 169.94,597.82 169.27,597.54 168.60,596.94 167.93,597.55 167.26,597.26 166.59,597.24 165.91,596.90 165.24,596.81 164.57,596.27 163.90,596.58 163.23,596.29 162.56,596.85 161.89,596.39 161.22,596.62 160.55,596.81 159.88,596.71 159.21,597.13 158.54,596.80 157.86,596.56 157.19,596.95 156.52,596.56 155.85,596.48 155.18,596.11 154.51,596.47" fill="#9a9a9a" fill-opacity="0.58" stroke="none"/>
<polygon points="154.51,592.51 155.18,592.76 155.85,592.09 156.52,591.95 157.19,592.43 157.86,592.19 158.54,591.96 159.21,592.27 159.88,592.33 160.55,592.64 161.22,591.81 161.89,592.50 162.56,592.99 163.23,592.75 163.90,593.31 164.57,593.16 165.24,593.57 165.91,593.56 166.59,593.78 167.26,593.26 167.93,593.12 168.60,593.02 169.27,592.69 169.94,593.30 170.61,592.52 171.28,592.68 171.95,593.22 172.62,593.22 173.29,593.22 173.97,593.25 174.64,593.61 175.31,593.20 175.98,593.34 176.65,593.13 177.32,593.00 177.99,593.42 178.66,592.98 179.33,592.60 180.00,593.03 180.67,593.08 181.35,593.62 182.02,593.48 182.69,592.71 183.36,592.92 184.03,593.65 184.70,593.37 185.37,594.20 186.04,594.08 186.71,593.83 187.38,593.80 188.05,593.88 188.72,593.76 189.40,593.16 190.07,593.36 190.74,592.98 191.41,593.32 192.08,593.19 192.75,593.55 193.42,592.44 194.09,593.47 194.76,593.03 195.43,593.18 196.10,593.09 196.78,592.65 197.45,592.55 198.12,592.69 198.79,593.08 199.46,592.63 200.13,593.13 200.80,592.65 201.47,592.20 202.14,590.09 202.81,589.28 203.48,581.79 204.15,573.83 204.83,561.63 205.50,561.73 206.17,555.53 206.84,547.25 207.51,548.55 208.18,544.59 208.85,538.73 209.52,542.10 210.19,539.50 210.86,537.96 211.53,534.95 212.21,530.15 212.88,534.47 213.55,533.70 214.22,526.99 214.89,533.87 215.56,532.90 216.23,523.85 216.90,526.49 217.57,529.78 218.24,526.70 218.91,531.91 219.59,538.95 220.26,536.33 220.93,535.93 221.60,533.42 222.27,540.98 222.94,545.06 223.61,542.49 224.28,543.43 224.95,550.15 225.62,547.47 226.29,551.73 226.96,552.75 227.64,553.76 228.31,552.41 228.98,551.80 229.65,553.14 230.32,555.51 230.99,560.26 231.66,563.54 232.33,565.89 233.00,566.85 233.67,571.41 234.34,573.84 235.02,576.42 235.69,579.17 236.36,582.39 237.03,584.04 237.70,587.94 238.37,589.33 239.04,591.43 239.71,592.54 240.38,593.95 241.05,594.37 241.72,594.63 242.39,595.44 243.07,595.25 243.74,595.60 244.41,597.14 245.08,596.18 245.75,597.33 246.42,597.23 247.09,597.95 247.76,598.30 248.43,597.52 249.10,599.16 249.77,598.63 250.45,598.16 251.12,599.10 251.79,599.01 252.46,598.63 253.13,599.77 253.80,599.60 254.47,599.25 255.14,599.39 255.81,599.57 256.48,599.32 257.15,600.37 257.83,599.27 258.50,600.38 259.17,600.26 259.84,599.44 260.51,599.72 261.18,598.80 261.85,599.49 262.52,598.62 263.19,599.12 263.86,599.19 264.53,599.30 265.20,598.12 265.88,598.84 266.55,598.92 267.22,598.15 267.89,598.31 268.56,597.62 269.23,598.06 269.90,597.61 270.57,598.58 271.24,598.37 271.91,598.34 272.58,598.50 273.26,598.85 273.93,598.96 274.60,597.66 275.27,598.30 275.94,598.33 276.61,598.17 277.28,597.47 277.95,597.61 278.62,598.77 279.29,598.44 279.96,597.62 280.63,598.03 281.31,598.08 281.98,597.93 282.65,598.15 283.32,598.12 283.99,597.97 284.66,597.62 285.33,597.66 286.00,597.85 286.67,597.33 287.34,598.01 288.01,596.89 288.69,596.53 289.36,596.88 290.03,597.11 290.70,596.71 291.37,596.44 292.04,596.59 292.71,597.19 293.38,597.76 294.05,597.19 294.72,596.76 295.39,597.18 296.06,596.79 296.74,597.08 297.41,596.17 298.08,596.44 298.75,597.23 299.42,597.21 300.09,596.28 300.76,595.74 301.43,596.46 301.43,600.80 300.76,602.12 300.09,602.06 299.42,602.11 298.75,602.63 298.08,601.76 297.41,601.21 296.74,602.88 296.06,602.25 295.39,602.78 294.72,602.69 294.05,602.91 293.38,602.48 292.71,602.66 292.04,602.84 291.37,602.20 290.70,602.80 290.03,603.14 289.36,603.00 288.69,602.75 288.01,602.72 287.34,603.51 286.67,603.97 286.00,602.81 285.33,603.14 284.66,603.34 283.99,602.85 283.32,602.65 282.65,603.89 281.98,603.24 281.31,604.22 280.63,603.99 279.96,603.24 279.29,603.40 278.62,603.87 277.95,603.89 277.28,603.80 276.61,604.02 275.94,603.23 275.27,604.25 274.60,603.85 273.93,604.20 273.26,603.60 272.58,603.37 271.91,604.39 271.24,604.26 270.57,604.47 269.90,604.09 269.23,604.41 268.56,603.27 267.89,604.75 267.22,604.37 266.55,604.15 265.88,603.73 265.20,604.79 264.53,604.49 263.86,604.64 263.19,604.91 262.52,604.25 261.85,604.34 261.18,604.47 260.51,604.89 259.84,604.84 259.17,605.89 258.50,604.92 257.83,604.55 257.15,605.12 256.48,604.35 255.81,604.63 255.14,604.93 254.47,605.69 253.80,604.42 253.13,605.31 252.46,603.93 251.79,605.33 251.12,604.24 250.45,604.60 249.77,604.26 249.10,604.29 248.43,604.07 247.76,604.00 247.09,603.78 246.42,603.19 245.75,602.18 245.08,603.40 244.41,601.78 243.74,602.53 243.07,602.36 242.39,601.40 241.72,600.39 241.05,600.77 240.38,599.80 239.71,599.74 239.04,598.58 238.37,597.02 237.70,593.99 237.03,592.01 236.36,590.19 235.69,588.45 235.02,588.00 234.34,584.75 233.67,583.26 233.00,580.61 232.33,578.41 231.66,579.36 230.99,575.65 230.32,575.02 229.65,572.40 228.98,575.79 228.31,574.02 227.64,572.68 226.96,573.95 226.29,577.21 225.62,574.17 224.95,573.88 224.28,580.88 223.61,574.32 222.94,578.11 222.27,582.27 221.60,580.56 220.93,577.81 220.26,580.47 219.59,576.65 218.91,577.90 218.24,579.63 217.57,585.48 216.90,586.75 216.23,583.15 215.56,585.06 214.89,575.36 214.22,575.92 213.55,581.11 212.88,576.79 212.21,582.69 211.53,583.06 210.86,582.59 210.19,578.63 209.52,583.64 208.85,579.79 208.18,581.59 207.51,580.73 206.84,582.03 206.17,588.52 205.50,589.30 204.83,588.04 204.15,589.58 203.48,595.33 202.81,600.83 202.14,598.59 201.47,596.24 200.80,596.28 200.13,596.94 199.46,596.55 198.79,597.02 198.12,596.62 197.45,596.68 196.78,596.79 196.10,596.73 195.43,596.67 194.76,596.93 194.09,597.21 193.42,596.68 192.75,596.77 192.08,596.98 191.41,596.75 190.74,596.32 190.07,597.03 189.40,596.92 188.72,596.94 188.05,596.86 187.38,597.22 186.71,597.27 186.04,597.34 185.37,597.87 184.70,597.35 184.03,597.20 183.36,596.86 182.69,597.48 182.02,597.04 181.35,597.32 180.67,596.68 180.00,597.47 179.33,597.13 178.66,596.52 177.99,596.91 177.32,596.92 176.65,597.43 175.98,597.51 175.31,597.35 174.64,597.14 173.97,597.37 173.29,596.64 172.62,596.91 171.95,596.72 171.28,596.85 170.61,596.37 169.94,597.01 169.27,596.43 168.60,597.50 167.93,597.20 167.26,597.49 166.59,597.07 165.91,597.44 165.24,597.13 164.57,596.69 163.90,597.39 163.23,596.97 162.56,597.11 161.89,596.36 161.22,595.83 160.55,596.23 159.88,596.71 159.21,596.10 158.54,596.69 157.86,596.19 157.19,596.60 156.52,596.53 155.85,595.88 155.18,596.66 154.51,595.58" fill="#f5b486" fill-opacity="0.55" stroke="none"/>
<path d="M154.51,594.03 L155.18,594.42 L155.85,594.04 L156.52,594.38 L157.19,594.34 L157.86,594.06 L158.54,594.31 L159.21,594.29 L159.88,594.54 L160.55,594.25 L161.22,594.24 L161.89,594.85 L162.56,595.16 L163.23,595.14 L163.90,595.20 L164.57,595.16 L165.24,595.42 L165.91,595.26 L166.59,595.43 L167.26,595.40 L167.93,595.42 L168.60,595.09 L169.27,594.93 L169.94,594.79 L170.61,594.61 L171.28,595.00 L171.95,595.15 L172.62,595.17 L173.29,594.93 L173.97,595.30 L174.64,595.47 L175.31,595.49 L175.98,595.25 L176.65,595.38 L177.32,595.43 L177.99,595.05 L178.66,594.98 L179.33,594.91 L180.00,595.19 L180.67,595.12 L181.35,595.34 L182.02,595.34 L182.69,595.11 L183.36,595.08 L184.03,595.27 L184.70,595.72 L185.37,595.83 L186.04,595.64 L186.71,595.78 L187.38,595.69 L188.05,595.36 L188.72,595.40 L189.40,595.22 L190.07,595.14 L190.74,594.73 L191.41,594.79 L192.08,595.08 L192.75,595.22 L193.42,594.87 L194.09,595.10 L194.76,594.82 L195.43,595.01 L196.10,594.88 L196.78,594.96 L197.45,594.79 L198.12,595.06 L198.79,594.97 L199.46,594.79 L200.13,594.98 L200.80,594.58 L201.47,594.49 L202.14,594.71 L202.81,594.96 L203.48,589.26 L204.15,582.08 L204.83,576.36 L205.50,573.19 L206.17,570.07 L206.84,566.80 L207.51,565.00 L208.18,563.70 L208.85,562.06 L209.52,560.49 L210.19,559.20 L210.86,558.74 L211.53,557.70 L212.21,557.37 L212.88,556.54 L213.55,555.55 L214.22,554.94 L214.89,554.47 L215.56,554.66 L216.23,554.41 L216.90,554.80 L217.57,554.87 L218.24,554.95 L218.91,555.87 L219.59,556.87 L220.26,557.25 L220.93,557.97 L221.60,558.81 L222.27,559.94 L222.94,560.49 L223.61,560.54 L224.28,561.10 L224.95,561.70 L225.62,561.73 L226.29,562.37 L226.96,562.73 L227.64,563.33 L228.31,563.34 L228.98,563.73 L229.65,564.45 L230.32,566.30 L230.99,568.20 L231.66,569.95 L232.33,571.70 L233.00,574.19 L233.67,576.43 L234.34,578.88 L235.02,581.88 L235.69,584.31 L236.36,586.22 L237.03,588.60 L237.70,591.02 L238.37,592.98 L239.04,594.67 L239.71,595.70 L240.38,596.36 L241.05,597.09 L241.72,597.81 L242.39,598.50 L243.07,599.01 L243.74,599.21 L244.41,599.40 L245.08,599.73 L245.75,599.93 L246.42,600.15 L247.09,600.37 L247.76,600.63 L248.43,600.79 L249.10,601.36 L249.77,601.56 L250.45,601.42 L251.12,601.63 L251.79,601.91 L252.46,601.83 L253.13,602.19 L253.80,602.02 L254.47,602.28 L255.14,602.03 L255.81,602.38 L256.48,602.13 L257.15,602.51 L257.83,602.38 L258.50,602.80 L259.17,602.60 L259.84,602.51 L260.51,602.07 L261.18,601.93 L261.85,601.88 L262.52,602.04 L263.19,601.74 L263.86,601.72 L264.53,601.80 L265.20,601.43 L265.88,601.39 L266.55,601.07 L267.22,601.05 L267.89,601.51 L268.56,601.07 L269.23,601.17 L269.90,600.88 L270.57,601.20 L271.24,601.17 L271.91,600.99 L272.58,601.19 L273.26,601.13 L273.93,601.13 L274.60,601.10 L275.27,600.94 L275.94,600.90 L276.61,600.62 L277.28,600.91 L277.95,600.97 L278.62,600.94 L279.29,601.08 L279.96,600.89 L280.63,600.80 L281.31,600.91 L281.98,600.65 L282.65,600.81 L283.32,600.40 L283.99,600.16 L284.66,600.27 L285.33,600.53 L286.00,600.61 L286.67,600.67 L287.34,600.58 L288.01,600.12 L288.69,600.01 L289.36,599.89 L290.03,600.14 L290.70,600.07 L291.37,599.92 L292.04,599.89 L292.71,599.86 L293.38,600.21 L294.05,599.69 L294.72,599.77 L295.39,599.92 L296.06,599.81 L296.74,599.41 L297.41,599.09 L298.08,599.44 L298.75,599.34 L299.42,599.31 L300.09,598.83 L300.76,598.69 L301.43,598.66" fill="none" stroke="#ef7d22" stroke-width="1.5" stroke-linejoin="round" />
<path d="M154.51,594.30 L155.18,594.33 L155.85,594.23 L156.52,594.56 L157.19,594.71 L157.86,594.57 L158.54,594.71 L159.21,594.88 L159.88,594.92 L160.55,594.89 L161.22,594.94 L161.89,594.61 L162.56,594.30 L163.23,594.28 L163.90,594.26 L164.57,594.39 L165.24,594.45 L165.91,594.85 L166.59,594.75 L167.26,595.14 L167.93,595.42 L168.60,595.22 L169.27,595.71 L169.94,595.61 L170.61,595.70 L171.28,595.51 L171.95,595.43 L172.62,595.59 L173.29,595.20 L173.97,595.27 L174.64,595.10 L175.31,595.12 L175.98,595.34 L176.65,595.32 L177.32,595.63 L177.99,595.59 L178.66,595.39 L179.33,595.34 L180.00,595.78 L180.67,596.18 L181.35,596.04 L182.02,596.13 L182.69,596.01 L183.36,595.67 L184.03,595.52 L184.70,595.79 L185.37,595.54 L186.04,595.45 L186.71,595.39 L187.38,595.49 L188.05,595.31 L188.72,595.38 L189.40,594.99 L190.07,594.85 L190.74,594.77 L191.41,594.87 L192.08,594.57 L192.75,594.85 L193.42,595.03 L194.09,594.98 L194.76,594.63 L195.43,595.00 L196.10,594.73 L196.78,594.54 L197.45,594.54 L198.12,594.78 L198.79,594.86 L199.46,594.62 L200.13,594.65 L200.80,594.60 L201.47,595.05 L202.14,595.61 L202.81,596.20 L203.48,592.04 L204.15,586.23 L204.83,579.94 L205.50,577.16 L206.17,575.95 L206.84,574.60 L207.51,573.41 L208.18,572.12 L208.85,571.11 L209.52,570.55 L210.19,570.25 L210.86,569.41 L211.53,568.83 L212.21,568.60 L212.88,568.19 L213.55,567.12 L214.22,566.48 L214.89,565.55 L215.56,565.23 L216.23,564.63 L216.90,564.42 L217.57,563.95 L218.24,563.55 L218.91,563.34 L219.59,563.31 L220.26,563.74 L220.93,563.96 L221.60,564.27 L222.27,564.70 L222.94,565.30 L223.61,565.67 L224.28,565.92 L224.95,565.95 L225.62,566.26 L226.29,566.17 L226.96,566.78 L227.64,567.20 L228.31,567.20 L228.98,567.40 L229.65,568.00 L230.32,568.19 L230.99,569.45 L231.66,571.22 L232.33,573.21 L233.00,575.16 L233.67,577.38 L234.34,579.83 L235.02,582.72 L235.69,585.57 L236.36,588.38 L237.03,590.66 L237.70,592.56 L238.37,593.77 L239.04,594.75 L239.71,596.09 L240.38,597.53 L241.05,597.90 L241.72,598.14 L242.39,598.98 L243.07,599.05 L243.74,599.71 L244.41,600.39 L245.08,600.65 L245.75,600.84 L246.42,601.09 L247.09,601.41 L247.76,601.29 L248.43,601.77 L249.10,601.66 L249.77,601.92 L250.45,601.95 L251.12,602.12 L251.79,602.41 L252.46,602.65 L253.13,602.44 L253.80,602.70 L254.47,602.99 L255.14,602.98 L255.81,602.97 L256.48,603.45 L257.15,603.40 L257.83,603.63 L258.50,603.37 L259.17,603.79 L259.84,603.47 L260.51,603.60 L261.18,603.71 L261.85,603.56 L262.52,603.50 L263.19,603.23 L263.86,603.17 L264.53,602.89 L265.20,602.50 L265.88,602.23 L266.55,602.18 L267.22,601.97 L267.89,601.75 L268.56,601.64 L269.23,602.04 L269.90,601.80 L270.57,601.89 L271.24,601.46 L271.91,601.46 L272.58,601.63 L273.26,601.63 L273.93,601.74 L274.60,602.01 L275.27,601.71 L275.94,602.20 L276.61,602.41 L277.28,602.25 L277.95,602.17 L278.62,601.90 L279.29,601.57 L279.96,601.51 L280.63,601.03 L281.31,601.18 L281.98,600.75 L282.65,600.65 L283.32,600.96 L283.99,600.94 L284.66,601.44 L285.33,601.10 L286.00,601.36 L286.67,601.55 L287.34,601.30 L288.01,601.39 L288.69,601.51 L289.36,601.48 L290.03,600.89 L290.70,601.00 L291.37,600.65 L292.04,600.78 L292.71,600.29 L293.38,600.03 L294.05,600.30 L294.72,600.08 L295.39,599.91 L296.06,600.25 L296.74,600.16 L297.41,599.78 L298.08,599.66 L298.75,599.83 L299.42,599.86 L300.09,600.16 L300.76,599.74 L301.43,599.55" fill="none" stroke="#1a1a1a" stroke-width="1.5" stroke-linejoin="round" />
<path d="M149.3,511.3 V622.7 H305.6" fill="none" stroke="#2a2a2a" stroke-width="1.0"/>
<line x1="149.3" y1="622.7" x2="151.8" y2="622.7" stroke="#2a2a2a" stroke-width="1.0"/>
<text x="147.0" y="625.7" font-size="8.9" fill="#2a2a2a" text-anchor="end" >-5</text>
<line x1="149.3" y1="594.9" x2="151.8" y2="594.9" stroke="#2a2a2a" stroke-width="1.0"/>
<text x="147.0" y="597.9" font-size="8.9" fill="#2a2a2a" text-anchor="end" >0</text>
<line x1="149.3" y1="567.0" x2="151.8" y2="567.0" stroke="#2a2a2a" stroke-width="1.0"/>
<text x="147.0" y="570.0" font-size="8.9" fill="#2a2a2a" text-anchor="end" >5</text>
<line x1="149.3" y1="539.1" x2="151.8" y2="539.1" stroke="#2a2a2a" stroke-width="1.0"/>
<text x="147.0" y="542.1" font-size="8.9" fill="#2a2a2a" text-anchor="end" >10</text>
<line x1="149.3" y1="511.3" x2="151.8" y2="511.3" stroke="#2a2a2a" stroke-width="1.0"/>
<text x="147.0" y="514.3" font-size="8.9" fill="#2a2a2a" text-anchor="end" >15</text>
<line x1="149.3" y1="622.7" x2="149.3" y2="620.2" stroke="#2a2a2a" stroke-width="1.0"/>
<text x="149.3" y="635.9" font-size="8.9" fill="#2a2a2a" text-anchor="middle" >0</text>
<line x1="175.4" y1="622.7" x2="175.4" y2="620.2" stroke="#2a2a2a" stroke-width="1.0"/>
<text x="175.4" y="635.9" font-size="8.9" fill="#2a2a2a" text-anchor="middle" >5</text>
<line x1="201.4" y1="622.7" x2="201.4" y2="620.2" stroke="#2a2a2a" stroke-width="1.0"/>
<text x="201.4" y="635.9" font-size="8.9" fill="#2a2a2a" text-anchor="middle" >10</text>
<line x1="227.5" y1="622.7" x2="227.5" y2="620.2" stroke="#2a2a2a" stroke-width="1.0"/>
<text x="227.5" y="635.9" font-size="8.9" fill="#2a2a2a" text-anchor="middle" >15</text>
<line x1="253.5" y1="622.7" x2="253.5" y2="620.2" stroke="#2a2a2a" stroke-width="1.0"/>
<text x="253.5" y="635.9" font-size="8.9" fill="#2a2a2a" text-anchor="middle" >20</text>
<line x1="279.6" y1="622.7" x2="279.6" y2="620.2" stroke="#2a2a2a" stroke-width="1.0"/>
<text x="279.6" y="635.9" font-size="8.9" fill="#2a2a2a" text-anchor="middle" >25</text>
<line x1="305.6" y1="622.7" x2="305.6" y2="620.2" stroke="#2a2a2a" stroke-width="1.0"/>
<text x="305.6" y="635.9" font-size="8.9" fill="#2a2a2a" text-anchor="middle" >30</text>
<text x="228.5" y="645.9" font-size="10" fill="#1a1a1a" text-anchor="middle" >Time (s)</text>
<text x="136.3" y="570.0" font-size="8.9" fill="#231f20" text-anchor="middle" transform="rotate(-90 136.3 570.0)">Fluorescence (z score)</text>
<text x="256.0" y="529.4" font-size="8.9" fill="#1a1a1a" text-anchor="start" >Before CO<tspan font-size="5.5" dy="1.5">2</tspan></text>
<text x="256.0" y="539.9" font-size="8.9" fill="#ef7d22" text-anchor="start" >During CO<tspan font-size="5.5" dy="1.5">2</tspan></text>
<text x="401.8" y="506.7" font-size="12.2" fill="#231f20" text-anchor="start" >m</text>
<text x="458.0" y="506.7" font-size="11.7" fill="#9d9d9d" text-anchor="start" font-style="italic" >Vascular response</text>
<rect x="481.4" y="523.0" width="26.1" height="99.7" fill="#d3d3d3"/>
<text x="494.7" y="521.2" font-size="11.2" fill="#1a1a1a" text-anchor="middle" >WS</text>
<polygon points="434.51,568.62 435.18,567.72 435.85,570.41 436.52,568.10 437.19,567.97 437.86,571.22 438.54,569.59 439.21,570.05 439.88,571.50 440.55,573.81 441.22,574.71 441.89,570.45 442.56,572.18 443.23,570.88 443.90,572.14 444.57,572.71 445.24,573.57 445.91,573.39 446.59,574.57 447.26,573.10 447.93,572.90 448.60,571.87 449.27,571.81 449.94,572.19 450.61,570.88 451.28,571.62 451.95,570.73 452.62,572.80 453.29,574.15 453.97,571.86 454.64,571.73 455.31,572.91 455.98,574.75 456.65,572.21 457.32,572.67 457.99,571.45 458.66,572.91 459.33,572.73 460.00,570.98 460.67,572.56 461.35,571.08 462.02,572.80 462.69,569.84 463.36,572.92 464.03,571.72 464.70,569.98 465.37,571.25 466.04,572.58 466.71,568.91 467.38,571.01 468.05,572.58 468.72,570.90 469.40,571.16 470.07,571.11 470.74,571.55 471.41,569.71 472.08,572.06 472.75,569.85 473.42,573.03 474.09,572.42 474.76,570.74 475.43,572.12 476.10,572.57 476.78,570.30 477.45,572.70 478.12,570.95 478.79,573.04 479.46,571.91 480.13,573.52 480.80,569.74 481.47,572.20 482.14,573.49 482.81,571.74 483.48,573.65 484.15,568.88 484.83,568.47 485.50,566.75 486.17,564.31 486.84,561.12 487.51,559.06 488.18,559.83 488.85,554.97 489.52,554.61 490.19,551.65 490.86,549.31 491.53,545.35 492.21,547.73 492.88,545.39 493.55,542.59 494.22,544.52 494.89,544.01 495.56,539.85 496.23,537.69 496.90,533.79 497.57,534.44 498.24,536.33 498.91,537.20 499.59,527.78 500.26,530.18 500.93,532.22 501.60,527.51 502.27,530.12 502.94,522.32 503.61,525.88 504.28,521.56 504.95,526.10 505.62,529.27 506.29,519.97 506.96,521.79 507.64,528.21 508.31,526.86 508.98,522.66 509.65,515.09 510.32,517.79 510.99,524.84 511.66,514.33 512.33,522.03 513.00,515.50 513.67,522.04 514.34,526.20 515.02,514.56 515.69,517.68 516.36,521.92 517.03,523.20 517.70,525.68 518.37,520.68 519.04,530.05 519.71,525.77 520.38,532.53 521.05,534.17 521.72,529.64 522.39,528.34 523.07,540.31 523.74,533.84 524.41,538.29 525.08,547.54 525.75,545.44 526.42,544.67 527.09,547.30 527.76,554.66 528.43,547.88 529.10,556.15 529.77,555.04 530.45,550.93 531.12,554.93 531.79,556.12 532.46,564.28 533.13,557.72 533.80,568.69 534.47,561.87 535.14,560.78 535.81,566.05 536.48,570.37 537.15,562.95 537.83,568.54 538.50,567.11 539.17,569.73 539.84,566.95 540.51,565.83 541.18,567.08 541.85,568.46 542.52,568.53 543.19,559.89 543.86,562.88 544.53,560.76 545.20,564.97 545.88,561.41 546.55,564.19 547.22,568.89 547.89,566.55 548.56,568.33 549.23,566.54 549.90,562.76 550.57,565.64 551.24,563.35 551.91,560.99 552.58,563.55 553.26,559.35 553.93,560.29 554.60,559.55 555.27,561.14 555.94,566.82 556.61,566.55 557.28,568.77 557.95,568.01 558.62,566.24 559.29,567.88 559.96,570.77 560.63,569.61 561.31,564.44 561.98,565.85 562.65,565.43 563.32,567.53 563.99,566.46 564.66,571.97 565.33,572.74 566.00,570.76 566.67,572.79 567.34,570.97 568.01,570.49 568.69,568.45 569.36,573.13 570.03,565.86 570.70,570.61 571.37,571.36 572.04,569.58 572.71,569.01 573.38,568.20 574.05,570.11 574.72,567.44 575.39,571.19 576.06,568.18 576.74,565.40 577.41,564.57 578.08,565.36 578.75,565.92 579.42,569.92 580.09,569.91 580.76,570.83 581.43,571.72 581.43,593.54 580.76,597.28 580.09,593.59 579.42,592.37 578.75,593.85 578.08,597.82 577.41,595.27 576.74,597.97 576.06,598.07 575.39,593.14 574.72,591.44 574.05,599.73 573.38,596.19 572.71,595.64 572.04,595.27 571.37,596.90 570.70,600.24 570.03,597.59 569.36,598.75 568.69,597.98 568.01,596.00 567.34,598.63 566.67,594.99 566.00,597.53 565.33,593.27 564.66,598.40 563.99,595.09 563.32,598.96 562.65,591.84 561.98,594.88 561.31,597.17 560.63,596.04 559.96,592.98 559.29,595.60 558.62,591.17 557.95,593.03 557.28,596.98 556.61,594.68 555.94,595.53 555.27,595.67 554.60,594.65 553.93,591.67 553.26,592.48 552.58,591.06 551.91,589.74 551.24,595.76 550.57,593.68 549.90,595.30 549.23,595.84 548.56,591.60 547.89,598.26 547.22,595.13 546.55,594.92 545.88,601.15 545.20,594.56 544.53,596.80 543.86,601.23 543.19,597.22 542.52,601.68 541.85,601.78 541.18,595.19 540.51,604.52 539.84,599.71 539.17,605.01 538.50,604.98 537.83,600.64 537.15,597.77 536.48,602.75 535.81,600.11 535.14,606.49 534.47,596.79 533.80,596.42 533.13,598.42 532.46,599.45 531.79,591.27 531.12,594.80 530.45,591.13 529.77,589.38 529.10,590.95 528.43,586.40 527.76,587.99 527.09,587.02 526.42,591.86 525.75,584.25 525.08,582.97 524.41,586.02 523.74,578.48 523.07,571.22 522.39,573.59 521.72,577.36 521.05,567.38 520.38,574.23 519.71,572.56 519.04,563.00 518.37,561.83 517.70,569.11 517.03,565.60 516.36,559.26 515.69,570.45 515.02,566.66 514.34,564.08 513.67,558.35 513.00,564.87 512.33,565.13 511.66,560.63 510.99,565.44 510.32,559.51 509.65,567.80 508.98,565.77 508.31,564.22 507.64,564.15 506.96,568.82 506.29,566.91 505.62,567.21 504.95,562.57 504.28,568.55 503.61,571.70 502.94,565.91 502.27,565.62 501.60,566.58 500.93,563.09 500.26,561.98 499.59,562.90 498.91,569.18 498.24,568.16 497.57,562.00 496.90,567.31 496.23,569.35 495.56,571.76 494.89,567.20 494.22,567.57 493.55,569.06 492.88,573.41 492.21,568.85 491.53,572.90 490.86,574.34 490.19,573.90 489.52,576.31 488.85,579.84 488.18,576.79 487.51,577.75 486.84,580.01 486.17,587.21 485.50,586.97 484.83,588.66 484.15,589.77 483.48,588.37 482.81,588.58 482.14,583.71 481.47,586.12 480.80,583.44 480.13,584.18 479.46,586.20 478.79,583.15 478.12,583.92 477.45,585.44 476.78,583.90 476.10,584.09 475.43,582.67 474.76,586.35 474.09,583.41 473.42,584.17 472.75,583.14 472.08,585.34 471.41,584.84 470.74,584.25 470.07,586.02 469.40,585.58 468.72,585.47 468.05,583.13 467.38,584.05 466.71,585.93 466.04,583.90 465.37,584.87 464.70,586.03 464.03,586.24 463.36,583.17 462.69,584.59 462.02,582.90 461.35,586.91 460.67,585.48 460.00,585.66 459.33,587.14 458.66,585.75 457.99,584.46 457.32,587.24 456.65,586.08 455.98,588.04 455.31,585.31 454.64,587.80 453.97,586.44 453.29,586.60 452.62,586.75 451.95,584.68 451.28,586.17 450.61,583.07 449.94,585.91 449.27,585.57 448.60,587.20 447.93,584.32 447.26,587.63 446.59,586.81 445.91,587.77 445.24,586.35 444.57,584.45 443.90,584.77 443.23,584.47 442.56,584.41 441.89,586.18 441.22,586.03 440.55,587.47 439.88,585.39 439.21,583.93 438.54,583.11 437.86,584.68 437.19,583.97 436.52,584.41 435.85,582.42 435.18,584.48 434.51,582.80" fill="#9a9a9a" fill-opacity="0.58" stroke="none"/>
<polygon points="434.51,571.73 435.18,569.61 435.85,568.70 436.52,571.21 437.19,570.84 437.86,572.97 438.54,570.86 439.21,571.44 439.88,572.67 440.55,571.23 441.22,572.70 441.89,571.54 442.56,570.91 443.23,572.45 443.90,572.83 444.57,573.40 445.24,572.82 445.91,573.23 446.59,571.27 447.26,574.35 447.93,574.04 448.60,574.72 449.27,572.70 449.94,572.98 450.61,574.57 451.28,575.68 451.95,575.17 452.62,573.98 453.29,573.07 453.97,575.43 454.64,577.02 455.31,573.97 455.98,573.50 456.65,573.38 457.32,575.18 457.99,572.82 458.66,573.56 459.33,576.00 460.00,573.57 460.67,575.30 461.35,574.61 462.02,573.54 462.69,573.91 463.36,572.04 464.03,574.73 464.70,573.14 465.37,571.97 466.04,573.15 466.71,570.64 467.38,573.57 468.05,573.54 468.72,571.14 469.40,571.38 470.07,571.84 470.74,573.70 471.41,572.17 472.08,572.22 472.75,573.21 473.42,573.78 474.09,571.98 474.76,572.50 475.43,571.66 476.10,573.40 476.78,573.18 477.45,573.47 478.12,574.38 478.79,575.00 479.46,573.61 480.13,574.21 480.80,573.63 481.47,571.93 482.14,571.27 482.81,571.48 483.48,571.38 484.15,570.34 484.83,568.37 485.50,572.55 486.17,567.98 486.84,571.07 487.51,567.30 488.18,563.97 488.85,561.11 489.52,560.58 490.19,557.39 490.86,559.43 491.53,551.95 492.21,552.21 492.88,547.74 493.55,546.28 494.22,549.58 494.89,546.59 495.56,546.20 496.23,548.24 496.90,542.18 497.57,541.61 498.24,540.27 498.91,538.57 499.59,542.31 500.26,534.43 500.93,539.85 501.60,540.47 502.27,537.70 502.94,532.35 503.61,532.78 504.28,534.45 504.95,530.76 505.62,537.65 506.29,529.31 506.96,537.75 507.64,530.60 508.31,527.87 508.98,529.50 509.65,532.59 510.32,527.81 510.99,523.85 511.66,522.91 512.33,529.88 513.00,528.67 513.67,526.52 514.34,528.66 515.02,529.93 515.69,526.22 516.36,535.10 517.03,535.62 517.70,528.27 518.37,530.90 519.04,535.58 519.71,539.64 520.38,531.33 521.05,533.32 521.72,540.53 522.39,542.82 523.07,543.03 523.74,538.70 524.41,545.42 525.08,550.44 525.75,543.18 526.42,549.08 527.09,550.70 527.76,547.40 528.43,551.70 529.10,550.17 529.77,551.85 530.45,551.36 531.12,552.69 531.79,554.10 532.46,554.22 533.13,553.45 533.80,555.31 534.47,561.20 535.14,559.44 535.81,558.87 536.48,558.79 537.15,561.05 537.83,564.64 538.50,564.12 539.17,567.06 539.84,561.28 540.51,564.76 541.18,563.81 541.85,566.28 542.52,564.33 543.19,567.90 543.86,564.39 544.53,566.81 545.20,568.51 545.88,569.24 546.55,569.63 547.22,568.46 547.89,566.31 548.56,564.17 549.23,564.39 549.90,568.92 550.57,568.79 551.24,568.44 551.91,566.47 552.58,563.81 553.26,566.73 553.93,565.95 554.60,568.85 555.27,563.93 555.94,565.78 556.61,564.51 557.28,564.99 557.95,568.97 558.62,566.61 559.29,569.69 559.96,564.68 560.63,565.68 561.31,568.42 561.98,566.66 562.65,567.33 563.32,570.31 563.99,565.03 564.66,565.10 565.33,565.43 566.00,565.11 566.67,565.36 567.34,570.44 568.01,564.86 568.69,567.73 569.36,564.92 570.03,566.27 570.70,565.08 571.37,569.75 572.04,568.38 572.71,568.63 573.38,563.84 574.05,563.29 574.72,563.58 575.39,563.46 576.06,568.37 576.74,566.39 577.41,565.26 578.08,563.73 578.75,566.90 579.42,565.31 580.09,567.08 580.76,564.95 581.43,565.63 581.43,585.16 580.76,582.22 580.09,586.61 579.42,582.74 578.75,583.79 578.08,587.78 577.41,587.57 576.74,586.97 576.06,587.76 575.39,585.40 574.72,585.35 574.05,585.92 573.38,583.99 572.71,585.45 572.04,583.90 571.37,586.63 570.70,590.04 570.03,589.10 569.36,589.05 568.69,585.51 568.01,591.06 567.34,590.46 566.67,588.29 566.00,585.67 565.33,588.60 564.66,585.32 563.99,590.78 563.32,591.11 562.65,591.36 561.98,589.28 561.31,585.95 560.63,590.72 559.96,590.82 559.29,589.62 558.62,588.09 557.95,591.33 557.28,587.20 556.61,589.99 555.94,590.99 555.27,588.04 554.60,589.68 553.93,588.15 553.26,591.95 552.58,590.25 551.91,591.50 551.24,589.97 550.57,586.65 549.90,590.35 549.23,592.26 548.56,592.99 547.89,592.50 547.22,590.28 546.55,588.92 545.88,587.75 545.20,587.10 544.53,588.97 543.86,588.74 543.19,592.13 542.52,591.56 541.85,587.59 541.18,586.30 540.51,588.41 539.84,587.40 539.17,587.35 538.50,587.34 537.83,585.15 537.15,589.76 536.48,585.91 535.81,587.36 535.14,583.71 534.47,585.19 533.80,583.21 533.13,588.05 532.46,580.49 531.79,582.92 531.12,584.48 530.45,584.31 529.77,583.16 529.10,584.42 528.43,583.19 527.76,581.06 527.09,584.10 526.42,582.87 525.75,574.93 525.08,579.24 524.41,572.50 523.74,576.06 523.07,575.37 522.39,571.01 521.72,577.53 521.05,573.75 520.38,566.32 519.71,571.97 519.04,566.38 518.37,567.07 517.70,563.04 517.03,563.72 516.36,569.53 515.69,567.97 515.02,562.74 514.34,569.44 513.67,568.77 513.00,570.21 512.33,563.95 511.66,563.72 510.99,567.50 510.32,560.50 509.65,568.12 508.98,565.34 508.31,571.34 507.64,572.10 506.96,571.90 506.29,570.43 505.62,573.69 504.95,566.38 504.28,572.43 503.61,569.49 502.94,567.92 502.27,574.76 501.60,565.06 500.93,568.64 500.26,570.58 499.59,569.34 498.91,569.68 498.24,568.10 497.57,567.51 496.90,572.68 496.23,572.56 495.56,569.72 494.89,575.63 494.22,575.81 493.55,574.01 492.88,574.54 492.21,574.68 491.53,577.63 490.86,580.35 490.19,577.30 489.52,583.82 488.85,583.39 488.18,585.61 487.51,585.10 486.84,587.38 486.17,583.03 485.50,588.37 484.83,586.34 484.15,586.45 483.48,586.86 482.81,585.80 482.14,583.98 481.47,585.44 480.80,583.49 480.13,584.41 479.46,582.46 478.79,584.81 478.12,584.87 477.45,583.24 476.78,584.97 476.10,582.34 475.43,585.62 474.76,584.42 474.09,583.68 473.42,584.25 472.75,582.82 472.08,585.36 471.41,583.33 470.74,582.62 470.07,584.09 469.40,584.41 468.72,583.27 468.05,584.63 467.38,584.62 466.71,584.46 466.04,583.64 465.37,584.80 464.70,585.14 464.03,586.66 463.36,584.66 462.69,586.86 462.02,584.92 461.35,584.74 460.67,584.68 460.00,584.47 459.33,587.37 458.66,586.54 457.99,584.90 457.32,586.99 456.65,584.98 455.98,585.25 455.31,585.24 454.64,585.92 453.97,586.24 453.29,584.24 452.62,583.77 451.95,584.39 451.28,586.61 450.61,584.57 449.94,586.28 449.27,584.14 448.60,584.74 447.93,585.37 447.26,586.10 446.59,585.42 445.91,584.19 445.24,582.79 444.57,585.71 443.90,584.98 443.23,583.45 442.56,583.84 441.89,582.89 441.22,581.59 440.55,582.64 439.88,583.46 439.21,580.75 438.54,583.55 437.86,581.26 437.19,581.51 436.52,580.61 435.85,581.34 435.18,581.06 434.51,583.28" fill="#f5b486" fill-opacity="0.55" stroke="none"/>
<path d="M434.51,576.78 L435.18,576.32 L435.85,575.66 L436.52,576.57 L437.19,576.63 L437.86,577.01 L438.54,576.66 L439.21,576.74 L439.88,577.00 L440.55,576.59 L441.22,576.99 L441.89,577.77 L442.56,578.04 L443.23,577.83 L443.90,577.78 L444.57,578.59 L445.24,578.03 L445.91,578.52 L446.59,578.26 L447.26,579.34 L447.93,579.41 L448.60,580.00 L449.27,579.66 L449.94,579.91 L450.61,579.94 L451.28,580.24 L451.95,579.45 L452.62,579.65 L453.29,580.26 L453.97,580.31 L454.64,580.91 L455.31,580.01 L455.98,579.63 L456.65,579.93 L457.32,580.57 L457.99,579.42 L458.66,580.12 L459.33,580.48 L460.00,579.93 L460.67,579.72 L461.35,578.83 L462.02,579.55 L462.69,579.80 L463.36,579.19 L464.03,579.52 L464.70,578.56 L465.37,578.44 L466.04,577.76 L466.71,577.49 L467.38,578.50 L468.05,577.94 L468.72,578.22 L469.40,577.61 L470.07,578.77 L470.74,578.54 L471.41,577.65 L472.08,578.82 L472.75,578.79 L473.42,578.77 L474.09,578.68 L474.76,577.68 L475.43,578.62 L476.10,577.92 L476.78,578.62 L477.45,577.92 L478.12,578.87 L478.79,579.26 L479.46,578.04 L480.13,579.22 L480.80,578.63 L481.47,579.16 L482.14,578.77 L482.81,579.10 L483.48,578.75 L484.15,578.49 L484.83,577.87 L485.50,578.34 L486.17,577.07 L486.84,577.29 L487.51,576.49 L488.18,574.54 L488.85,572.67 L489.52,571.22 L490.19,569.58 L490.86,568.36 L491.53,565.61 L492.21,563.97 L492.88,561.95 L493.55,560.56 L494.22,559.83 L494.89,559.52 L495.56,558.43 L496.23,557.86 L496.90,556.81 L497.57,554.88 L498.24,553.87 L498.91,554.08 L499.59,553.68 L500.26,553.67 L500.93,552.97 L501.60,552.68 L502.27,553.27 L502.94,553.81 L503.61,553.74 L504.28,553.08 L504.95,553.13 L505.62,553.28 L506.29,551.45 L506.96,550.47 L507.64,549.99 L508.31,549.68 L508.98,548.45 L509.65,547.10 L510.32,546.87 L510.99,546.80 L511.66,547.17 L512.33,547.46 L513.00,546.80 L513.67,546.61 L514.34,546.83 L515.02,547.55 L515.69,547.87 L516.36,549.13 L517.03,548.85 L517.70,549.75 L518.37,551.09 L519.04,552.16 L519.71,552.78 L520.38,553.35 L521.05,553.63 L521.72,555.78 L522.39,556.27 L523.07,558.20 L523.74,559.84 L524.41,560.54 L525.08,562.43 L525.75,562.64 L526.42,563.91 L527.09,564.55 L527.76,565.51 L528.43,565.77 L529.10,566.36 L529.77,567.49 L530.45,568.94 L531.12,569.04 L531.79,569.04 L532.46,570.67 L533.13,570.92 L533.80,572.38 L534.47,572.18 L535.14,573.03 L535.81,573.72 L536.48,574.36 L537.15,574.90 L537.83,575.12 L538.50,575.54 L539.17,576.45 L539.84,576.11 L540.51,577.44 L541.18,577.16 L541.85,577.86 L542.52,578.77 L543.19,578.78 L543.86,578.52 L544.53,579.06 L545.20,578.53 L545.88,577.94 L546.55,578.19 L547.22,578.60 L547.89,578.58 L548.56,578.55 L549.23,577.97 L549.90,577.76 L550.57,577.85 L551.24,577.37 L551.91,577.24 L552.58,577.95 L553.26,578.20 L553.93,578.07 L554.60,578.29 L555.27,577.91 L555.94,578.28 L556.61,578.20 L557.28,578.26 L557.95,578.06 L558.62,578.59 L559.29,579.17 L559.96,578.23 L560.63,578.95 L561.31,578.52 L561.98,579.18 L562.65,579.14 L563.32,578.75 L563.99,578.20 L564.66,578.00 L565.33,577.89 L566.00,578.37 L566.67,578.01 L567.34,577.75 L568.01,577.90 L568.69,577.45 L569.36,577.73 L570.03,577.57 L570.70,577.59 L571.37,577.73 L572.04,576.38 L572.71,576.46 L573.38,576.37 L574.05,575.90 L574.72,576.27 L575.39,576.52 L576.06,575.63 L576.74,575.96 L577.41,576.18 L578.08,575.75 L578.75,575.79 L579.42,574.97 L580.09,575.40 L580.76,574.85 L581.43,574.92" fill="none" stroke="#ef7d22" stroke-width="1.5" stroke-linejoin="round" />
<path d="M434.51,576.40 L435.18,576.30 L435.85,577.43 L436.52,576.45 L437.19,576.61 L437.86,576.58 L438.54,577.91 L439.21,578.61 L439.88,579.21 L440.55,579.24 L441.22,579.62 L441.89,578.79 L442.56,579.15 L443.23,578.66 L443.90,578.70 L444.57,579.45 L445.24,579.96 L445.91,579.74 L446.59,580.12 L447.26,579.23 L447.93,579.62 L448.60,579.75 L449.27,578.59 L449.94,578.89 L450.61,578.25 L451.28,578.06 L451.95,578.55 L452.62,579.39 L453.29,579.85 L453.97,579.88 L454.64,579.18 L455.31,579.37 L455.98,579.61 L456.65,580.01 L457.32,579.51 L457.99,579.20 L458.66,579.51 L459.33,579.22 L460.00,578.96 L460.67,578.60 L461.35,578.27 L462.02,577.96 L462.69,577.32 L463.36,577.89 L464.03,578.28 L464.70,577.97 L465.37,577.91 L466.04,577.32 L466.71,577.39 L467.38,577.70 L468.05,578.19 L468.72,577.37 L469.40,577.37 L470.07,577.42 L470.74,577.37 L471.41,577.12 L472.08,578.31 L472.75,578.43 L473.42,578.02 L474.09,577.54 L474.76,577.71 L475.43,577.75 L476.10,578.08 L476.78,578.33 L477.45,577.48 L478.12,577.11 L478.79,577.80 L479.46,578.10 L480.13,578.77 L480.80,578.29 L481.47,578.82 L482.14,578.60 L482.81,579.27 L483.48,579.38 L484.15,578.99 L484.83,579.93 L485.50,578.08 L486.17,575.69 L486.84,572.83 L487.51,569.50 L488.18,567.92 L488.85,565.53 L489.52,564.43 L490.19,562.79 L490.86,560.76 L491.53,559.40 L492.21,558.16 L492.88,557.68 L493.55,557.25 L494.22,555.78 L494.89,555.18 L495.56,554.01 L496.23,552.40 L496.90,551.29 L497.57,550.23 L498.24,549.83 L498.91,549.46 L499.59,549.36 L500.26,548.83 L500.93,548.66 L501.60,548.58 L502.27,547.57 L502.94,546.81 L503.61,546.75 L504.28,545.70 L504.95,545.37 L505.62,545.27 L506.29,544.06 L506.96,544.63 L507.64,544.08 L508.31,543.49 L508.98,542.42 L509.65,542.41 L510.32,540.94 L510.99,541.51 L511.66,540.85 L512.33,540.99 L513.00,540.76 L513.67,541.61 L514.34,542.23 L515.02,541.97 L515.69,542.21 L516.36,542.99 L517.03,543.10 L517.70,544.61 L518.37,545.84 L519.04,546.92 L519.71,548.61 L520.38,548.81 L521.05,550.92 L521.72,553.10 L522.39,553.82 L523.07,556.11 L523.74,558.63 L524.41,559.59 L525.08,562.28 L525.75,563.98 L526.42,566.49 L527.09,568.36 L527.76,569.71 L528.43,570.81 L529.10,573.14 L529.77,573.97 L530.45,575.52 L531.12,577.05 L531.79,577.74 L532.46,579.17 L533.13,580.90 L533.80,581.92 L534.47,581.53 L535.14,583.12 L535.81,583.54 L536.48,583.38 L537.15,583.50 L537.83,583.59 L538.50,583.36 L539.17,583.31 L539.84,582.06 L540.51,582.71 L541.18,582.19 L541.85,580.56 L542.52,581.13 L543.19,580.58 L543.86,580.92 L544.53,581.11 L545.20,581.29 L545.88,581.47 L546.55,580.64 L547.22,581.39 L547.89,581.04 L548.56,579.96 L549.23,579.48 L549.90,579.26 L550.57,578.90 L551.24,579.19 L551.91,578.54 L552.58,578.14 L553.26,577.39 L553.93,577.82 L554.60,577.94 L555.27,578.39 L555.94,579.04 L556.61,578.75 L557.28,579.36 L557.95,580.53 L558.62,579.81 L559.29,580.40 L559.96,580.35 L560.63,580.70 L561.31,581.58 L561.98,582.21 L562.65,582.28 L563.32,581.89 L563.99,582.02 L564.66,581.89 L565.33,582.53 L566.00,582.85 L566.67,583.40 L567.34,583.26 L568.01,583.29 L568.69,582.96 L569.36,582.64 L570.03,582.37 L570.70,583.22 L571.37,582.80 L572.04,583.50 L572.71,583.30 L573.38,582.67 L574.05,583.34 L574.72,582.04 L575.39,582.01 L576.06,582.31 L576.74,581.98 L577.41,581.22 L578.08,581.87 L578.75,580.65 L579.42,580.53 L580.09,580.67 L580.76,581.40 L581.43,581.05" fill="none" stroke="#1a1a1a" stroke-width="1.5" stroke-linejoin="round" />
<path d="M429.3,511.8 V622.7 H585.6" fill="none" stroke="#2a2a2a" stroke-width="1.0"/>
<line x1="429.3" y1="622.7" x2="431.8" y2="622.7" stroke="#2a2a2a" stroke-width="1.0"/>
<text x="427.0" y="625.7" font-size="8.9" fill="#2a2a2a" text-anchor="end" >-40</text>
<line x1="429.3" y1="600.5" x2="431.8" y2="600.5" stroke="#2a2a2a" stroke-width="1.0"/>
<text x="427.0" y="603.5" font-size="8.9" fill="#2a2a2a" text-anchor="end" >-20</text>
<line x1="429.3" y1="578.3" x2="431.8" y2="578.3" stroke="#2a2a2a" stroke-width="1.0"/>
<text x="427.0" y="581.3" font-size="8.9" fill="#2a2a2a" text-anchor="end" >0</text>
<line x1="429.3" y1="556.2" x2="431.8" y2="556.2" stroke="#2a2a2a" stroke-width="1.0"/>
<text x="427.0" y="559.2" font-size="8.9" fill="#2a2a2a" text-anchor="end" >20</text>
<line x1="429.3" y1="534.0" x2="431.8" y2="534.0" stroke="#2a2a2a" stroke-width="1.0"/>
<text x="427.0" y="537.0" font-size="8.9" fill="#2a2a2a" text-anchor="end" >40</text>
<line x1="429.3" y1="511.8" x2="431.8" y2="511.8" stroke="#2a2a2a" stroke-width="1.0"/>
<text x="427.0" y="514.8" font-size="8.9" fill="#2a2a2a" text-anchor="end" >60</text>
<line x1="429.3" y1="622.7" x2="429.3" y2="620.2" stroke="#2a2a2a" stroke-width="1.0"/>
<text x="429.3" y="635.9" font-size="8.9" fill="#2a2a2a" text-anchor="middle" >0</text>
<line x1="455.4" y1="622.7" x2="455.4" y2="620.2" stroke="#2a2a2a" stroke-width="1.0"/>
<text x="455.4" y="635.9" font-size="8.9" fill="#2a2a2a" text-anchor="middle" >5</text>
<line x1="481.4" y1="622.7" x2="481.4" y2="620.2" stroke="#2a2a2a" stroke-width="1.0"/>
<text x="481.4" y="635.9" font-size="8.9" fill="#2a2a2a" text-anchor="middle" >10</text>
<line x1="507.5" y1="622.7" x2="507.5" y2="620.2" stroke="#2a2a2a" stroke-width="1.0"/>
<text x="507.5" y="635.9" font-size="8.9" fill="#2a2a2a" text-anchor="middle" >15</text>
<line x1="533.5" y1="622.7" x2="533.5" y2="620.2" stroke="#2a2a2a" stroke-width="1.0"/>
<text x="533.5" y="635.9" font-size="8.9" fill="#2a2a2a" text-anchor="middle" >20</text>
<line x1="559.6" y1="622.7" x2="559.6" y2="620.2" stroke="#2a2a2a" stroke-width="1.0"/>
<text x="559.6" y="635.9" font-size="8.9" fill="#2a2a2a" text-anchor="middle" >25</text>
<line x1="585.6" y1="622.7" x2="585.6" y2="620.2" stroke="#2a2a2a" stroke-width="1.0"/>
<text x="585.6" y="635.9" font-size="8.9" fill="#2a2a2a" text-anchor="middle" >30</text>
<text x="508.5" y="645.2" font-size="10" fill="#1a1a1a" text-anchor="middle" >Time (s)</text>
<text x="412.9" y="566.3" font-size="8.95" fill="#231f20" text-anchor="middle" transform="rotate(-90 412.9 566.3)">% change in velocity</text>
<text x="537.2" y="529.4" font-size="8.9" fill="#1a1a1a" text-anchor="start" >Before CO<tspan font-size="5.5" dy="1.5">2</tspan></text>
<text x="537.2" y="539.9" font-size="8.9" fill="#ef7d22" text-anchor="start" >During CO<tspan font-size="5.5" dy="1.5">2</tspan></text>
<text x="127.8" y="690.5" font-size="12.2" fill="#231f20" text-anchor="start" >p</text>
<text x="208.2" y="690.5" font-size="11.7" fill="#9d9d9d" text-anchor="start" font-style="italic" >Dilation</text>
<rect x="201.4" y="707.7" width="26.1" height="100.5" fill="#d3d3d3"/>
<text x="214.7" y="705.8" font-size="11.2" fill="#1a1a1a" text-anchor="middle" >WS</text>
<polygon points="154.51,771.42 155.18,771.38 155.85,771.10 156.52,770.47 157.19,769.10 157.86,769.78 158.54,768.05 159.21,768.35 159.88,767.03 160.55,767.42 161.22,767.56 161.89,767.67 162.56,766.23 163.23,766.60 163.90,766.23 164.57,766.06 165.24,764.60 165.91,765.57 166.59,763.73 167.26,763.66 167.93,764.67 168.60,764.02 169.27,764.30 169.94,763.55 170.61,763.92 171.28,762.79 171.95,763.33 172.62,763.61 173.29,763.60 173.97,762.98 174.64,763.28 175.31,763.52 175.98,764.18 176.65,764.57 177.32,764.54 177.99,763.91 178.66,764.93 179.33,764.64 180.00,765.46 180.67,764.61 181.35,765.78 182.02,765.54 182.69,764.48 183.36,764.84 184.03,765.88 184.70,766.28 185.37,765.21 186.04,766.23 186.71,766.17 187.38,766.36 188.05,765.87 188.72,766.48 189.40,766.29 190.07,767.18 190.74,766.67 191.41,766.52 192.08,766.52 192.75,767.38 193.42,766.79 194.09,767.07 194.76,767.96 195.43,767.13 196.10,767.64 196.78,767.53 197.45,767.83 198.12,767.10 198.79,768.19 199.46,768.33 200.13,767.88 200.80,767.71 201.47,767.65 202.14,766.72 202.81,766.69 203.48,766.42 204.15,765.48 204.83,765.93 205.50,764.24 206.17,763.24 206.84,761.94 207.51,760.53 208.18,759.62 208.85,757.64 209.52,757.07 210.19,754.43 210.86,752.70 211.53,752.04 212.21,749.68 212.88,749.55 213.55,746.10 214.22,745.29 214.89,744.09 215.56,743.08 216.23,740.59 216.90,738.70 217.57,737.52 218.24,736.56 218.91,735.27 219.59,732.63 220.26,732.76 220.93,731.60 221.60,730.91 222.27,729.70 222.94,728.35 223.61,726.42 224.28,725.22 224.95,725.22 225.62,724.70 226.29,724.91 226.96,724.69 227.64,721.99 228.31,722.61 228.98,721.94 229.65,721.65 230.32,721.69 230.99,719.53 231.66,721.24 232.33,720.03 233.00,720.27 233.67,718.70 234.34,719.84 235.02,719.75 235.69,719.18 236.36,722.44 237.03,721.91 237.70,724.27 238.37,724.57 239.04,725.10 239.71,727.26 240.38,728.22 241.05,729.17 241.72,729.17 242.39,730.75 243.07,732.61 243.74,734.97 244.41,736.79 245.08,737.26 245.75,739.67 246.42,741.92 247.09,742.94 247.76,742.13 248.43,745.22 249.10,746.59 249.77,748.95 250.45,748.17 251.12,748.17 251.79,750.00 252.46,752.36 253.13,752.55 253.80,752.25 254.47,753.14 255.14,755.03 255.81,755.72 256.48,754.40 257.15,754.19 257.83,759.45 258.50,758.28 259.17,755.11 259.84,755.32 260.51,754.56 261.18,755.83 261.85,756.88 262.52,758.84 263.19,756.80 263.86,757.59 264.53,758.44 265.20,757.71 265.88,759.51 266.55,760.35 267.22,758.61 267.89,760.08 268.56,758.08 269.23,757.27 269.90,758.57 270.57,758.20 271.24,761.83 271.91,758.30 272.58,761.68 273.26,762.84 273.93,761.74 274.60,763.12 275.27,763.28 275.94,762.06 276.61,761.96 277.28,761.77 277.95,759.99 278.62,760.74 279.29,760.61 279.96,762.49 280.63,763.61 281.31,762.04 281.98,763.54 282.65,762.46 283.32,764.47 283.99,765.03 284.66,764.55 285.33,765.28 286.00,766.56 286.67,765.75 287.34,764.84 288.01,766.38 288.69,766.35 289.36,765.73 290.03,767.44 290.70,767.67 291.37,767.30 292.04,768.23 292.71,765.75 293.38,767.27 294.05,765.92 294.72,767.30 295.39,768.01 296.06,767.83 296.74,767.24 297.41,766.03 298.08,765.32 298.75,766.89 299.42,766.72 300.09,765.78 300.76,765.14 301.43,767.44 301.43,787.74 300.76,788.40 300.09,790.10 299.42,788.03 298.75,788.39 298.08,787.11 297.41,788.96 296.74,788.02 296.06,788.36 295.39,789.16 294.72,789.13 294.05,789.53 293.38,789.31 292.71,788.96 292.04,790.44 291.37,787.80 290.70,789.42 290.03,789.98 289.36,788.10 288.69,788.56 288.01,789.19 287.34,788.42 286.67,787.30 286.00,786.56 285.33,786.36 284.66,786.29 283.99,789.05 283.32,787.93 282.65,787.80 281.98,785.46 281.31,786.16 280.63,787.58 279.96,785.58 279.29,786.46 278.62,785.45 277.95,784.33 277.28,785.33 276.61,786.81 275.94,784.90 275.27,788.65 274.60,789.10 273.93,788.69 273.26,791.17 272.58,789.93 271.91,793.09 271.24,790.66 270.57,795.60 269.90,792.81 269.23,794.53 268.56,794.13 267.89,797.46 267.22,801.89 266.55,797.60 265.88,803.35 265.20,802.75 264.53,800.02 263.86,800.66 263.19,803.18 262.52,800.86 261.85,797.37 261.18,797.33 260.51,796.41 259.84,799.18 259.17,795.25 258.50,796.13 257.83,792.03 257.15,789.65 256.48,788.93 255.81,788.60 255.14,786.05 254.47,785.22 253.80,780.34 253.13,779.33 252.46,781.09 251.79,777.67 251.12,774.65 250.45,774.01 249.77,770.61 249.10,771.10 248.43,768.24 247.76,764.87 247.09,764.11 246.42,763.75 245.75,760.87 245.08,759.03 244.41,757.75 243.74,755.89 243.07,752.30 242.39,752.42 241.72,748.61 241.05,748.14 240.38,746.11 239.71,743.99 239.04,744.28 238.37,742.32 237.70,742.87 237.03,741.12 236.36,739.79 235.69,739.17 235.02,737.78 234.34,737.33 233.67,738.14 233.00,739.45 232.33,738.54 231.66,737.70 230.99,738.02 230.32,739.85 229.65,738.66 228.98,739.50 228.31,741.58 227.64,740.50 226.96,741.85 226.29,743.67 225.62,743.29 224.95,744.90 224.28,743.05 223.61,745.69 222.94,745.82 222.27,746.30 221.60,747.56 220.93,749.58 220.26,749.03 219.59,751.47 218.91,753.29 218.24,754.60 217.57,754.76 216.90,755.72 216.23,756.58 215.56,758.03 214.89,759.91 214.22,760.53 213.55,762.63 212.88,764.19 212.21,765.52 211.53,765.72 210.86,767.16 210.19,767.73 209.52,770.35 208.85,770.58 208.18,771.72 207.51,773.14 206.84,773.79 206.17,773.95 205.50,773.75 204.83,774.45 204.15,774.09 203.48,774.08 202.81,773.34 202.14,773.26 201.47,773.62 200.80,774.19 200.13,774.55 199.46,774.70 198.79,774.09 198.12,773.76 197.45,774.20 196.78,774.77 196.10,774.46 195.43,774.55 194.76,774.80 194.09,774.50 193.42,773.82 192.75,774.14 192.08,774.74 191.41,774.67 190.74,774.61 190.07,774.88 189.40,774.14 188.72,774.14 188.05,773.88 187.38,774.20 186.71,774.67 186.04,774.05 185.37,773.97 184.70,774.35 184.03,773.84 183.36,773.96 182.69,774.85 182.02,775.02 181.35,774.51 180.67,773.81 180.00,774.52 179.33,774.69 178.66,774.83 177.99,774.84 177.32,774.58 176.65,774.06 175.98,774.90 175.31,774.64 174.64,774.15 173.97,773.42 173.29,773.49 172.62,774.75 171.95,774.58 171.28,774.76 170.61,774.11 169.94,774.43 169.27,774.19 168.60,775.42 167.93,773.96 167.26,774.62 166.59,774.46 165.91,775.45 165.24,775.51 164.57,777.00 163.90,776.15 163.23,777.88 162.56,777.10 161.89,777.20 161.22,778.58 160.55,777.94 159.88,778.83 159.21,779.44 158.54,779.31 157.86,781.10 157.19,780.94 156.52,781.31 155.85,781.95 155.18,782.45 154.51,783.30" fill="#9a9a9a" fill-opacity="0.58" stroke="none"/>
<polygon points="154.51,768.18 155.18,767.27 155.85,768.00 156.52,767.64 157.19,767.26 157.86,767.65 158.54,766.69 159.21,766.95 159.88,766.70 160.55,767.33 161.22,766.56 161.89,766.61 162.56,766.90 163.23,766.43 163.90,766.46 164.57,766.88 165.24,766.04 165.91,766.05 166.59,766.49 167.26,766.53 167.93,765.98 168.60,766.36 169.27,766.49 169.94,766.72 170.61,765.87 171.28,767.17 171.95,766.61 172.62,767.59 173.29,767.58 173.97,767.92 174.64,767.18 175.31,768.19 175.98,768.04 176.65,767.72 177.32,767.65 177.99,767.58 178.66,768.60 179.33,767.92 180.00,768.04 180.67,768.26 181.35,768.32 182.02,768.13 182.69,766.75 183.36,767.72 184.03,767.93 184.70,767.09 185.37,766.98 186.04,766.30 186.71,766.09 187.38,765.21 188.05,764.79 188.72,765.20 189.40,764.45 190.07,763.70 190.74,764.21 191.41,763.81 192.08,764.42 192.75,764.35 193.42,764.68 194.09,764.21 194.76,763.91 195.43,764.16 196.10,764.24 196.78,763.90 197.45,764.20 198.12,763.81 198.79,763.98 199.46,763.65 200.13,763.51 200.80,763.70 201.47,763.41 202.14,763.16 202.81,762.36 203.48,762.80 204.15,761.72 204.83,761.70 205.50,761.41 206.17,760.46 206.84,759.91 207.51,759.33 208.18,758.60 208.85,756.19 209.52,755.74 210.19,754.32 210.86,754.16 211.53,752.45 212.21,751.86 212.88,750.62 213.55,749.08 214.22,746.84 214.89,746.13 215.56,745.23 216.23,744.86 216.90,743.52 217.57,742.13 218.24,740.18 218.91,738.61 219.59,737.54 220.26,736.64 220.93,736.20 221.60,734.11 222.27,732.61 222.94,732.24 223.61,730.04 224.28,729.97 224.95,729.23 225.62,729.34 226.29,727.32 226.96,724.87 227.64,724.75 228.31,723.75 228.98,722.70 229.65,721.11 230.32,721.74 230.99,720.33 231.66,719.92 232.33,720.81 233.00,719.64 233.67,718.67 234.34,716.90 235.02,716.74 235.69,719.04 236.36,717.78 237.03,720.28 237.70,721.52 238.37,721.44 239.04,721.52 239.71,721.45 240.38,724.33 241.05,725.59 241.72,727.26 242.39,729.77 243.07,728.42 243.74,732.56 244.41,731.72 245.08,733.12 245.75,737.38 246.42,738.31 247.09,738.26 247.76,738.89 248.43,742.93 249.10,743.22 249.77,746.02 250.45,745.19 251.12,747.49 251.79,749.45 252.46,749.91 253.13,749.77 253.80,753.84 254.47,751.95 255.14,753.11 255.81,753.18 256.48,754.87 257.15,756.20 257.83,757.22 258.50,758.87 259.17,758.15 259.84,760.07 260.51,759.88 261.18,759.87 261.85,757.83 262.52,761.90 263.19,761.71 263.86,759.01 264.53,758.81 265.20,758.90 265.88,762.80 266.55,761.90 267.22,762.54 267.89,763.56 268.56,760.52 269.23,763.33 269.90,764.46 270.57,764.00 271.24,763.86 271.91,761.48 272.58,762.83 273.26,763.29 273.93,763.37 274.60,763.90 275.27,765.06 275.94,762.09 276.61,762.88 277.28,763.00 277.95,763.99 278.62,762.44 279.29,764.69 279.96,762.93 280.63,764.01 281.31,762.71 281.98,762.66 282.65,761.74 283.32,762.07 283.99,763.02 284.66,763.37 285.33,761.72 286.00,761.00 286.67,758.93 287.34,760.62 288.01,760.76 288.69,760.12 289.36,761.42 290.03,758.02 290.70,759.14 291.37,757.35 292.04,760.25 292.71,757.91 293.38,757.81 294.05,758.05 294.72,758.65 295.39,757.00 296.06,757.52 296.74,757.89 297.41,757.92 298.08,756.71 298.75,756.03 299.42,755.97 300.09,755.86 300.76,756.69 301.43,757.29 301.43,775.68 300.76,777.62 300.09,778.73 299.42,778.51 298.75,777.62 298.08,776.51 297.41,776.91 296.74,779.29 296.06,778.89 295.39,776.97 294.72,779.87 294.05,777.36 293.38,779.52 292.71,778.29 292.04,779.89 291.37,781.39 290.70,780.17 290.03,780.65 289.36,781.40 288.69,781.51 288.01,782.93 287.34,783.43 286.67,784.75 286.00,784.49 285.33,785.33 284.66,786.21 283.99,786.46 283.32,785.99 282.65,786.50 281.98,786.37 281.31,785.31 280.63,788.26 279.96,789.12 279.29,787.51 278.62,785.83 277.95,787.28 277.28,787.69 276.61,788.30 275.94,787.83 275.27,786.69 274.60,790.28 273.93,787.92 273.26,790.15 272.58,787.01 271.91,788.83 271.24,787.09 270.57,790.22 269.90,789.84 269.23,787.63 268.56,788.74 267.89,789.83 267.22,787.72 266.55,790.00 265.88,787.87 265.20,786.64 264.53,788.29 263.86,786.76 263.19,786.76 262.52,785.85 261.85,787.89 261.18,784.83 260.51,785.53 259.84,786.81 259.17,787.27 258.50,785.27 257.83,784.38 257.15,784.61 256.48,782.48 255.81,779.50 255.14,779.74 254.47,779.78 253.80,779.98 253.13,776.40 252.46,776.23 251.79,777.17 251.12,772.58 250.45,771.82 249.77,771.74 249.10,769.90 248.43,765.34 247.76,763.81 247.09,764.54 246.42,760.40 245.75,761.38 245.08,757.00 244.41,757.24 243.74,753.80 243.07,753.00 242.39,753.54 241.72,749.89 241.05,750.23 240.38,748.69 239.71,748.53 239.04,746.81 238.37,746.39 237.70,743.25 237.03,742.78 236.36,743.26 235.69,740.89 235.02,741.19 234.34,741.75 233.67,741.11 233.00,742.53 232.33,743.77 231.66,742.32 230.99,742.55 230.32,743.01 229.65,742.85 228.98,744.32 228.31,746.52 227.64,745.26 226.96,747.95 226.29,745.74 225.62,748.70 224.95,748.13 224.28,749.80 223.61,749.17 222.94,749.79 222.27,752.39 221.60,751.24 220.93,752.40 220.26,754.74 219.59,755.53 218.91,755.14 218.24,757.89 217.57,758.27 216.90,759.03 216.23,759.00 215.56,761.19 214.89,762.12 214.22,763.04 213.55,762.81 212.88,763.00 212.21,765.39 211.53,765.96 210.86,765.88 210.19,768.20 209.52,767.51 208.85,768.29 208.18,769.41 207.51,769.90 206.84,769.39 206.17,770.04 205.50,770.15 204.83,770.72 204.15,770.67 203.48,770.33 202.81,769.10 202.14,769.66 201.47,769.33 200.80,769.38 200.13,769.41 199.46,769.97 198.79,769.85 198.12,770.15 197.45,769.91 196.78,770.71 196.10,770.52 195.43,771.19 194.76,770.86 194.09,770.87 193.42,771.28 192.75,771.46 192.08,771.03 191.41,771.18 190.74,771.33 190.07,770.73 189.40,771.09 188.72,771.94 188.05,772.47 187.38,773.15 186.71,773.75 186.04,773.10 185.37,774.35 184.70,774.34 184.03,774.70 183.36,774.54 182.69,774.84 182.02,775.50 181.35,775.50 180.67,775.81 180.00,775.77 179.33,776.09 178.66,775.24 177.99,774.88 177.32,775.34 176.65,776.06 175.98,776.09 175.31,775.84 174.64,775.67 173.97,775.37 173.29,775.09 172.62,774.66 171.95,774.76 171.28,774.47 170.61,774.16 169.94,775.24 169.27,775.12 168.60,775.06 167.93,774.60 167.26,775.13 166.59,774.78 165.91,775.08 165.24,775.21 164.57,775.02 163.90,775.82 163.23,775.03 162.56,776.12 161.89,776.14 161.22,775.26 160.55,776.18 159.88,775.47 159.21,776.78 158.54,776.76 157.86,776.62 157.19,775.78 156.52,776.36 155.85,776.57 155.18,777.39 154.51,777.85" fill="#f5b486" fill-opacity="0.55" stroke="none"/>
<path d="M154.51,772.79 L155.18,772.52 L155.85,772.33 L156.52,771.93 L157.19,771.79 L157.86,771.66 L158.54,771.58 L159.21,771.73 L159.88,771.28 L160.55,771.35 L161.22,771.22 L161.89,771.37 L162.56,771.23 L163.23,770.85 L163.90,771.04 L164.57,771.05 L165.24,770.88 L165.91,770.79 L166.59,770.66 L167.26,770.59 L167.93,770.69 L168.60,770.78 L169.27,770.59 L169.94,770.53 L170.61,770.52 L171.28,770.66 L171.95,770.76 L172.62,771.07 L173.29,771.33 L173.97,771.40 L174.64,771.42 L175.31,771.69 L175.98,772.06 L176.65,772.02 L177.32,771.66 L177.99,771.56 L178.66,771.87 L179.33,772.01 L180.00,772.16 L180.67,772.11 L181.35,771.94 L182.02,771.28 L182.69,770.96 L183.36,771.05 L184.03,771.11 L184.70,770.52 L185.37,770.37 L186.04,769.94 L186.71,769.80 L187.38,769.16 L188.05,768.71 L188.72,768.35 L189.40,767.94 L190.07,767.58 L190.74,767.66 L191.41,767.40 L192.08,767.74 L192.75,767.66 L193.42,767.62 L194.09,767.52 L194.76,767.28 L195.43,767.58 L196.10,767.46 L196.78,767.31 L197.45,767.22 L198.12,766.98 L198.79,766.78 L199.46,766.67 L200.13,766.62 L200.80,766.61 L201.47,766.21 L202.14,766.12 L202.81,766.10 L203.48,766.33 L204.15,766.18 L204.83,765.90 L205.50,766.02 L206.17,765.39 L206.84,764.75 L207.51,764.27 L208.18,763.33 L208.85,762.59 L209.52,762.07 L210.19,761.20 L210.86,760.19 L211.53,758.93 L212.21,758.10 L212.88,756.87 L213.55,755.71 L214.22,755.08 L214.89,753.80 L215.56,752.62 L216.23,751.54 L216.90,750.42 L217.57,749.49 L218.24,748.52 L218.91,747.04 L219.59,746.21 L220.26,744.98 L220.93,744.03 L221.60,743.32 L222.27,742.41 L222.94,741.60 L223.61,740.75 L224.28,739.55 L224.95,738.95 L225.62,738.20 L226.29,737.03 L226.96,736.47 L227.64,735.64 L228.31,734.83 L228.98,734.01 L229.65,733.14 L230.32,732.46 L230.99,732.19 L231.66,731.71 L232.33,730.84 L233.00,730.25 L233.67,729.95 L234.34,729.56 L235.02,729.43 L235.69,729.68 L236.36,730.41 L237.03,731.06 L237.70,731.89 L238.37,732.97 L239.04,733.73 L239.71,735.13 L240.38,736.34 L241.05,737.46 L241.72,738.74 L242.39,740.09 L243.07,741.55 L243.74,742.99 L244.41,744.54 L245.08,746.07 L245.75,747.90 L246.42,749.34 L247.09,751.31 L247.76,752.91 L248.43,754.24 L249.10,756.09 L249.77,757.79 L250.45,759.38 L251.12,761.03 L251.79,762.42 L252.46,763.24 L253.13,764.64 L253.80,765.52 L254.47,766.78 L255.14,767.63 L255.81,768.15 L256.48,769.18 L257.15,769.80 L257.83,770.80 L258.50,771.16 L259.17,771.73 L259.84,771.86 L260.51,772.39 L261.18,772.59 L261.85,772.86 L262.52,773.60 L263.19,773.92 L263.86,773.77 L264.53,774.13 L265.20,774.55 L265.88,774.71 L266.55,774.79 L267.22,774.94 L267.89,775.01 L268.56,775.11 L269.23,775.53 L269.90,775.79 L270.57,775.89 L271.24,775.63 L271.91,776.04 L272.58,775.98 L273.26,776.08 L273.93,776.37 L274.60,776.03 L275.27,775.91 L275.94,775.80 L276.61,775.63 L277.28,775.76 L277.95,775.97 L278.62,775.51 L279.29,775.69 L279.96,775.41 L280.63,775.03 L281.31,774.67 L281.98,774.26 L282.65,774.18 L283.32,773.85 L283.99,773.31 L284.66,773.17 L285.33,772.84 L286.00,772.30 L286.67,771.98 L287.34,771.49 L288.01,771.06 L288.69,771.18 L289.36,770.93 L290.03,770.15 L290.70,769.98 L291.37,769.65 L292.04,769.54 L292.71,768.83 L293.38,768.59 L294.05,768.25 L294.72,767.81 L295.39,767.53 L296.06,767.82 L296.74,767.39 L297.41,767.23 L298.08,767.18 L298.75,767.02 L299.42,766.86 L300.09,767.10 L300.76,766.83 L301.43,766.97" fill="none" stroke="#ef7d22" stroke-width="1.5" stroke-linejoin="round" />
<path d="M154.51,777.10 L155.18,776.64 L155.85,776.11 L156.52,775.71 L157.19,775.01 L157.86,774.82 L158.54,774.27 L159.21,773.61 L159.88,773.19 L160.55,772.70 L161.22,772.64 L161.89,772.35 L162.56,772.05 L163.23,771.82 L163.90,771.54 L164.57,770.99 L165.24,770.75 L165.91,770.38 L166.59,769.90 L167.26,769.56 L167.93,769.41 L168.60,769.43 L169.27,769.24 L169.94,768.74 L170.61,768.94 L171.28,768.71 L171.95,768.95 L172.62,768.91 L173.29,768.85 L173.97,768.61 L174.64,768.66 L175.31,768.62 L175.98,768.96 L176.65,769.13 L177.32,768.97 L177.99,769.14 L178.66,769.19 L179.33,769.60 L180.00,769.81 L180.67,769.74 L181.35,769.80 L182.02,769.88 L182.69,769.65 L183.36,769.56 L184.03,769.93 L184.70,770.14 L185.37,770.19 L186.04,770.24 L186.71,770.02 L187.38,770.18 L188.05,769.95 L188.72,770.43 L189.40,770.35 L190.07,770.58 L190.74,770.33 L191.41,770.56 L192.08,770.76 L192.75,770.70 L193.42,770.58 L194.09,771.05 L194.76,771.14 L195.43,770.87 L196.10,771.09 L196.78,771.32 L197.45,770.95 L198.12,770.82 L198.79,771.06 L199.46,771.25 L200.13,771.40 L200.80,770.94 L201.47,770.63 L202.14,770.42 L202.81,770.25 L203.48,770.24 L204.15,770.14 L204.83,769.82 L205.50,769.48 L206.17,768.72 L206.84,767.76 L207.51,766.87 L208.18,765.70 L208.85,764.60 L209.52,763.71 L210.19,761.95 L210.86,760.46 L211.53,759.17 L212.21,757.82 L212.88,756.14 L213.55,754.67 L214.22,753.15 L214.89,751.54 L215.56,750.13 L216.23,748.91 L216.90,747.69 L217.57,746.57 L218.24,745.33 L218.91,743.62 L219.59,742.46 L220.26,741.26 L220.93,740.39 L221.60,739.47 L222.27,738.24 L222.94,737.43 L223.61,736.53 L224.28,735.06 L224.95,734.31 L225.62,733.85 L226.29,733.11 L226.96,732.83 L227.64,732.06 L228.31,731.76 L228.98,731.03 L229.65,730.43 L230.32,730.29 L230.99,729.90 L231.66,729.30 L232.33,729.06 L233.00,728.78 L233.67,728.65 L234.34,729.24 L235.02,729.45 L235.69,729.93 L236.36,730.75 L237.03,731.35 L237.70,732.51 L238.37,733.29 L239.04,734.48 L239.71,735.58 L240.38,736.62 L241.05,738.50 L241.72,740.01 L242.39,741.74 L243.07,743.50 L243.74,745.26 L244.41,746.63 L245.08,748.41 L245.75,750.07 L246.42,751.56 L247.09,753.10 L247.76,754.66 L248.43,756.45 L249.10,757.78 L249.77,759.82 L250.45,761.25 L251.12,762.69 L251.79,763.93 L252.46,765.16 L253.13,766.01 L253.80,767.09 L254.47,768.45 L255.14,769.48 L255.81,770.84 L256.48,772.41 L257.15,773.38 L257.83,774.90 L258.50,776.04 L259.17,776.22 L259.84,776.77 L260.51,777.47 L261.18,778.02 L261.85,778.59 L262.52,778.88 L263.19,779.37 L263.86,779.43 L264.53,779.78 L265.20,780.18 L265.88,779.90 L266.55,779.30 L267.22,778.91 L267.89,778.27 L268.56,777.68 L269.23,777.40 L269.90,776.94 L270.57,776.76 L271.24,776.24 L271.91,775.92 L272.58,775.62 L273.26,775.10 L273.93,774.72 L274.60,774.63 L275.27,774.36 L275.94,773.76 L276.61,773.49 L277.28,773.27 L277.95,773.36 L278.62,773.63 L279.29,773.92 L279.96,774.31 L280.63,774.46 L281.31,774.44 L281.98,775.14 L282.65,775.58 L283.32,775.89 L283.99,776.02 L284.66,776.41 L285.33,776.48 L286.00,776.65 L286.67,776.92 L287.34,777.25 L288.01,777.33 L288.69,777.45 L289.36,778.11 L290.03,778.31 L290.70,778.06 L291.37,778.10 L292.04,778.24 L292.71,778.12 L293.38,778.31 L294.05,778.07 L294.72,778.40 L295.39,778.44 L296.06,777.98 L296.74,777.94 L297.41,777.65 L298.08,777.40 L298.75,777.32 L299.42,777.26 L300.09,777.34 L300.76,777.15 L301.43,777.25" fill="none" stroke="#1a1a1a" stroke-width="1.5" stroke-linejoin="round" />
<path d="M149.3,695.8 V808.2 H305.6" fill="none" stroke="#2a2a2a" stroke-width="1.0"/>
<line x1="149.3" y1="808.2" x2="151.8" y2="808.2" stroke="#2a2a2a" stroke-width="1.0"/>
<text x="147.0" y="811.2" font-size="8.9" fill="#2a2a2a" text-anchor="end" >-10</text>
<line x1="149.3" y1="789.5" x2="151.8" y2="789.5" stroke="#2a2a2a" stroke-width="1.0"/>
<text x="147.0" y="792.5" font-size="8.9" fill="#2a2a2a" text-anchor="end" >-5</text>
<line x1="149.3" y1="770.7" x2="151.8" y2="770.7" stroke="#2a2a2a" stroke-width="1.0"/>
<text x="147.0" y="773.7" font-size="8.9" fill="#2a2a2a" text-anchor="end" >0</text>
<line x1="149.3" y1="752.0" x2="151.8" y2="752.0" stroke="#2a2a2a" stroke-width="1.0"/>
<text x="147.0" y="755.0" font-size="8.9" fill="#2a2a2a" text-anchor="end" >5</text>
<line x1="149.3" y1="733.3" x2="151.8" y2="733.3" stroke="#2a2a2a" stroke-width="1.0"/>
<text x="147.0" y="736.3" font-size="8.9" fill="#2a2a2a" text-anchor="end" >10</text>
<line x1="149.3" y1="714.5" x2="151.8" y2="714.5" stroke="#2a2a2a" stroke-width="1.0"/>
<text x="147.0" y="717.5" font-size="8.9" fill="#2a2a2a" text-anchor="end" >15</text>
<line x1="149.3" y1="695.8" x2="151.8" y2="695.8" stroke="#2a2a2a" stroke-width="1.0"/>
<text x="147.0" y="698.8" font-size="8.9" fill="#2a2a2a" text-anchor="end" >20</text>
<line x1="149.3" y1="808.2" x2="149.3" y2="805.7" stroke="#2a2a2a" stroke-width="1.0"/>
<text x="149.3" y="821.4" font-size="8.9" fill="#2a2a2a" text-anchor="middle" >0</text>
<line x1="175.4" y1="808.2" x2="175.4" y2="805.7" stroke="#2a2a2a" stroke-width="1.0"/>
<text x="175.4" y="821.4" font-size="8.9" fill="#2a2a2a" text-anchor="middle" >5</text>
<line x1="201.4" y1="808.2" x2="201.4" y2="805.7" stroke="#2a2a2a" stroke-width="1.0"/>
<text x="201.4" y="821.4" font-size="8.9" fill="#2a2a2a" text-anchor="middle" >10</text>
<line x1="227.5" y1="808.2" x2="227.5" y2="805.7" stroke="#2a2a2a" stroke-width="1.0"/>
<text x="227.5" y="821.4" font-size="8.9" fill="#2a2a2a" text-anchor="middle" >15</text>
<line x1="253.5" y1="808.2" x2="253.5" y2="805.7" stroke="#2a2a2a" stroke-width="1.0"/>
<text x="253.5" y="821.4" font-size="8.9" fill="#2a2a2a" text-anchor="middle" >20</text>
<line x1="279.6" y1="808.2" x2="279.6" y2="805.7" stroke="#2a2a2a" stroke-width="1.0"/>
<text x="279.6" y="821.4" font-size="8.9" fill="#2a2a2a" text-anchor="middle" >25</text>
<line x1="305.6" y1="808.2" x2="305.6" y2="805.7" stroke="#2a2a2a" stroke-width="1.0"/>
<text x="305.6" y="821.4" font-size="8.9" fill="#2a2a2a" text-anchor="middle" >30</text>
<text x="228.5" y="830.8" font-size="10" fill="#1a1a1a" text-anchor="middle" >Time (s)</text>
<text x="135.5" y="751.5" font-size="9.3" fill="#231f20" text-anchor="middle" transform="rotate(-90 135.5 751.5)">% change in diameter</text>
<text x="256.5" y="714.9" font-size="8.9" fill="#1a1a1a" text-anchor="start" >Before CO<tspan font-size="5.5" dy="1.5">2</tspan></text>
<text x="256.5" y="725.4" font-size="8.9" fill="#ef7d22" text-anchor="start" >During CO<tspan font-size="5.5" dy="1.5">2</tspan></text>
<text x="404.2" y="690.5" font-size="12.2" fill="#231f20" text-anchor="start" >r</text>
<text x="479.9" y="690.5" font-size="11.7" fill="#9d9d9d" text-anchor="start" font-style="italic" >Blood flow</text>
<rect x="481.4" y="707.7" width="26.1" height="100.5" fill="#d3d3d3"/>
<text x="494.7" y="705.8" font-size="11.2" fill="#1a1a1a" text-anchor="middle" >WS</text>
<polygon points="434.51,778.53 435.18,777.93 435.85,778.81 436.52,777.64 437.19,776.54 437.86,776.59 438.54,776.41 439.21,775.75 439.88,776.61 440.55,774.96 441.22,775.73 441.89,774.27 442.56,774.10 443.23,773.50 443.90,775.06 444.57,772.45 445.24,774.07 445.91,774.51 446.59,772.76 447.26,775.08 447.93,774.89 448.60,775.30 449.27,773.93 449.94,773.47 450.61,774.08 451.28,774.62 451.95,774.60 452.62,774.41 453.29,775.38 453.97,776.75 454.64,775.91 455.31,777.62 455.98,777.86 456.65,776.67 457.32,776.53 457.99,776.25 458.66,777.13 459.33,777.64 460.00,776.90 460.67,778.75 461.35,776.14 462.02,776.50 462.69,777.04 463.36,775.12 464.03,775.51 464.70,776.63 465.37,775.12 466.04,775.18 466.71,774.84 467.38,776.63 468.05,774.98 468.72,776.33 469.40,774.46 470.07,775.14 470.74,775.91 471.41,775.01 472.08,774.04 472.75,775.24 473.42,776.54 474.09,776.73 474.76,775.30 475.43,774.57 476.10,776.36 476.78,776.16 477.45,775.44 478.12,776.34 478.79,776.18 479.46,775.30 480.13,776.46 480.80,775.68 481.47,777.09 482.14,777.35 482.81,774.29 483.48,773.22 484.15,775.05 484.83,769.74 485.50,770.44 486.17,766.75 486.84,768.80 487.51,764.47 488.18,761.20 488.85,758.83 489.52,761.88 490.19,756.93 490.86,751.49 491.53,750.26 492.21,746.31 492.88,747.10 493.55,743.87 494.22,748.14 494.89,745.71 495.56,736.16 496.23,735.89 496.90,736.99 497.57,738.89 498.24,732.92 498.91,732.94 499.59,725.51 500.26,731.08 500.93,729.04 501.60,732.87 502.27,730.18 502.94,720.24 503.61,727.11 504.28,728.97 504.95,724.84 505.62,719.87 506.29,718.68 506.96,719.98 507.64,720.29 508.31,717.16 508.98,720.66 509.65,711.03 510.32,715.92 510.99,708.60 511.66,708.32 512.33,714.66 513.00,710.57 513.67,705.97 514.34,719.59 515.02,717.59 515.69,711.10 516.36,712.38 517.03,714.03 517.70,721.32 518.37,718.48 519.04,719.66 519.71,713.46 520.38,718.85 521.05,716.94 521.72,728.91 522.39,725.32 523.07,732.18 523.74,733.91 524.41,728.85 525.08,732.13 525.75,736.01 526.42,741.90 527.09,739.78 527.76,746.80 528.43,742.80 529.10,747.08 529.77,749.30 530.45,749.92 531.12,750.03 531.79,755.90 532.46,760.82 533.13,760.76 533.80,759.16 534.47,764.00 535.14,762.20 535.81,764.35 536.48,768.03 537.15,769.86 537.83,771.69 538.50,767.25 539.17,770.15 539.84,774.24 540.51,774.70 541.18,767.62 541.85,772.38 542.52,769.52 543.19,772.63 543.86,772.57 544.53,768.53 545.20,769.65 545.88,774.85 546.55,774.07 547.22,771.24 547.89,773.22 548.56,771.94 549.23,769.99 549.90,772.04 550.57,773.19 551.24,774.46 551.91,769.30 552.58,774.77 553.26,773.89 553.93,771.63 554.60,772.88 555.27,767.74 555.94,770.52 556.61,769.62 557.28,768.14 557.95,771.28 558.62,770.09 559.29,774.03 559.96,771.51 560.63,771.01 561.31,776.04 561.98,772.12 562.65,770.47 563.32,770.52 563.99,775.97 564.66,773.27 565.33,771.37 566.00,776.25 566.67,774.11 567.34,776.39 568.01,776.42 568.69,774.47 569.36,774.78 570.03,773.47 570.70,776.64 571.37,778.06 572.04,773.61 572.71,777.55 573.38,772.44 574.05,777.95 574.72,777.45 575.39,776.37 576.06,777.54 576.74,774.83 577.41,776.61 578.08,771.83 578.75,778.11 579.42,772.75 580.09,777.21 580.76,775.31 581.43,772.84 581.43,797.06 580.76,797.47 580.09,796.10 579.42,794.84 578.75,798.43 578.08,796.01 577.41,795.98 576.74,799.39 576.06,797.50 575.39,797.06 574.72,795.13 574.05,797.83 573.38,794.65 572.71,799.27 572.04,801.47 571.37,795.96 570.70,794.83 570.03,799.79 569.36,799.62 568.69,797.44 568.01,794.28 567.34,794.57 566.67,795.56 566.00,795.28 565.33,796.46 564.66,795.09 563.99,796.46 563.32,798.08 562.65,795.83 561.98,793.83 561.31,796.39 560.63,791.29 559.96,794.41 559.29,790.87 558.62,790.81 557.95,795.85 557.28,791.86 556.61,791.05 555.94,792.69 555.27,796.00 554.60,793.92 553.93,799.16 553.26,800.25 552.58,797.05 551.91,800.18 551.24,794.26 550.57,794.53 549.90,795.46 549.23,796.88 548.56,796.65 547.89,799.69 547.22,795.43 546.55,799.05 545.88,798.43 545.20,802.91 544.53,801.28 543.86,799.94 543.19,802.37 542.52,805.20 541.85,798.52 541.18,798.84 540.51,801.74 539.84,799.24 539.17,805.61 538.50,797.05 537.83,806.30 537.15,801.05 536.48,801.50 535.81,804.29 535.14,795.74 534.47,800.16 533.80,800.43 533.13,800.24 532.46,794.56 531.79,787.94 531.12,789.51 530.45,787.47 529.77,785.70 529.10,777.67 528.43,782.60 527.76,776.46 527.09,779.33 526.42,778.68 525.75,774.42 525.08,772.41 524.41,770.98 523.74,769.95 523.07,774.36 522.39,766.76 521.72,764.69 521.05,762.12 520.38,766.43 519.71,765.64 519.04,762.40 518.37,758.09 517.70,767.67 517.03,763.15 516.36,763.49 515.69,760.22 515.02,765.77 514.34,754.85 513.67,756.67 513.00,761.05 512.33,763.74 511.66,760.53 510.99,765.54 510.32,770.51 509.65,757.63 508.98,759.00 508.31,763.80 507.64,764.04 506.96,765.18 506.29,773.21 505.62,760.90 504.95,763.08 504.28,765.20 503.61,770.24 502.94,772.06 502.27,767.45 501.60,763.50 500.93,763.69 500.26,773.54 499.59,765.23 498.91,766.98 498.24,776.22 497.57,771.97 496.90,772.24 496.23,772.34 495.56,775.33 494.89,771.40 494.22,774.36 493.55,780.11 492.88,779.73 492.21,779.36 491.53,781.75 490.86,784.96 490.19,779.82 489.52,781.35 488.85,782.53 488.18,782.25 487.51,787.75 486.84,784.19 486.17,785.41 485.50,784.98 484.83,786.98 484.15,788.98 483.48,786.56 482.81,785.40 482.14,785.59 481.47,786.16 480.80,785.92 480.13,786.13 479.46,783.86 478.79,785.39 478.12,784.64 477.45,782.99 476.78,783.35 476.10,784.42 475.43,785.02 474.76,784.31 474.09,784.77 473.42,785.03 472.75,784.21 472.08,783.71 471.41,784.12 470.74,784.95 470.07,782.84 469.40,784.72 468.72,783.00 468.05,784.76 467.38,785.03 466.71,783.83 466.04,784.49 465.37,784.84 464.70,784.31 464.03,785.95 463.36,784.65 462.69,784.95 462.02,784.61 461.35,785.18 460.67,785.23 460.00,785.88 459.33,785.87 458.66,784.96 457.99,786.18 457.32,784.63 456.65,785.55 455.98,786.59 455.31,786.62 454.64,786.51 453.97,785.01 453.29,783.24 452.62,784.71 451.95,784.36 451.28,782.06 450.61,782.51 449.94,781.88 449.27,781.63 448.60,783.76 447.93,783.06 447.26,783.13 446.59,783.09 445.91,782.77 445.24,782.12 444.57,782.14 443.90,782.46 443.23,781.40 442.56,782.47 441.89,784.77 441.22,783.98 440.55,783.22 439.88,783.81 439.21,783.66 438.54,783.94 437.86,785.13 437.19,784.25 436.52,786.47 435.85,786.59 435.18,787.26 434.51,786.89" fill="#9a9a9a" fill-opacity="0.58" stroke="none"/>
<polygon points="434.51,777.70 435.18,777.23 435.85,777.45 436.52,776.43 437.19,775.85 437.86,776.97 438.54,776.46 439.21,775.18 439.88,776.88 440.55,776.11 441.22,776.66 441.89,774.64 442.56,776.60 443.23,776.22 443.90,776.71 444.57,775.04 445.24,776.85 445.91,775.91 446.59,776.28 447.26,776.36 447.93,777.75 448.60,777.08 449.27,777.38 449.94,777.61 450.61,776.50 451.28,777.12 451.95,777.84 452.62,777.95 453.29,778.51 453.97,779.15 454.64,779.69 455.31,779.81 455.98,778.65 456.65,777.58 457.32,779.58 457.99,778.66 458.66,777.48 459.33,778.56 460.00,776.79 460.67,777.20 461.35,777.29 462.02,776.02 462.69,776.70 463.36,775.72 464.03,775.91 464.70,775.25 465.37,775.48 466.04,775.93 466.71,776.60 467.38,774.71 468.05,774.05 468.72,773.41 469.40,774.53 470.07,772.57 470.74,772.27 471.41,772.83 472.08,772.68 472.75,772.61 473.42,772.42 474.09,772.06 474.76,772.46 475.43,772.65 476.10,771.35 476.78,772.01 477.45,772.05 478.12,772.24 478.79,771.81 479.46,771.01 480.13,772.18 480.80,772.86 481.47,773.23 482.14,771.78 482.81,771.53 483.48,771.39 484.15,769.66 484.83,770.30 485.50,768.42 486.17,766.21 486.84,765.96 487.51,764.86 488.18,764.69 488.85,762.22 489.52,759.66 490.19,763.34 490.86,759.21 491.53,756.19 492.21,754.37 492.88,757.83 493.55,755.89 494.22,751.58 494.89,750.17 495.56,746.77 496.23,746.08 496.90,748.33 497.57,748.01 498.24,747.69 498.91,742.51 499.59,743.85 500.26,743.95 500.93,745.39 501.60,742.21 502.27,737.82 502.94,737.90 503.61,740.96 504.28,737.42 504.95,741.71 505.62,738.97 506.29,737.01 506.96,735.84 507.64,737.51 508.31,736.88 508.98,731.62 509.65,731.35 510.32,736.32 510.99,731.70 511.66,733.93 512.33,725.82 513.00,724.91 513.67,727.82 514.34,721.42 515.02,721.32 515.69,723.35 516.36,720.71 517.03,722.21 517.70,729.15 518.37,725.58 519.04,722.99 519.71,727.14 520.38,724.14 521.05,735.18 521.72,729.72 522.39,732.41 523.07,736.90 523.74,732.49 524.41,740.33 525.08,737.34 525.75,741.30 526.42,742.38 527.09,747.81 527.76,748.26 528.43,749.24 529.10,749.54 529.77,748.56 530.45,753.96 531.12,758.53 531.79,758.32 532.46,759.49 533.13,758.32 533.80,761.16 534.47,759.26 535.14,763.49 535.81,766.96 536.48,766.97 537.15,767.31 537.83,767.83 538.50,763.37 539.17,768.77 539.84,767.33 540.51,765.93 541.18,767.62 541.85,767.97 542.52,767.53 543.19,770.59 543.86,766.16 544.53,768.84 545.20,767.13 545.88,767.61 546.55,768.96 547.22,769.42 547.89,769.69 548.56,770.18 549.23,772.84 549.90,773.21 550.57,772.04 551.24,772.42 551.91,770.97 552.58,774.36 553.26,776.33 553.93,773.91 554.60,773.81 555.27,775.24 555.94,778.12 556.61,777.07 557.28,775.32 557.95,773.64 558.62,775.90 559.29,771.92 559.96,771.58 560.63,774.31 561.31,773.88 561.98,773.80 562.65,774.14 563.32,770.33 563.99,771.14 564.66,772.80 565.33,770.69 566.00,767.85 566.67,770.35 567.34,769.25 568.01,769.21 568.69,766.91 569.36,764.81 570.03,766.82 570.70,766.36 571.37,766.36 572.04,768.56 572.71,765.77 573.38,763.65 574.05,767.44 574.72,768.14 575.39,766.54 576.06,766.85 576.74,766.82 577.41,763.39 578.08,762.48 578.75,764.30 579.42,767.77 580.09,765.53 580.76,764.78 581.43,765.39 581.43,783.17 580.76,782.64 580.09,782.99 579.42,780.81 578.75,782.79 578.08,782.83 577.41,782.15 576.74,781.48 576.06,784.08 575.39,780.34 574.72,782.00 574.05,783.81 573.38,782.42 572.71,783.67 572.04,783.93 571.37,783.28 570.70,781.42 570.03,784.44 569.36,782.81 568.69,785.53 568.01,782.51 567.34,784.47 566.67,787.59 566.00,788.39 565.33,787.21 564.66,785.19 563.99,786.27 563.32,789.80 562.65,791.04 561.98,789.28 561.31,789.00 560.63,791.85 559.96,791.32 559.29,788.54 558.62,793.58 557.95,793.64 557.28,792.38 556.61,793.89 555.94,792.10 555.27,791.42 554.60,791.23 553.93,792.10 553.26,792.32 552.58,790.72 551.91,791.15 551.24,788.10 550.57,792.69 549.90,789.05 549.23,790.66 548.56,788.57 547.89,789.07 547.22,791.08 546.55,791.28 545.88,788.43 545.20,789.86 544.53,790.61 543.86,789.84 543.19,786.70 542.52,790.13 541.85,787.23 541.18,786.44 540.51,784.14 539.84,788.47 539.17,784.83 538.50,784.95 537.83,786.20 537.15,783.63 536.48,785.06 535.81,786.19 535.14,783.60 534.47,784.51 533.80,785.03 533.13,781.82 532.46,780.55 531.79,779.28 531.12,777.52 530.45,777.85 529.77,780.24 529.10,777.42 528.43,771.78 527.76,773.86 527.09,769.94 526.42,773.49 525.75,774.25 525.08,770.40 524.41,766.18 523.74,766.33 523.07,761.51 522.39,760.71 521.72,758.98 521.05,764.09 520.38,765.76 519.71,765.52 519.04,756.19 518.37,763.01 517.70,759.31 517.03,761.26 516.36,763.14 515.69,753.86 515.02,759.05 514.34,760.13 513.67,762.22 513.00,761.37 512.33,761.94 511.66,756.89 510.99,758.90 510.32,759.35 509.65,759.20 508.98,763.38 508.31,765.72 507.64,765.60 506.96,765.47 506.29,766.84 505.62,767.82 504.95,762.44 504.28,768.91 503.61,767.54 502.94,765.36 502.27,764.16 501.60,765.47 500.93,768.31 500.26,766.88 499.59,764.55 498.91,768.91 498.24,767.57 497.57,769.04 496.90,770.40 496.23,770.65 495.56,773.92 494.89,773.50 494.22,772.67 493.55,771.75 492.88,776.32 492.21,773.29 491.53,779.32 490.86,775.52 490.19,778.30 489.52,779.97 488.85,779.76 488.18,780.58 487.51,780.18 486.84,781.97 486.17,782.40 485.50,782.67 484.83,782.10 484.15,782.93 483.48,781.49 482.81,782.56 482.14,781.11 481.47,780.59 480.80,780.89 480.13,782.26 479.46,781.45 478.79,782.14 478.12,781.80 477.45,778.84 476.78,780.40 476.10,781.84 475.43,780.85 474.76,781.42 474.09,780.04 473.42,781.00 472.75,781.56 472.08,781.61 471.41,781.36 470.74,780.37 470.07,781.33 469.40,782.05 468.72,781.05 468.05,782.94 467.38,782.57 466.71,784.33 466.04,784.27 465.37,784.61 464.70,783.08 464.03,784.30 463.36,785.12 462.69,785.51 462.02,785.10 461.35,786.57 460.67,786.40 460.00,785.89 459.33,785.53 458.66,786.39 457.99,787.08 457.32,787.50 456.65,787.50 455.98,786.64 455.31,787.68 454.64,787.03 453.97,785.91 453.29,785.09 452.62,786.51 451.95,785.53 451.28,784.51 450.61,786.44 449.94,785.38 449.27,785.63 448.60,785.18 447.93,785.18 447.26,784.56 446.59,785.24 445.91,785.29 445.24,783.90 444.57,783.58 443.90,784.37 443.23,785.00 442.56,785.20 441.89,784.78 441.22,783.16 440.55,783.97 439.88,784.26 439.21,785.00 438.54,784.05 437.86,785.43 437.19,783.79 436.52,785.64 435.85,785.64 435.18,784.46 434.51,786.32" fill="#f5b486" fill-opacity="0.55" stroke="none"/>
<path d="M434.51,781.60 L435.18,781.37 L435.85,781.24 L436.52,781.10 L437.19,780.75 L437.86,780.38 L438.54,780.56 L439.21,780.39 L439.88,780.55 L440.55,780.66 L441.22,780.19 L441.89,779.80 L442.56,780.12 L443.23,780.08 L443.90,780.68 L444.57,779.85 L445.24,779.93 L445.91,780.13 L446.59,780.87 L447.26,780.73 L447.93,780.78 L448.60,781.46 L449.27,781.48 L449.94,781.23 L450.61,781.23 L451.28,781.44 L451.95,781.68 L452.62,781.55 L453.29,781.82 L453.97,782.89 L454.64,782.98 L455.31,783.53 L455.98,782.45 L456.65,782.25 L457.32,782.62 L457.99,782.65 L458.66,782.47 L459.33,781.85 L460.00,781.68 L460.67,782.06 L461.35,781.29 L462.02,781.36 L462.69,781.26 L463.36,780.26 L464.03,779.95 L464.70,779.76 L465.37,779.56 L466.04,779.64 L466.71,779.91 L467.38,779.29 L468.05,778.52 L468.72,777.59 L469.40,777.70 L470.07,777.79 L470.74,776.82 L471.41,776.75 L472.08,776.53 L472.75,776.82 L473.42,777.08 L474.09,777.08 L474.76,777.24 L475.43,776.96 L476.10,776.60 L476.78,775.96 L477.45,775.77 L478.12,776.38 L478.79,776.95 L479.46,776.31 L480.13,777.31 L480.80,777.61 L481.47,777.05 L482.14,777.04 L482.81,776.66 L483.48,776.50 L484.15,775.91 L484.83,775.30 L485.50,774.68 L486.17,774.22 L486.84,774.18 L487.51,773.66 L488.18,772.51 L488.85,772.22 L489.52,770.76 L490.19,769.67 L490.86,768.11 L491.53,767.56 L492.21,765.85 L492.88,765.28 L493.55,764.15 L494.22,762.99 L494.89,762.22 L495.56,760.80 L496.23,759.56 L496.90,758.26 L497.57,757.85 L498.24,756.55 L498.91,756.36 L499.59,755.74 L500.26,755.97 L500.93,755.40 L501.60,754.55 L502.27,754.13 L502.94,754.22 L503.61,753.40 L504.28,752.53 L504.95,751.78 L505.62,752.12 L506.29,751.77 L506.96,751.02 L507.64,750.75 L508.31,749.26 L508.98,748.29 L509.65,747.42 L510.32,746.83 L510.99,746.36 L511.66,745.46 L512.33,745.07 L513.00,743.47 L513.67,743.14 L514.34,741.92 L515.02,742.08 L515.69,742.21 L516.36,741.86 L517.03,741.71 L517.70,741.32 L518.37,743.00 L519.04,743.71 L519.71,744.41 L520.38,745.10 L521.05,746.52 L521.72,747.01 L522.39,748.56 L523.07,749.59 L523.74,751.26 L524.41,752.62 L525.08,754.12 L525.75,755.71 L526.42,756.66 L527.09,758.90 L527.76,760.93 L528.43,761.55 L529.10,763.74 L529.77,764.65 L530.45,766.36 L531.12,767.76 L531.79,769.82 L532.46,771.01 L533.13,771.59 L533.80,772.83 L534.47,773.83 L535.14,775.15 L535.81,774.99 L536.48,775.62 L537.15,775.33 L537.83,776.24 L538.50,776.02 L539.17,776.42 L539.84,776.70 L540.51,776.80 L541.18,777.04 L541.85,777.97 L542.52,778.08 L543.19,777.84 L543.86,778.41 L544.53,779.10 L545.20,779.23 L545.88,778.82 L546.55,779.85 L547.22,779.32 L547.89,780.47 L548.56,780.37 L549.23,781.00 L549.90,781.62 L550.57,781.15 L551.24,781.20 L551.91,782.26 L552.58,782.59 L553.26,783.12 L553.93,782.89 L554.60,782.85 L555.27,783.13 L555.94,784.26 L556.61,784.51 L557.28,783.73 L557.95,782.76 L558.62,782.97 L559.29,782.13 L559.96,782.08 L560.63,781.76 L561.31,781.03 L561.98,781.06 L562.65,780.31 L563.32,780.16 L563.99,779.76 L564.66,779.27 L565.33,778.18 L566.00,777.63 L566.67,776.89 L567.34,776.83 L568.01,776.22 L568.69,776.40 L569.36,775.70 L570.03,775.39 L570.70,774.95 L571.37,774.89 L572.04,774.47 L572.71,774.28 L573.38,774.41 L574.05,774.22 L574.72,774.17 L575.39,773.61 L576.06,773.69 L576.74,773.37 L577.41,773.47 L578.08,773.21 L578.75,772.98 L579.42,773.74 L580.09,773.10 L580.76,773.24 L581.43,773.42" fill="none" stroke="#ef7d22" stroke-width="1.5" stroke-linejoin="round" />
<path d="M434.51,783.40 L435.18,783.08 L435.85,782.13 L436.52,782.21 L437.19,781.05 L437.86,780.57 L438.54,780.29 L439.21,780.28 L439.88,779.62 L440.55,779.94 L441.22,779.43 L441.89,779.35 L442.56,779.00 L443.23,778.15 L443.90,778.58 L444.57,777.89 L445.24,777.65 L445.91,778.50 L446.59,777.75 L447.26,778.23 L447.93,778.32 L448.60,778.70 L449.27,778.57 L449.94,778.12 L450.61,778.96 L451.28,779.04 L451.95,779.26 L452.62,779.47 L453.29,780.00 L453.97,780.72 L454.64,781.30 L455.31,781.67 L455.98,781.71 L456.65,781.11 L457.32,781.00 L457.99,781.69 L458.66,781.84 L459.33,782.14 L460.00,781.19 L460.67,781.90 L461.35,781.55 L462.02,781.56 L462.69,781.42 L463.36,780.38 L464.03,780.53 L464.70,780.22 L465.37,779.77 L466.04,779.93 L466.71,779.64 L467.38,779.60 L468.05,779.77 L468.72,779.85 L469.40,779.48 L470.07,779.60 L470.74,780.05 L471.41,779.54 L472.08,779.49 L472.75,779.33 L473.42,779.62 L474.09,779.98 L474.76,780.21 L475.43,779.97 L476.10,780.43 L476.78,779.92 L477.45,779.86 L478.12,779.80 L478.79,780.69 L479.46,780.66 L480.13,780.81 L480.80,780.92 L481.47,781.31 L482.14,782.02 L482.81,781.28 L483.48,780.40 L484.15,780.34 L484.83,778.83 L485.50,778.14 L486.17,778.03 L486.84,776.64 L487.51,776.02 L488.18,774.57 L488.85,773.29 L489.52,770.93 L490.19,769.33 L490.86,768.22 L491.53,766.38 L492.21,764.89 L492.88,762.67 L493.55,762.03 L494.22,760.33 L494.89,758.74 L495.56,757.20 L496.23,756.53 L496.90,754.67 L497.57,753.97 L498.24,752.97 L498.91,751.60 L499.59,750.23 L500.26,749.78 L500.93,749.30 L501.60,748.63 L502.27,747.44 L502.94,745.92 L503.61,745.22 L504.28,744.74 L504.95,744.06 L505.62,743.75 L506.29,743.15 L506.96,742.45 L507.64,741.20 L508.31,740.44 L508.98,740.69 L509.65,739.95 L510.32,739.02 L510.99,739.54 L511.66,739.35 L512.33,738.10 L513.00,738.01 L513.67,737.29 L514.34,737.03 L515.02,737.72 L515.69,737.50 L516.36,738.49 L517.03,738.92 L517.70,739.53 L518.37,739.60 L519.04,740.85 L519.71,741.28 L520.38,742.07 L521.05,743.60 L521.72,745.64 L522.39,747.56 L523.07,748.47 L523.74,749.83 L524.41,751.61 L525.08,753.32 L525.75,755.53 L526.42,757.14 L527.09,759.12 L527.76,760.81 L528.43,762.94 L529.10,764.54 L529.77,766.55 L530.45,768.20 L531.12,771.13 L531.79,773.85 L532.46,776.13 L533.13,778.12 L533.80,778.81 L534.47,780.08 L535.14,781.34 L535.81,782.43 L536.48,783.71 L537.15,784.82 L537.83,785.32 L538.50,784.88 L539.17,785.14 L539.84,785.82 L540.51,785.89 L541.18,786.13 L541.85,787.15 L542.52,787.14 L543.19,786.56 L543.86,786.23 L544.53,786.22 L545.20,786.54 L545.88,785.91 L546.55,786.01 L547.22,785.43 L547.89,785.17 L548.56,784.99 L549.23,785.61 L549.90,784.76 L550.57,785.16 L551.24,785.19 L551.91,784.68 L552.58,784.20 L553.26,784.28 L553.93,783.23 L554.60,783.74 L555.27,782.76 L555.94,782.35 L556.61,781.92 L557.28,781.93 L557.95,781.17 L558.62,782.17 L559.29,782.64 L559.96,782.72 L560.63,783.04 L561.31,784.43 L561.98,784.41 L562.65,784.17 L563.32,784.93 L563.99,785.51 L564.66,785.31 L565.33,785.13 L566.00,785.95 L566.67,785.69 L567.34,786.43 L568.01,785.75 L568.69,786.68 L569.36,787.00 L570.03,786.37 L570.70,786.78 L571.37,787.38 L572.04,787.41 L572.71,786.52 L573.38,786.18 L574.05,786.60 L574.72,786.96 L575.39,786.19 L576.06,786.53 L576.74,785.83 L577.41,785.75 L578.08,785.26 L578.75,786.16 L579.42,785.51 L580.09,786.33 L580.76,785.98 L581.43,786.17" fill="none" stroke="#1a1a1a" stroke-width="1.5" stroke-linejoin="round" />
<path d="M429.3,695.8 V808.2 H585.6" fill="none" stroke="#2a2a2a" stroke-width="1.0"/>
<line x1="429.3" y1="808.2" x2="431.8" y2="808.2" stroke="#2a2a2a" stroke-width="1.0"/>
<text x="427.0" y="811.2" font-size="8.9" fill="#2a2a2a" text-anchor="end" >-20</text>
<line x1="429.3" y1="780.1" x2="431.8" y2="780.1" stroke="#2a2a2a" stroke-width="1.0"/>
<text x="427.0" y="783.1" font-size="8.9" fill="#2a2a2a" text-anchor="end" >0</text>
<line x1="429.3" y1="752.0" x2="431.8" y2="752.0" stroke="#2a2a2a" stroke-width="1.0"/>
<text x="427.0" y="755.0" font-size="8.9" fill="#2a2a2a" text-anchor="end" >20</text>
<line x1="429.3" y1="723.9" x2="431.8" y2="723.9" stroke="#2a2a2a" stroke-width="1.0"/>
<text x="427.0" y="726.9" font-size="8.9" fill="#2a2a2a" text-anchor="end" >40</text>
<line x1="429.3" y1="695.8" x2="431.8" y2="695.8" stroke="#2a2a2a" stroke-width="1.0"/>
<text x="427.0" y="698.8" font-size="8.9" fill="#2a2a2a" text-anchor="end" >60</text>
<line x1="429.3" y1="808.2" x2="429.3" y2="805.7" stroke="#2a2a2a" stroke-width="1.0"/>
<text x="429.3" y="821.4" font-size="8.9" fill="#2a2a2a" text-anchor="middle" >0</text>
<line x1="455.4" y1="808.2" x2="455.4" y2="805.7" stroke="#2a2a2a" stroke-width="1.0"/>
<text x="455.4" y="821.4" font-size="8.9" fill="#2a2a2a" text-anchor="middle" >5</text>
<line x1="481.4" y1="808.2" x2="481.4" y2="805.7" stroke="#2a2a2a" stroke-width="1.0"/>
<text x="481.4" y="821.4" font-size="8.9" fill="#2a2a2a" text-anchor="middle" >10</text>
<line x1="507.5" y1="808.2" x2="507.5" y2="805.7" stroke="#2a2a2a" stroke-width="1.0"/>
<text x="507.5" y="821.4" font-size="8.9" fill="#2a2a2a" text-anchor="middle" >15</text>
<line x1="533.5" y1="808.2" x2="533.5" y2="805.7" stroke="#2a2a2a" stroke-width="1.0"/>
<text x="533.5" y="821.4" font-size="8.9" fill="#2a2a2a" text-anchor="middle" >20</text>
<line x1="559.6" y1="808.2" x2="559.6" y2="805.7" stroke="#2a2a2a" stroke-width="1.0"/>
<text x="559.6" y="821.4" font-size="8.9" fill="#2a2a2a" text-anchor="middle" >25</text>
<line x1="585.6" y1="808.2" x2="585.6" y2="805.7" stroke="#2a2a2a" stroke-width="1.0"/>
<text x="585.6" y="821.4" font-size="8.9" fill="#2a2a2a" text-anchor="middle" >30</text>
<text x="508.5" y="830.8" font-size="10" fill="#1a1a1a" text-anchor="middle" >Time (s)</text>
<text x="413.9" y="751.9" font-size="9.2" fill="#231f20" text-anchor="middle" transform="rotate(-90 413.9 751.9)">% change in blood flow</text>
<text x="537.9" y="715.2" font-size="8.9" fill="#1a1a1a" text-anchor="start" >Before CO<tspan font-size="5.5" dy="1.5">2</tspan></text>
<text x="537.9" y="725.7" font-size="8.9" fill="#ef7d22" text-anchor="start" >During CO<tspan font-size="5.5" dy="1.5">2</tspan></text>
<text x="312.0" y="506.7" font-size="12.2" fill="#231f20" text-anchor="start" >l</text>
<rect x="341.6" y="580.6" width="19.1" height="42.7" fill="#fff" stroke="#222" stroke-width="0.9"/>
<rect x="370.1" y="570.8" width="18.5" height="52.5" fill="#ef7d22" stroke="#3a2010" stroke-width="0.8"/>
<line x1="351.0" y1="536.9" x2="379.2" y2="519.3" stroke="#111" stroke-width="1.4"/>
<line x1="351.0" y1="556.9" x2="379.2" y2="577.5" stroke="#111" stroke-width="1.4"/>
<line x1="351.0" y1="562.9" x2="379.2" y2="581.7" stroke="#111" stroke-width="1.4"/>
<line x1="351.0" y1="571.5" x2="379.2" y2="533.6" stroke="#111" stroke-width="1.4"/>
<line x1="351.0" y1="573.4" x2="379.2" y2="529.1" stroke="#111" stroke-width="1.4"/>
<line x1="351.0" y1="578.5" x2="379.2" y2="569.1" stroke="#111" stroke-width="1.4"/>
<line x1="351.0" y1="580.9" x2="379.2" y2="586.7" stroke="#111" stroke-width="1.4"/>
<line x1="351.0" y1="592.4" x2="379.2" y2="567.1" stroke="#111" stroke-width="1.4"/>
<line x1="351.0" y1="594.4" x2="379.2" y2="576.5" stroke="#111" stroke-width="1.4"/>
<line x1="351.0" y1="600.9" x2="379.2" y2="589.6" stroke="#111" stroke-width="1.4"/>
<line x1="351.0" y1="602.6" x2="379.2" y2="601.3" stroke="#111" stroke-width="1.4"/>
<line x1="351.0" y1="607.7" x2="379.2" y2="603.2" stroke="#111" stroke-width="1.4"/>
<line x1="351.0" y1="593.7" x2="379.2" y2="584.7" stroke="#111" stroke-width="1.4"/>
<circle cx="351.0" cy="536.9" r="2.6" fill="#111"/>
<circle cx="379.2" cy="519.3" r="2.6" fill="#111"/>
<circle cx="351.0" cy="556.9" r="2.6" fill="#111"/>
<circle cx="379.2" cy="577.5" r="2.6" fill="#111"/>
<circle cx="351.0" cy="562.9" r="2.6" fill="#111"/>
<circle cx="379.2" cy="581.7" r="2.6" fill="#111"/>
<circle cx="351.0" cy="571.5" r="2.6" fill="#111"/>
<circle cx="379.2" cy="533.6" r="2.6" fill="#111"/>
<circle cx="351.0" cy="573.4" r="2.6" fill="#111"/>
<circle cx="379.2" cy="529.1" r="2.6" fill="#111"/>
<circle cx="351.0" cy="578.5" r="2.6" fill="#111"/>
<circle cx="379.2" cy="569.1" r="2.6" fill="#111"/>
<circle cx="351.0" cy="580.9" r="2.6" fill="#111"/>
<circle cx="379.2" cy="586.7" r="2.6" fill="#111"/>
<circle cx="351.0" cy="592.4" r="2.6" fill="#111"/>
<circle cx="379.2" cy="567.1" r="2.6" fill="#111"/>
<circle cx="351.0" cy="594.4" r="2.6" fill="#111"/>
<circle cx="379.2" cy="576.5" r="2.6" fill="#111"/>
<circle cx="351.0" cy="600.9" r="2.6" fill="#111"/>
<circle cx="379.2" cy="589.6" r="2.6" fill="#111"/>
<circle cx="351.0" cy="602.6" r="2.6" fill="#111"/>
<circle cx="379.2" cy="601.3" r="2.6" fill="#111"/>
<circle cx="351.0" cy="607.7" r="2.6" fill="#111"/>
<circle cx="379.2" cy="603.2" r="2.6" fill="#111"/>
<circle cx="351.0" cy="593.7" r="2.6" fill="#111"/>
<circle cx="379.2" cy="584.7" r="2.6" fill="#111"/>
<path d="M337.3,510.6 V623.3 H393.9" fill="none" stroke="#231f20" stroke-width="0.9"/>
<line x1="337.3" y1="623.3" x2="339.8" y2="623.3" stroke="#231f20" stroke-width="0.8"/>
<text x="335.8" y="626.3" font-size="8.6" fill="#231f20" text-anchor="end" >0</text>
<line x1="337.3" y1="595.1" x2="339.8" y2="595.1" stroke="#231f20" stroke-width="0.8"/>
<text x="335.8" y="598.1" font-size="8.6" fill="#231f20" text-anchor="end" >20</text>
<line x1="337.3" y1="567.0" x2="339.8" y2="567.0" stroke="#231f20" stroke-width="0.8"/>
<text x="335.8" y="570.0" font-size="8.6" fill="#231f20" text-anchor="end" >40</text>
<line x1="337.3" y1="538.8" x2="339.8" y2="538.8" stroke="#231f20" stroke-width="0.8"/>
<text x="335.8" y="541.8" font-size="8.6" fill="#231f20" text-anchor="end" >60</text>
<line x1="337.3" y1="510.6" x2="339.8" y2="510.6" stroke="#231f20" stroke-width="0.8"/>
<text x="335.8" y="513.6" font-size="8.6" fill="#231f20" text-anchor="end" >80</text>
<text x="321.7" y="568.0" font-size="9.2" fill="#231f20" text-anchor="middle" transform="rotate(-90 321.7 568.0)">AUC</text>
<text x="356.5" y="629.0" font-size="8.6" fill="#231f20" text-anchor="end" transform="rotate(-45 356.5 629.0)">Before CO<tspan font-size="6" dy="1.2">2</tspan></text>
<text x="384.7" y="629.0" font-size="8.6" fill="#231f20" text-anchor="end" transform="rotate(-45 384.7 629.0)">During CO<tspan font-size="6" dy="1.2">2</tspan></text>
<text x="592.0" y="506.7" font-size="12.2" fill="#231f20" text-anchor="start" >n</text>
<rect x="629.6" y="578.4" width="18.3" height="44.9" fill="#fff" stroke="#222" stroke-width="0.9"/>
<rect x="657.3" y="584.1" width="18.5" height="39.2" fill="#ef7d22" stroke="#3a2010" stroke-width="0.8"/>
<line x1="638.4" y1="539.9" x2="666.7" y2="594.0" stroke="#111" stroke-width="1.4"/>
<line x1="638.4" y1="551.6" x2="666.7" y2="537.0" stroke="#111" stroke-width="1.4"/>
<line x1="638.4" y1="554.6" x2="666.7" y2="578.2" stroke="#111" stroke-width="1.4"/>
<line x1="638.4" y1="567.6" x2="666.7" y2="579.8" stroke="#111" stroke-width="1.4"/>
<line x1="638.4" y1="568.8" x2="666.7" y2="581.8" stroke="#111" stroke-width="1.4"/>
<line x1="638.4" y1="580.9" x2="666.7" y2="584.8" stroke="#111" stroke-width="1.4"/>
<line x1="638.4" y1="586.3" x2="666.7" y2="596.5" stroke="#111" stroke-width="1.4"/>
<line x1="638.4" y1="588.1" x2="666.7" y2="589.5" stroke="#111" stroke-width="1.4"/>
<line x1="638.4" y1="590.6" x2="666.7" y2="599.4" stroke="#111" stroke-width="1.4"/>
<line x1="638.4" y1="596.7" x2="666.7" y2="592.4" stroke="#111" stroke-width="1.4"/>
<line x1="638.4" y1="601.2" x2="666.7" y2="594.4" stroke="#111" stroke-width="1.4"/>
<line x1="638.4" y1="604.6" x2="666.7" y2="602.3" stroke="#111" stroke-width="1.4"/>
<line x1="638.4" y1="614.3" x2="666.7" y2="610.5" stroke="#111" stroke-width="1.4"/>
<line x1="638.4" y1="553.4" x2="666.7" y2="538.3" stroke="#111" stroke-width="1.4"/>
<circle cx="638.4" cy="539.9" r="2.6" fill="#111"/>
<circle cx="666.7" cy="594.0" r="2.6" fill="#111"/>
<circle cx="638.4" cy="551.6" r="2.6" fill="#111"/>
<circle cx="666.7" cy="537.0" r="2.6" fill="#111"/>
<circle cx="638.4" cy="554.6" r="2.6" fill="#111"/>
<circle cx="666.7" cy="578.2" r="2.6" fill="#111"/>
<circle cx="638.4" cy="567.6" r="2.6" fill="#111"/>
<circle cx="666.7" cy="579.8" r="2.6" fill="#111"/>
<circle cx="638.4" cy="568.8" r="2.6" fill="#111"/>
<circle cx="666.7" cy="581.8" r="2.6" fill="#111"/>
<circle cx="638.4" cy="580.9" r="2.6" fill="#111"/>
<circle cx="666.7" cy="584.8" r="2.6" fill="#111"/>
<circle cx="638.4" cy="586.3" r="2.6" fill="#111"/>
<circle cx="666.7" cy="596.5" r="2.6" fill="#111"/>
<circle cx="638.4" cy="588.1" r="2.6" fill="#111"/>
<circle cx="666.7" cy="589.5" r="2.6" fill="#111"/>
<circle cx="638.4" cy="590.6" r="2.6" fill="#111"/>
<circle cx="666.7" cy="599.4" r="2.6" fill="#111"/>
<circle cx="638.4" cy="596.7" r="2.6" fill="#111"/>
<circle cx="666.7" cy="592.4" r="2.6" fill="#111"/>
<circle cx="638.4" cy="601.2" r="2.6" fill="#111"/>
<circle cx="666.7" cy="594.4" r="2.6" fill="#111"/>
<circle cx="638.4" cy="604.6" r="2.6" fill="#111"/>
<circle cx="666.7" cy="602.3" r="2.6" fill="#111"/>
<circle cx="638.4" cy="614.3" r="2.6" fill="#111"/>
<circle cx="666.7" cy="610.5" r="2.6" fill="#111"/>
<circle cx="638.4" cy="553.4" r="2.6" fill="#111"/>
<circle cx="666.7" cy="538.3" r="2.6" fill="#111"/>
<path d="M625.1,510.6 V623.3 H680.7" fill="none" stroke="#231f20" stroke-width="0.9"/>
<line x1="625.1" y1="623.3" x2="627.6" y2="623.3" stroke="#231f20" stroke-width="0.8"/>
<text x="623.6" y="626.3" font-size="8.6" fill="#231f20" text-anchor="end" >0</text>
<line x1="625.1" y1="600.8" x2="627.6" y2="600.8" stroke="#231f20" stroke-width="0.8"/>
<text x="623.6" y="603.8" font-size="8.6" fill="#231f20" text-anchor="end" >100</text>
<line x1="625.1" y1="578.2" x2="627.6" y2="578.2" stroke="#231f20" stroke-width="0.8"/>
<text x="623.6" y="581.2" font-size="8.6" fill="#231f20" text-anchor="end" >200</text>
<line x1="625.1" y1="555.7" x2="627.6" y2="555.7" stroke="#231f20" stroke-width="0.8"/>
<text x="623.6" y="558.7" font-size="8.6" fill="#231f20" text-anchor="end" >300</text>
<line x1="625.1" y1="533.1" x2="627.6" y2="533.1" stroke="#231f20" stroke-width="0.8"/>
<text x="623.6" y="536.1" font-size="8.6" fill="#231f20" text-anchor="end" >400</text>
<line x1="625.1" y1="510.6" x2="627.6" y2="510.6" stroke="#231f20" stroke-width="0.8"/>
<text x="623.6" y="513.6" font-size="8.6" fill="#231f20" text-anchor="end" >500</text>
<text x="605.5" y="566.0" font-size="9.2" fill="#231f20" text-anchor="middle" transform="rotate(-90 605.5 566.0)">AUC</text>
<text x="643.9" y="629.0" font-size="8.6" fill="#231f20" text-anchor="end" transform="rotate(-45 643.9 629.0)">Before CO<tspan font-size="6" dy="1.2">2</tspan></text>
<text x="672.2" y="629.0" font-size="8.6" fill="#231f20" text-anchor="end" transform="rotate(-45 672.2 629.0)">During CO<tspan font-size="6" dy="1.2">2</tspan></text>
<text x="311.0" y="690.8" font-size="12.2" fill="#231f20" text-anchor="start" >q</text>
<rect x="342.0" y="735.3" width="18.6" height="72.5" fill="#fff" stroke="#222" stroke-width="0.9"/>
<rect x="370.4" y="737.3" width="18.0" height="70.5" fill="#ef7d22" stroke="#3a2010" stroke-width="0.8"/>
<line x1="351.2" y1="705.9" x2="379.4" y2="723.5" stroke="#111" stroke-width="1.4"/>
<line x1="351.2" y1="728.0" x2="379.4" y2="709.0" stroke="#111" stroke-width="1.4"/>
<line x1="351.2" y1="729.9" x2="379.4" y2="738.3" stroke="#111" stroke-width="1.4"/>
<line x1="351.2" y1="736.2" x2="379.4" y2="729.0" stroke="#111" stroke-width="1.4"/>
<line x1="351.2" y1="744.1" x2="379.4" y2="748.6" stroke="#111" stroke-width="1.4"/>
<line x1="351.2" y1="747.3" x2="379.4" y2="750.0" stroke="#111" stroke-width="1.4"/>
<line x1="351.2" y1="751.5" x2="379.4" y2="758.8" stroke="#111" stroke-width="1.4"/>
<circle cx="351.2" cy="705.9" r="2.6" fill="#111"/>
<circle cx="379.4" cy="723.5" r="2.6" fill="#111"/>
<circle cx="351.2" cy="728.0" r="2.6" fill="#111"/>
<circle cx="379.4" cy="709.0" r="2.6" fill="#111"/>
<circle cx="351.2" cy="729.9" r="2.6" fill="#111"/>
<circle cx="379.4" cy="738.3" r="2.6" fill="#111"/>
<circle cx="351.2" cy="736.2" r="2.6" fill="#111"/>
<circle cx="379.4" cy="729.0" r="2.6" fill="#111"/>
<circle cx="351.2" cy="744.1" r="2.6" fill="#111"/>
<circle cx="379.4" cy="748.6" r="2.6" fill="#111"/>
<circle cx="351.2" cy="747.3" r="2.6" fill="#111"/>
<circle cx="379.4" cy="750.0" r="2.6" fill="#111"/>
<circle cx="351.2" cy="751.5" r="2.6" fill="#111"/>
<circle cx="379.4" cy="758.8" r="2.6" fill="#111"/>
<path d="M337.5,695.3 V807.8 H393.9" fill="none" stroke="#231f20" stroke-width="0.9"/>
<line x1="337.5" y1="807.8" x2="340.0" y2="807.8" stroke="#231f20" stroke-width="0.8"/>
<text x="336.0" y="810.8" font-size="8.6" fill="#231f20" text-anchor="end" >0</text>
<line x1="337.5" y1="785.3" x2="340.0" y2="785.3" stroke="#231f20" stroke-width="0.8"/>
<text x="336.0" y="788.3" font-size="8.6" fill="#231f20" text-anchor="end" >20</text>
<line x1="337.5" y1="762.8" x2="340.0" y2="762.8" stroke="#231f20" stroke-width="0.8"/>
<text x="336.0" y="765.8" font-size="8.6" fill="#231f20" text-anchor="end" >40</text>
<line x1="337.5" y1="740.3" x2="340.0" y2="740.3" stroke="#231f20" stroke-width="0.8"/>
<text x="336.0" y="743.3" font-size="8.6" fill="#231f20" text-anchor="end" >60</text>
<line x1="337.5" y1="717.8" x2="340.0" y2="717.8" stroke="#231f20" stroke-width="0.8"/>
<text x="336.0" y="720.8" font-size="8.6" fill="#231f20" text-anchor="end" >80</text>
<line x1="337.5" y1="695.3" x2="340.0" y2="695.3" stroke="#231f20" stroke-width="0.8"/>
<text x="336.0" y="698.3" font-size="8.6" fill="#231f20" text-anchor="end" >100</text>
<text x="321.7" y="752.0" font-size="9.2" fill="#231f20" text-anchor="middle" transform="rotate(-90 321.7 752.0)">AUC</text>
<text x="356.7" y="813.5" font-size="8.6" fill="#231f20" text-anchor="end" transform="rotate(-45 356.7 813.5)">Before CO<tspan font-size="6" dy="1.2">2</tspan></text>
<text x="384.9" y="813.5" font-size="8.6" fill="#231f20" text-anchor="end" transform="rotate(-45 384.9 813.5)">During CO<tspan font-size="6" dy="1.2">2</tspan></text>
<text x="592.0" y="689.8" font-size="12.2" fill="#231f20" text-anchor="start" >s</text>
<rect x="629.3" y="758.5" width="18.6" height="50.1" fill="#fff" stroke="#222" stroke-width="0.9"/>
<rect x="657.3" y="763.3" width="18.7" height="45.3" fill="#ef7d22" stroke="#3a2010" stroke-width="0.8"/>
<line x1="638.7" y1="713.4" x2="666.5" y2="757.6" stroke="#111" stroke-width="1.4"/>
<line x1="638.7" y1="743.7" x2="666.5" y2="741.5" stroke="#111" stroke-width="1.4"/>
<line x1="638.7" y1="746.3" x2="666.5" y2="741.5" stroke="#111" stroke-width="1.4"/>
<line x1="638.7" y1="762.7" x2="666.5" y2="768.4" stroke="#111" stroke-width="1.4"/>
<line x1="638.7" y1="769.2" x2="666.5" y2="774.3" stroke="#111" stroke-width="1.4"/>
<line x1="638.7" y1="775.7" x2="666.5" y2="765.8" stroke="#111" stroke-width="1.4"/>
<line x1="638.7" y1="797.8" x2="666.5" y2="795.6" stroke="#111" stroke-width="1.4"/>
<circle cx="638.7" cy="713.4" r="2.6" fill="#111"/>
<circle cx="666.5" cy="757.6" r="2.6" fill="#111"/>
<circle cx="638.7" cy="743.7" r="2.6" fill="#111"/>
<circle cx="666.5" cy="741.5" r="2.6" fill="#111"/>
<circle cx="638.7" cy="746.3" r="2.6" fill="#111"/>
<circle cx="666.5" cy="741.5" r="2.6" fill="#111"/>
<circle cx="638.7" cy="762.7" r="2.6" fill="#111"/>
<circle cx="666.5" cy="768.4" r="2.6" fill="#111"/>
<circle cx="638.7" cy="769.2" r="2.6" fill="#111"/>
<circle cx="666.5" cy="774.3" r="2.6" fill="#111"/>
<circle cx="638.7" cy="775.7" r="2.6" fill="#111"/>
<circle cx="666.5" cy="765.8" r="2.6" fill="#111"/>
<circle cx="638.7" cy="797.8" r="2.6" fill="#111"/>
<circle cx="666.5" cy="795.6" r="2.6" fill="#111"/>
<path d="M624.9,695.3 V808.6 H680.7" fill="none" stroke="#231f20" stroke-width="0.9"/>
<line x1="624.9" y1="808.6" x2="627.4" y2="808.6" stroke="#231f20" stroke-width="0.8"/>
<text x="623.4" y="811.6" font-size="8.6" fill="#231f20" text-anchor="end" >0</text>
<line x1="624.9" y1="780.3" x2="627.4" y2="780.3" stroke="#231f20" stroke-width="0.8"/>
<text x="623.4" y="783.3" font-size="8.6" fill="#231f20" text-anchor="end" >100</text>
<line x1="624.9" y1="752.0" x2="627.4" y2="752.0" stroke="#231f20" stroke-width="0.8"/>
<text x="623.4" y="755.0" font-size="8.6" fill="#231f20" text-anchor="end" >200</text>
<line x1="624.9" y1="723.6" x2="627.4" y2="723.6" stroke="#231f20" stroke-width="0.8"/>
<text x="623.4" y="726.6" font-size="8.6" fill="#231f20" text-anchor="end" >300</text>
<line x1="624.9" y1="695.3" x2="627.4" y2="695.3" stroke="#231f20" stroke-width="0.8"/>
<text x="623.4" y="698.3" font-size="8.6" fill="#231f20" text-anchor="end" >400</text>
<text x="601.6" y="752.0" font-size="9.2" fill="#231f20" text-anchor="middle" transform="rotate(-90 601.6 752.0)">AUC</text>
<text x="644.2" y="813.5" font-size="8.6" fill="#231f20" text-anchor="end" transform="rotate(-45 644.2 813.5)">Before CO<tspan font-size="6" dy="1.2">2</tspan></text>
<text x="672.0" y="813.5" font-size="8.6" fill="#231f20" text-anchor="end" transform="rotate(-45 672.0 813.5)">During CO<tspan font-size="6" dy="1.2">2</tspan></text>
</svg>
</body></html>
